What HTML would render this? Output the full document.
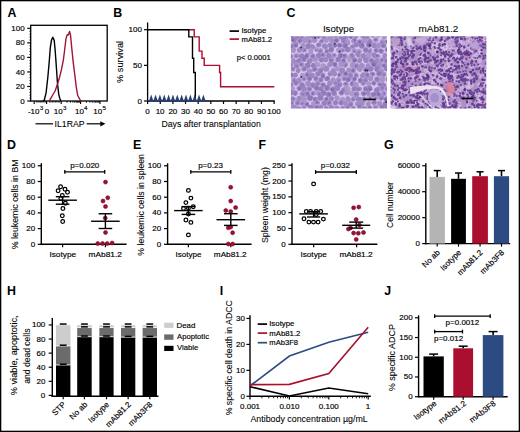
<!DOCTYPE html>
<html><head><meta charset="utf-8"><style>
html,body{margin:0;padding:0;background:#fff;}
svg{display:block;font-family:"Liberation Sans",sans-serif;}
</style></head><body>
<svg width="520" height="432" viewBox="0 0 520 432">
<rect x="0" y="0" width="520" height="432" fill="#fff"/>
<text x="7.59" y="16.70" font-size="12.4" font-weight="bold" text-anchor="start">A</text>
<text x="113.33" y="16.80" font-size="12.4" font-weight="bold" text-anchor="start">B</text>
<text x="286.40" y="16.70" font-size="12.4" font-weight="bold" text-anchor="start">C</text>
<text x="6.93" y="148.75" font-size="12.4" font-weight="bold" text-anchor="start">D</text>
<text x="133.03" y="148.75" font-size="12.4" font-weight="bold" text-anchor="start">E</text>
<text x="258.53" y="148.75" font-size="12.4" font-weight="bold" text-anchor="start">F</text>
<text x="383.90" y="148.75" font-size="12.4" font-weight="bold" text-anchor="start">G</text>
<text x="7.03" y="294.70" font-size="12.4" font-weight="bold" text-anchor="start">H</text>
<text x="219.73" y="294.70" font-size="12.4" font-weight="bold" text-anchor="start">I</text>
<text x="384.35" y="294.70" font-size="12.4" font-weight="bold" text-anchor="start">J</text>
<rect x="30.7" y="25.3" width="76.50" height="75.70" fill="none" stroke="#000" stroke-width="1.3"/>
<line x1="27.30" y1="101.00" x2="30.70" y2="101.00" stroke="#000" stroke-width="1.2" />
<text x="20.24" y="103.60" font-size="8" font-weight="normal" text-anchor="start" stroke="#000" stroke-width="0.16">0</text>
<line x1="27.30" y1="86.47" x2="30.70" y2="86.47" stroke="#000" stroke-width="1.2" />
<text x="15.84" y="89.07" font-size="8" font-weight="normal" text-anchor="start" stroke="#000" stroke-width="0.16">20</text>
<line x1="27.30" y1="71.94" x2="30.70" y2="71.94" stroke="#000" stroke-width="1.2" />
<text x="15.84" y="74.54" font-size="8" font-weight="normal" text-anchor="start" stroke="#000" stroke-width="0.16">40</text>
<line x1="27.30" y1="57.41" x2="30.70" y2="57.41" stroke="#000" stroke-width="1.2" />
<text x="15.84" y="60.01" font-size="8" font-weight="normal" text-anchor="start" stroke="#000" stroke-width="0.16">60</text>
<line x1="27.30" y1="42.88" x2="30.70" y2="42.88" stroke="#000" stroke-width="1.2" />
<text x="15.84" y="45.48" font-size="8" font-weight="normal" text-anchor="start" stroke="#000" stroke-width="0.16">80</text>
<line x1="27.30" y1="28.35" x2="30.70" y2="28.35" stroke="#000" stroke-width="1.2" />
<text x="11.36" y="30.95" font-size="8" font-weight="normal" text-anchor="start" stroke="#000" stroke-width="0.16">100</text>
<line x1="29.40" y1="98.09" x2="30.70" y2="98.09" stroke="#000" stroke-width="0.8" />
<line x1="29.40" y1="95.19" x2="30.70" y2="95.19" stroke="#000" stroke-width="0.8" />
<line x1="29.40" y1="92.28" x2="30.70" y2="92.28" stroke="#000" stroke-width="0.8" />
<line x1="29.40" y1="89.38" x2="30.70" y2="89.38" stroke="#000" stroke-width="0.8" />
<line x1="29.40" y1="83.56" x2="30.70" y2="83.56" stroke="#000" stroke-width="0.8" />
<line x1="29.40" y1="80.66" x2="30.70" y2="80.66" stroke="#000" stroke-width="0.8" />
<line x1="29.40" y1="77.75" x2="30.70" y2="77.75" stroke="#000" stroke-width="0.8" />
<line x1="29.40" y1="74.85" x2="30.70" y2="74.85" stroke="#000" stroke-width="0.8" />
<line x1="29.40" y1="69.03" x2="30.70" y2="69.03" stroke="#000" stroke-width="0.8" />
<line x1="29.40" y1="66.13" x2="30.70" y2="66.13" stroke="#000" stroke-width="0.8" />
<line x1="29.40" y1="63.22" x2="30.70" y2="63.22" stroke="#000" stroke-width="0.8" />
<line x1="29.40" y1="60.32" x2="30.70" y2="60.32" stroke="#000" stroke-width="0.8" />
<line x1="29.40" y1="54.50" x2="30.70" y2="54.50" stroke="#000" stroke-width="0.8" />
<line x1="29.40" y1="51.60" x2="30.70" y2="51.60" stroke="#000" stroke-width="0.8" />
<line x1="29.40" y1="48.69" x2="30.70" y2="48.69" stroke="#000" stroke-width="0.8" />
<line x1="29.40" y1="45.79" x2="30.70" y2="45.79" stroke="#000" stroke-width="0.8" />
<line x1="29.40" y1="39.97" x2="30.70" y2="39.97" stroke="#000" stroke-width="0.8" />
<line x1="29.40" y1="37.07" x2="30.70" y2="37.07" stroke="#000" stroke-width="0.8" />
<line x1="29.40" y1="34.16" x2="30.70" y2="34.16" stroke="#000" stroke-width="0.8" />
<line x1="29.40" y1="31.26" x2="30.70" y2="31.26" stroke="#000" stroke-width="0.8" />
<line x1="34.20" y1="101.00" x2="34.20" y2="104.00" stroke="#000" stroke-width="1.1" />
<line x1="46.60" y1="101.00" x2="46.60" y2="104.00" stroke="#000" stroke-width="1.1" />
<line x1="61.20" y1="101.00" x2="61.20" y2="104.00" stroke="#000" stroke-width="1.1" />
<line x1="80.60" y1="101.00" x2="80.60" y2="104.00" stroke="#000" stroke-width="1.1" />
<line x1="100.00" y1="101.00" x2="100.00" y2="104.00" stroke="#000" stroke-width="1.1" />
<line x1="67.04" y1="101.00" x2="67.04" y2="102.80" stroke="#000" stroke-width="0.8" />
<line x1="70.46" y1="101.00" x2="70.46" y2="102.80" stroke="#000" stroke-width="0.8" />
<line x1="72.88" y1="101.00" x2="72.88" y2="102.80" stroke="#000" stroke-width="0.8" />
<line x1="74.76" y1="101.00" x2="74.76" y2="102.80" stroke="#000" stroke-width="0.8" />
<line x1="76.30" y1="101.00" x2="76.30" y2="102.80" stroke="#000" stroke-width="0.8" />
<line x1="77.59" y1="101.00" x2="77.59" y2="102.80" stroke="#000" stroke-width="0.8" />
<line x1="78.72" y1="101.00" x2="78.72" y2="102.80" stroke="#000" stroke-width="0.8" />
<line x1="79.71" y1="101.00" x2="79.71" y2="102.80" stroke="#000" stroke-width="0.8" />
<line x1="86.44" y1="101.00" x2="86.44" y2="102.80" stroke="#000" stroke-width="0.8" />
<line x1="89.86" y1="101.00" x2="89.86" y2="102.80" stroke="#000" stroke-width="0.8" />
<line x1="92.28" y1="101.00" x2="92.28" y2="102.80" stroke="#000" stroke-width="0.8" />
<line x1="94.16" y1="101.00" x2="94.16" y2="102.80" stroke="#000" stroke-width="0.8" />
<line x1="95.70" y1="101.00" x2="95.70" y2="102.80" stroke="#000" stroke-width="0.8" />
<line x1="96.99" y1="101.00" x2="96.99" y2="102.80" stroke="#000" stroke-width="0.8" />
<line x1="98.12" y1="101.00" x2="98.12" y2="102.80" stroke="#000" stroke-width="0.8" />
<line x1="99.11" y1="101.00" x2="99.11" y2="102.80" stroke="#000" stroke-width="0.8" />
<line x1="49.52" y1="101.00" x2="49.52" y2="102.60" stroke="#000" stroke-width="0.7" />
<line x1="36.68" y1="101.00" x2="36.68" y2="102.60" stroke="#000" stroke-width="0.7" />
<line x1="50.98" y1="101.00" x2="50.98" y2="102.60" stroke="#000" stroke-width="0.7" />
<line x1="37.92" y1="101.00" x2="37.92" y2="102.60" stroke="#000" stroke-width="0.7" />
<line x1="52.44" y1="101.00" x2="52.44" y2="102.60" stroke="#000" stroke-width="0.7" />
<line x1="39.16" y1="101.00" x2="39.16" y2="102.60" stroke="#000" stroke-width="0.7" />
<line x1="53.90" y1="101.00" x2="53.90" y2="102.60" stroke="#000" stroke-width="0.7" />
<line x1="40.40" y1="101.00" x2="40.40" y2="102.60" stroke="#000" stroke-width="0.7" />
<line x1="55.36" y1="101.00" x2="55.36" y2="102.60" stroke="#000" stroke-width="0.7" />
<line x1="41.64" y1="101.00" x2="41.64" y2="102.60" stroke="#000" stroke-width="0.7" />
<line x1="56.82" y1="101.00" x2="56.82" y2="102.60" stroke="#000" stroke-width="0.7" />
<line x1="42.88" y1="101.00" x2="42.88" y2="102.60" stroke="#000" stroke-width="0.7" />
<line x1="58.28" y1="101.00" x2="58.28" y2="102.60" stroke="#000" stroke-width="0.7" />
<line x1="44.12" y1="101.00" x2="44.12" y2="102.60" stroke="#000" stroke-width="0.7" />
<line x1="59.74" y1="101.00" x2="59.74" y2="102.60" stroke="#000" stroke-width="0.7" />
<line x1="45.36" y1="101.00" x2="45.36" y2="102.60" stroke="#000" stroke-width="0.7" />
<text x="27.88" y="113.60" font-size="8" font-weight="normal" text-anchor="start" stroke="#000" stroke-width="0.16">-10</text>
<text x="39.66" y="109.90" font-size="6.2" font-weight="normal" text-anchor="start" stroke="#000" stroke-width="0.16">3</text>
<text x="44.86" y="113.60" font-size="8" font-weight="normal" text-anchor="start" stroke="#000" stroke-width="0.16">0</text>
<text x="53.86" y="113.60" font-size="8" font-weight="normal" text-anchor="start" stroke="#000" stroke-width="0.16">10</text>
<text x="62.92" y="109.90" font-size="6.2" font-weight="normal" text-anchor="start" stroke="#000" stroke-width="0.16">3</text>
<text x="75.06" y="113.60" font-size="8" font-weight="normal" text-anchor="start" stroke="#000" stroke-width="0.16">10</text>
<text x="84.12" y="109.90" font-size="6.2" font-weight="normal" text-anchor="start" stroke="#000" stroke-width="0.16">4</text>
<text x="93.36" y="113.60" font-size="8" font-weight="normal" text-anchor="start" stroke="#000" stroke-width="0.16">10</text>
<text x="102.42" y="109.90" font-size="6.2" font-weight="normal" text-anchor="start" stroke="#000" stroke-width="0.16">5</text>
<text x="54.51" y="127.00" font-size="9.6" font-weight="normal" text-anchor="start" textLength="30.08" lengthAdjust="spacingAndGlyphs" stroke="#000" stroke-width="0.08">IL1RAP</text>
<line x1="35.50" y1="123.80" x2="53.00" y2="123.80" stroke="#000" stroke-width="1.2" />
<line x1="86.60" y1="123.80" x2="101.50" y2="123.80" stroke="#000" stroke-width="1.2" />
<path d="M100.3,121.2 L105.4,123.8 L100.3,126.4 Z" fill="#000"/>
<polyline points="43.00,101.00 44.30,100.00 46.10,92.80 47.90,76.50 49.20,62.10 50.30,47.70 51.50,40.10 52.80,37.20 54.20,40.40 55.10,49.50 56.40,67.50 57.50,83.80 58.80,94.60 60.00,99.10 61.00,100.60" fill="none" stroke="#000" stroke-width="1.4" stroke-linejoin="round"/>
<polyline points="49.00,101.00 49.70,100.20 52.40,95.50 55.10,91.00 57.00,85.60 59.30,78.30 61.50,69.30 63.30,60.30 64.70,49.50 66.00,38.60 67.20,34.70 68.30,35.10 69.60,31.40 70.50,35.00 71.90,49.50 73.20,62.10 75.00,76.50 76.30,87.40 77.70,95.50 80.40,100.40 81.50,101.00" fill="none" stroke="#9e1537" stroke-width="1.4" stroke-linejoin="round"/>
<line x1="147.60" y1="22.50" x2="147.60" y2="101.60" stroke="#000" stroke-width="1.3" />
<line x1="147.00" y1="101.00" x2="274.70" y2="101.00" stroke="#000" stroke-width="1.3" />
<line x1="144.00" y1="101.00" x2="147.60" y2="101.00" stroke="#000" stroke-width="1.2" />
<text x="137.44" y="103.50" font-size="8" font-weight="normal" text-anchor="start" stroke="#000" stroke-width="0.16">0</text>
<line x1="144.00" y1="65.35" x2="147.60" y2="65.35" stroke="#000" stroke-width="1.2" />
<text x="133.04" y="67.85" font-size="8" font-weight="normal" text-anchor="start" stroke="#000" stroke-width="0.16">50</text>
<line x1="144.00" y1="29.70" x2="147.60" y2="29.70" stroke="#000" stroke-width="1.2" />
<text x="128.56" y="32.20" font-size="8" font-weight="normal" text-anchor="start" stroke="#000" stroke-width="0.16">100</text>
<line x1="147.60" y1="101.00" x2="147.60" y2="104.00" stroke="#000" stroke-width="1.2" />
<text x="145.36" y="114.10" font-size="8" font-weight="normal" text-anchor="start" stroke="#000" stroke-width="0.16">0</text>
<line x1="160.25" y1="101.00" x2="160.25" y2="104.00" stroke="#000" stroke-width="1.2" />
<text x="155.65" y="114.10" font-size="8" font-weight="normal" text-anchor="start" stroke="#000" stroke-width="0.16">10</text>
<line x1="172.90" y1="101.00" x2="172.90" y2="104.00" stroke="#000" stroke-width="1.2" />
<text x="168.42" y="114.10" font-size="8" font-weight="normal" text-anchor="start" stroke="#000" stroke-width="0.16">20</text>
<line x1="185.55" y1="101.00" x2="185.55" y2="104.00" stroke="#000" stroke-width="1.2" />
<text x="181.11" y="114.10" font-size="8" font-weight="normal" text-anchor="start" stroke="#000" stroke-width="0.16">30</text>
<line x1="198.20" y1="101.00" x2="198.20" y2="104.00" stroke="#000" stroke-width="1.2" />
<text x="193.84" y="114.10" font-size="8" font-weight="normal" text-anchor="start" stroke="#000" stroke-width="0.16">40</text>
<line x1="210.85" y1="101.00" x2="210.85" y2="104.00" stroke="#000" stroke-width="1.2" />
<text x="206.41" y="114.10" font-size="8" font-weight="normal" text-anchor="start" stroke="#000" stroke-width="0.16">50</text>
<line x1="223.50" y1="101.00" x2="223.50" y2="104.00" stroke="#000" stroke-width="1.2" />
<text x="219.02" y="114.10" font-size="8" font-weight="normal" text-anchor="start" stroke="#000" stroke-width="0.16">60</text>
<line x1="236.15" y1="101.00" x2="236.15" y2="104.00" stroke="#000" stroke-width="1.2" />
<text x="231.67" y="114.10" font-size="8" font-weight="normal" text-anchor="start" stroke="#000" stroke-width="0.16">70</text>
<line x1="248.80" y1="101.00" x2="248.80" y2="104.00" stroke="#000" stroke-width="1.2" />
<text x="244.36" y="114.10" font-size="8" font-weight="normal" text-anchor="start" stroke="#000" stroke-width="0.16">80</text>
<line x1="261.45" y1="101.00" x2="261.45" y2="104.00" stroke="#000" stroke-width="1.2" />
<text x="256.97" y="114.10" font-size="8" font-weight="normal" text-anchor="start" stroke="#000" stroke-width="0.16">90</text>
<line x1="274.10" y1="101.00" x2="274.10" y2="104.00" stroke="#000" stroke-width="1.2" />
<text x="267.26" y="114.10" font-size="8" font-weight="normal" text-anchor="start" stroke="#000" stroke-width="0.16">100</text>
<text x="161.40" y="126.60" font-size="9.9" font-weight="normal" text-anchor="start" textLength="99.37" lengthAdjust="spacingAndGlyphs" stroke="#000" stroke-width="0.08">Days after transplantation</text>
<text x="0.00" y="0.00" font-size="9.6" font-weight="normal" text-anchor="start" textLength="42.09" lengthAdjust="spacingAndGlyphs" transform="translate(123.30,82.97) rotate(-90)" stroke="#000" stroke-width="0.08">% survival</text>
<polyline points="188.80,29.70 194.20,29.70 194.20,36.83 199.20,36.83 199.20,51.09 202.00,51.09 202.00,58.22 204.20,58.22 204.20,65.35 219.60,65.35 219.60,72.48 220.60,72.48 220.60,86.74 274.30,86.74" fill="none" stroke="#aa0f2f" stroke-width="1.4" />
<polyline points="147.60,29.70 188.80,29.70 188.80,36.83 192.50,36.83 192.50,58.22 193.70,58.22 193.70,72.48 195.30,72.48 195.30,101.00" fill="none" stroke="#000" stroke-width="1.4" />
<line x1="147.60" y1="100.80" x2="205.50" y2="100.80" stroke="#27406f" stroke-width="1.5" />
<path d="M149.00,101.0 L151.20,94.6 L153.40,101.0 Z" fill="#27406f"/>
<path d="M153.35,101.0 L155.55,94.6 L157.75,101.0 Z" fill="#27406f"/>
<path d="M157.70,101.0 L159.90,94.6 L162.10,101.0 Z" fill="#27406f"/>
<path d="M162.05,101.0 L164.25,94.6 L166.45,101.0 Z" fill="#27406f"/>
<path d="M166.40,101.0 L168.60,94.6 L170.80,101.0 Z" fill="#27406f"/>
<path d="M170.75,101.0 L172.95,94.6 L175.15,101.0 Z" fill="#27406f"/>
<path d="M175.10,101.0 L177.30,94.6 L179.50,101.0 Z" fill="#27406f"/>
<path d="M179.45,101.0 L181.65,94.6 L183.85,101.0 Z" fill="#27406f"/>
<path d="M183.80,101.0 L186.00,94.6 L188.20,101.0 Z" fill="#27406f"/>
<path d="M188.15,101.0 L190.35,94.6 L192.55,101.0 Z" fill="#27406f"/>
<path d="M192.50,101.0 L194.70,94.6 L196.90,101.0 Z" fill="#27406f"/>
<path d="M196.85,101.0 L199.05,94.6 L201.25,101.0 Z" fill="#27406f"/>
<path d="M201.20,101.0 L203.40,94.6 L205.60,101.0 Z" fill="#27406f"/>
<line x1="229.60" y1="31.10" x2="239.00" y2="31.10" stroke="#000" stroke-width="1.7" />
<text x="241.40" y="32.90" font-size="7.7" font-weight="normal" text-anchor="start" stroke="#000" stroke-width="0.16">Isotype</text>
<line x1="229.60" y1="39.10" x2="239.00" y2="39.10" stroke="#aa0f2f" stroke-width="1.7" />
<text x="241.57" y="41.70" font-size="7.7" font-weight="normal" text-anchor="start" textLength="30.53" lengthAdjust="spacingAndGlyphs" stroke="#000" stroke-width="0.16">mAb81.2</text>
<text x="236.67" y="60.20" font-size="7.7" font-weight="normal" text-anchor="start" textLength="34.09" lengthAdjust="spacingAndGlyphs" stroke="#000" stroke-width="0.16">p&lt; 0.0001</text>
<text x="322.92" y="32.00" font-size="9.7" font-weight="normal" text-anchor="start" stroke="#000" stroke-width="0.08">Isotype</text>
<text x="418.61" y="32.00" font-size="9.7" font-weight="normal" text-anchor="start" textLength="39.66" lengthAdjust="spacingAndGlyphs" stroke="#000" stroke-width="0.08">mAb81.2</text>
<defs><filter id="bl1" x="-5%" y="-5%" width="110%" height="110%"><feGaussianBlur stdDeviation="0.7"/></filter><filter id="bl2" x="-20%" y="-20%" width="140%" height="140%"><feGaussianBlur stdDeviation="1.2"/></filter></defs>
<svg x="290.9" y="36.3" width="96.10" height="72.10" overflow="hidden"><g filter="url(#bl1)">
<rect x="-3" y="-3" width="102.10" height="78.10" fill="#d6c8e8"/>
<ellipse cx="-3.1" cy="-5.6" rx="3.0" ry="2.4" transform="rotate(96 -3.1 -5.6)" fill="rgb(158, 136, 196)"/>
<circle cx="-3.8" cy="-5.6" r="1.1" fill="rgb(140, 116, 182)"/>
<ellipse cx="1.8" cy="-5.0" rx="3.1" ry="2.4" transform="rotate(40 1.8 -5.0)" fill="rgb(165, 143, 200)"/>
<ellipse cx="8.4" cy="-5.0" rx="3.2" ry="2.3" transform="rotate(155 8.4 -5.0)" fill="rgb(156, 134, 195)"/>
<circle cx="8.2" cy="-4.6" r="1.2" fill="rgb(132, 108, 178)"/>
<ellipse cx="13.9" cy="-4.5" rx="2.8" ry="2.7" transform="rotate(11 13.9 -4.5)" fill="rgb(149, 127, 191)"/>
<circle cx="13.8" cy="-4.7" r="1.6" fill="rgb(143, 119, 184)"/>
<ellipse cx="19.1" cy="-5.2" rx="3.1" ry="2.8" transform="rotate(44 19.1 -5.2)" fill="rgb(164, 142, 200)"/>
<circle cx="19.5" cy="-5.5" r="1.9" fill="rgb(147, 123, 187)"/>
<ellipse cx="23.9" cy="-5.0" rx="3.0" ry="2.4" transform="rotate(88 23.9 -5.0)" fill="rgb(149, 127, 191)"/>
<ellipse cx="30.8" cy="-4.6" rx="3.1" ry="2.5" transform="rotate(125 30.8 -4.6)" fill="rgb(164, 142, 200)"/>
<circle cx="31.3" cy="-4.0" r="1.4" fill="rgb(139, 115, 182)"/>
<ellipse cx="36.1" cy="-5.8" rx="3.0" ry="2.8" transform="rotate(179 36.1 -5.8)" fill="rgb(171, 149, 204)"/>
<circle cx="36.3" cy="-6.4" r="1.6" fill="rgb(137, 113, 181)"/>
<ellipse cx="40.5" cy="-5.6" rx="2.5" ry="2.8" transform="rotate(23 40.5 -5.6)" fill="rgb(154, 132, 194)"/>
<circle cx="39.9" cy="-5.7" r="1.5" fill="rgb(147, 123, 187)"/>
<ellipse cx="47.6" cy="-4.1" rx="3.1" ry="2.5" transform="rotate(75 47.6 -4.1)" fill="rgb(158, 136, 196)"/>
<ellipse cx="53.3" cy="-5.6" rx="2.6" ry="2.5" transform="rotate(42 53.3 -5.6)" fill="rgb(161, 139, 198)"/>
<circle cx="52.6" cy="-5.7" r="1.3" fill="rgb(135, 111, 179)"/>
<ellipse cx="57.9" cy="-3.8" rx="3.0" ry="2.7" transform="rotate(111 57.9 -3.8)" fill="rgb(166, 144, 201)"/>
<circle cx="58.3" cy="-3.3" r="1.7" fill="rgb(147, 123, 187)"/>
<ellipse cx="63.0" cy="-5.0" rx="2.6" ry="2.7" transform="rotate(11 63.0 -5.0)" fill="rgb(149, 127, 191)"/>
<circle cx="62.8" cy="-5.6" r="1.2" fill="rgb(133, 109, 178)"/>
<ellipse cx="68.0" cy="-5.7" rx="2.8" ry="2.3" transform="rotate(157 68.0 -5.7)" fill="rgb(165, 143, 200)"/>
<circle cx="67.8" cy="-5.9" r="1.1" fill="rgb(135, 111, 179)"/>
<ellipse cx="75.0" cy="-3.7" rx="2.8" ry="2.6" transform="rotate(15 75.0 -3.7)" fill="rgb(150, 128, 192)"/>
<circle cx="75.5" cy="-4.2" r="1.2" fill="rgb(135, 111, 179)"/>
<ellipse cx="80.7" cy="-4.7" rx="2.6" ry="2.7" transform="rotate(5 80.7 -4.7)" fill="rgb(162, 140, 199)"/>
<ellipse cx="86.0" cy="-4.4" rx="2.7" ry="2.6" transform="rotate(30 86.0 -4.4)" fill="rgb(169, 147, 203)"/>
<circle cx="85.8" cy="-4.7" r="1.7" fill="rgb(145, 121, 186)"/>
<ellipse cx="91.8" cy="-4.0" rx="3.1" ry="2.9" transform="rotate(133 91.8 -4.0)" fill="rgb(154, 132, 194)"/>
<circle cx="91.2" cy="-4.7" r="1.5" fill="rgb(137, 113, 181)"/>
<ellipse cx="95.7" cy="-4.4" rx="3.2" ry="2.6" transform="rotate(169 95.7 -4.4)" fill="rgb(175, 153, 206)"/>
<ellipse cx="101.5" cy="-5.4" rx="2.7" ry="2.4" transform="rotate(37 101.5 -5.4)" fill="rgb(165, 143, 200)"/>
<ellipse cx="108.0" cy="-4.8" rx="3.0" ry="2.9" transform="rotate(15 108.0 -4.8)" fill="rgb(166, 144, 201)"/>
<ellipse cx="-4.9" cy="0.6" rx="2.8" ry="2.4" transform="rotate(142 -4.9 0.6)" fill="rgb(157, 135, 195)"/>
<ellipse cx="1.0" cy="-0.2" rx="2.8" ry="3.0" transform="rotate(130 1.0 -0.2)" fill="rgb(152, 130, 193)"/>
<circle cx="1.6" cy="0.2" r="1.4" fill="rgb(133, 109, 178)"/>
<ellipse cx="6.2" cy="1.1" rx="3.0" ry="2.5" transform="rotate(99 6.2 1.1)" fill="rgb(151, 129, 192)"/>
<circle cx="6.4" cy="1.1" r="1.7" fill="rgb(149, 125, 188)"/>
<ellipse cx="10.9" cy="0.8" rx="3.1" ry="2.4" transform="rotate(45 10.9 0.8)" fill="rgb(156, 134, 195)"/>
<circle cx="10.5" cy="0.7" r="1.2" fill="rgb(141, 117, 183)"/>
<ellipse cx="17.4" cy="-0.3" rx="2.8" ry="2.7" transform="rotate(163 17.4 -0.3)" fill="rgb(159, 137, 197)"/>
<ellipse cx="22.0" cy="0.1" rx="2.9" ry="2.3" transform="rotate(79 22.0 0.1)" fill="rgb(153, 131, 193)"/>
<circle cx="21.5" cy="0.0" r="1.5" fill="rgb(145, 121, 186)"/>
<ellipse cx="27.6" cy="-0.4" rx="2.9" ry="2.7" transform="rotate(141 27.6 -0.4)" fill="rgb(150, 128, 192)"/>
<circle cx="27.3" cy="-0.0" r="1.6" fill="rgb(134, 110, 179)"/>
<ellipse cx="33.1" cy="0.6" rx="3.1" ry="2.6" transform="rotate(110 33.1 0.6)" fill="rgb(162, 140, 198)"/>
<circle cx="33.1" cy="0.6" r="1.5" fill="rgb(143, 119, 185)"/>
<ellipse cx="39.5" cy="0.4" rx="3.1" ry="3.0" transform="rotate(47 39.5 0.4)" fill="rgb(163, 141, 199)"/>
<ellipse cx="44.7" cy="-0.8" rx="2.6" ry="2.6" transform="rotate(13 44.7 -0.8)" fill="rgb(154, 132, 194)"/>
<circle cx="45.1" cy="-0.2" r="1.3" fill="rgb(143, 119, 184)"/>
<ellipse cx="50.0" cy="0.4" rx="2.6" ry="2.9" transform="rotate(174 50.0 0.4)" fill="rgb(154, 132, 194)"/>
<ellipse cx="54.8" cy="-0.0" rx="3.2" ry="2.9" transform="rotate(29 54.8 -0.0)" fill="rgb(160, 138, 197)"/>
<circle cx="54.4" cy="-0.3" r="1.8" fill="rgb(136, 112, 180)"/>
<ellipse cx="59.4" cy="0.1" rx="2.8" ry="2.3" transform="rotate(60 59.4 0.1)" fill="rgb(165, 143, 200)"/>
<circle cx="60.1" cy="0.5" r="1.6" fill="rgb(131, 107, 177)"/>
<ellipse cx="65.1" cy="-0.5" rx="2.5" ry="2.8" transform="rotate(49 65.1 -0.5)" fill="rgb(151, 129, 192)"/>
<circle cx="65.6" cy="-0.9" r="1.2" fill="rgb(148, 124, 187)"/>
<ellipse cx="72.4" cy="0.2" rx="3.0" ry="2.4" transform="rotate(10 72.4 0.2)" fill="rgb(167, 145, 201)"/>
<circle cx="73.0" cy="0.3" r="1.5" fill="rgb(131, 107, 177)"/>
<ellipse cx="76.1" cy="0.8" rx="2.5" ry="2.9" transform="rotate(82 76.1 0.8)" fill="rgb(157, 135, 196)"/>
<circle cx="75.8" cy="0.3" r="1.5" fill="rgb(148, 124, 187)"/>
<ellipse cx="81.9" cy="-0.9" rx="2.6" ry="2.3" transform="rotate(36 81.9 -0.9)" fill="rgb(156, 134, 195)"/>
<circle cx="81.6" cy="-0.9" r="1.2" fill="rgb(145, 121, 185)"/>
<ellipse cx="87.7" cy="-1.1" rx="2.7" ry="2.3" transform="rotate(132 87.7 -1.1)" fill="rgb(163, 141, 199)"/>
<circle cx="88.3" cy="-1.6" r="1.5" fill="rgb(139, 115, 182)"/>
<ellipse cx="93.4" cy="-0.0" rx="3.1" ry="2.6" transform="rotate(91 93.4 -0.0)" fill="rgb(167, 145, 201)"/>
<ellipse cx="98.7" cy="0.7" rx="3.0" ry="2.7" transform="rotate(73 98.7 0.7)" fill="rgb(157, 135, 196)"/>
<circle cx="98.1" cy="1.1" r="1.4" fill="rgb(132, 108, 178)"/>
<ellipse cx="103.8" cy="-0.9" rx="3.1" ry="2.9" transform="rotate(121 103.8 -0.9)" fill="rgb(155, 133, 195)"/>
<circle cx="103.7" cy="-1.4" r="1.6" fill="rgb(135, 111, 180)"/>
<ellipse cx="-3.3" cy="5.8" rx="3.2" ry="2.7" transform="rotate(44 -3.3 5.8)" fill="rgb(175, 153, 206)"/>
<circle cx="-4.0" cy="5.6" r="1.5" fill="rgb(137, 113, 181)"/>
<ellipse cx="2.8" cy="4.1" rx="2.9" ry="2.3" transform="rotate(48 2.8 4.1)" fill="rgb(150, 128, 191)"/>
<circle cx="2.1" cy="3.9" r="1.2" fill="rgb(130, 106, 177)"/>
<ellipse cx="8.4" cy="4.8" rx="3.0" ry="2.8" transform="rotate(129 8.4 4.8)" fill="rgb(172, 150, 205)"/>
<circle cx="9.1" cy="4.4" r="1.7" fill="rgb(136, 112, 180)"/>
<ellipse cx="14.1" cy="3.8" rx="3.1" ry="2.9" transform="rotate(113 14.1 3.8)" fill="rgb(168, 146, 202)"/>
<ellipse cx="18.5" cy="4.8" rx="2.9" ry="2.9" transform="rotate(145 18.5 4.8)" fill="rgb(171, 149, 204)"/>
<circle cx="18.7" cy="5.1" r="1.4" fill="rgb(147, 123, 187)"/>
<ellipse cx="23.7" cy="4.0" rx="2.8" ry="2.4" transform="rotate(150 23.7 4.0)" fill="rgb(163, 141, 199)"/>
<ellipse cx="30.5" cy="5.2" rx="2.8" ry="2.3" transform="rotate(144 30.5 5.2)" fill="rgb(168, 146, 202)"/>
<circle cx="30.8" cy="4.6" r="1.5" fill="rgb(140, 116, 183)"/>
<ellipse cx="35.2" cy="3.8" rx="2.7" ry="2.8" transform="rotate(37 35.2 3.8)" fill="rgb(168, 146, 202)"/>
<ellipse cx="41.2" cy="4.5" rx="2.8" ry="2.8" transform="rotate(138 41.2 4.5)" fill="rgb(165, 143, 200)"/>
<ellipse cx="45.8" cy="4.0" rx="2.7" ry="2.8" transform="rotate(55 45.8 4.0)" fill="rgb(163, 141, 199)"/>
<circle cx="45.5" cy="4.3" r="1.7" fill="rgb(131, 107, 177)"/>
<ellipse cx="52.6" cy="4.3" rx="2.9" ry="2.6" transform="rotate(84 52.6 4.3)" fill="rgb(151, 129, 192)"/>
<ellipse cx="57.1" cy="5.8" rx="3.2" ry="2.3" transform="rotate(83 57.1 5.8)" fill="rgb(170, 148, 204)"/>
<ellipse cx="63.1" cy="4.3" rx="2.6" ry="3.0" transform="rotate(38 63.1 4.3)" fill="rgb(164, 142, 200)"/>
<circle cx="63.8" cy="3.8" r="1.7" fill="rgb(140, 116, 183)"/>
<ellipse cx="68.8" cy="5.6" rx="3.0" ry="2.5" transform="rotate(162 68.8 5.6)" fill="rgb(161, 139, 198)"/>
<circle cx="68.8" cy="5.6" r="1.3" fill="rgb(130, 106, 176)"/>
<ellipse cx="73.5" cy="4.4" rx="2.7" ry="2.9" transform="rotate(0 73.5 4.4)" fill="rgb(169, 147, 203)"/>
<ellipse cx="78.9" cy="5.7" rx="3.0" ry="2.9" transform="rotate(52 78.9 5.7)" fill="rgb(158, 136, 196)"/>
<circle cx="79.0" cy="5.5" r="1.6" fill="rgb(149, 125, 188)"/>
<ellipse cx="84.8" cy="3.8" rx="2.6" ry="2.9" transform="rotate(51 84.8 3.8)" fill="rgb(174, 152, 206)"/>
<circle cx="84.8" cy="3.4" r="1.4" fill="rgb(135, 111, 179)"/>
<ellipse cx="91.8" cy="5.6" rx="3.1" ry="2.7" transform="rotate(164 91.8 5.6)" fill="rgb(174, 152, 206)"/>
<circle cx="91.1" cy="6.0" r="1.5" fill="rgb(144, 120, 185)"/>
<ellipse cx="96.8" cy="5.1" rx="2.7" ry="2.3" transform="rotate(167 96.8 5.1)" fill="rgb(151, 129, 192)"/>
<circle cx="96.5" cy="5.4" r="1.6" fill="rgb(136, 112, 180)"/>
<ellipse cx="101.2" cy="5.1" rx="2.7" ry="2.7" transform="rotate(71 101.2 5.1)" fill="rgb(152, 130, 193)"/>
<circle cx="101.8" cy="5.1" r="1.4" fill="rgb(134, 110, 179)"/>
<ellipse cx="108.1" cy="5.9" rx="2.8" ry="2.4" transform="rotate(35 108.1 5.9)" fill="rgb(150, 128, 191)"/>
<circle cx="107.8" cy="5.5" r="1.4" fill="rgb(131, 107, 177)"/>
<ellipse cx="-4.6" cy="10.1" rx="2.8" ry="2.6" transform="rotate(94 -4.6 10.1)" fill="rgb(158, 136, 196)"/>
<circle cx="-5.0" cy="10.8" r="1.2" fill="rgb(131, 107, 177)"/>
<ellipse cx="0.0" cy="9.9" rx="3.1" ry="2.5" transform="rotate(49 0.0 9.9)" fill="rgb(154, 132, 194)"/>
<circle cx="0.6" cy="10.3" r="1.6" fill="rgb(138, 114, 182)"/>
<ellipse cx="4.4" cy="8.5" rx="3.0" ry="2.9" transform="rotate(85 4.4 8.5)" fill="rgb(164, 142, 200)"/>
<circle cx="5.0" cy="9.0" r="1.9" fill="rgb(137, 113, 181)"/>
<ellipse cx="12.0" cy="9.0" rx="2.6" ry="2.4" transform="rotate(94 12.0 9.0)" fill="rgb(167, 145, 201)"/>
<ellipse cx="17.0" cy="9.9" rx="3.0" ry="2.6" transform="rotate(99 17.0 9.9)" fill="rgb(149, 127, 191)"/>
<ellipse cx="21.4" cy="10.5" rx="3.0" ry="2.5" transform="rotate(23 21.4 10.5)" fill="rgb(155, 133, 194)"/>
<ellipse cx="27.9" cy="8.7" rx="2.5" ry="2.7" transform="rotate(105 27.9 8.7)" fill="rgb(158, 136, 196)"/>
<circle cx="27.3" cy="8.4" r="1.4" fill="rgb(142, 118, 184)"/>
<ellipse cx="34.0" cy="9.9" rx="3.1" ry="2.6" transform="rotate(42 34.0 9.9)" fill="rgb(154, 132, 194)"/>
<ellipse cx="39.0" cy="9.1" rx="2.5" ry="2.6" transform="rotate(121 39.0 9.1)" fill="rgb(159, 137, 197)"/>
<circle cx="39.5" cy="8.8" r="1.2" fill="rgb(143, 119, 184)"/>
<ellipse cx="43.6" cy="9.4" rx="3.0" ry="2.4" transform="rotate(143 43.6 9.4)" fill="rgb(168, 146, 202)"/>
<circle cx="44.3" cy="9.1" r="1.6" fill="rgb(134, 110, 179)"/>
<ellipse cx="48.9" cy="9.0" rx="3.0" ry="2.5" transform="rotate(171 48.9 9.0)" fill="rgb(161, 139, 198)"/>
<circle cx="48.8" cy="9.2" r="1.7" fill="rgb(134, 110, 179)"/>
<ellipse cx="54.2" cy="9.3" rx="2.6" ry="3.0" transform="rotate(26 54.2 9.3)" fill="rgb(149, 127, 191)"/>
<circle cx="54.8" cy="9.9" r="1.7" fill="rgb(137, 113, 181)"/>
<ellipse cx="61.6" cy="10.5" rx="2.7" ry="2.4" transform="rotate(168 61.6 10.5)" fill="rgb(168, 146, 202)"/>
<circle cx="61.4" cy="10.3" r="1.3" fill="rgb(143, 119, 184)"/>
<ellipse cx="65.3" cy="8.5" rx="2.7" ry="2.5" transform="rotate(172 65.3 8.5)" fill="rgb(151, 129, 192)"/>
<ellipse cx="70.9" cy="9.3" rx="3.1" ry="2.9" transform="rotate(78 70.9 9.3)" fill="rgb(149, 127, 191)"/>
<circle cx="71.4" cy="8.8" r="1.6" fill="rgb(137, 113, 181)"/>
<ellipse cx="77.9" cy="8.5" rx="2.8" ry="2.9" transform="rotate(138 77.9 8.5)" fill="rgb(149, 127, 191)"/>
<circle cx="78.5" cy="8.2" r="1.8" fill="rgb(131, 107, 177)"/>
<ellipse cx="83.4" cy="9.2" rx="2.7" ry="3.0" transform="rotate(111 83.4 9.2)" fill="rgb(155, 133, 194)"/>
<ellipse cx="87.6" cy="9.1" rx="2.5" ry="2.8" transform="rotate(165 87.6 9.1)" fill="rgb(165, 143, 201)"/>
<ellipse cx="92.5" cy="9.0" rx="2.8" ry="3.0" transform="rotate(172 92.5 9.0)" fill="rgb(158, 136, 196)"/>
<circle cx="92.4" cy="9.6" r="1.4" fill="rgb(138, 114, 181)"/>
<ellipse cx="99.7" cy="10.1" rx="3.1" ry="2.8" transform="rotate(109 99.7 10.1)" fill="rgb(157, 135, 195)"/>
<circle cx="100.1" cy="9.5" r="1.4" fill="rgb(137, 113, 181)"/>
<ellipse cx="105.1" cy="9.0" rx="2.5" ry="2.3" transform="rotate(99 105.1 9.0)" fill="rgb(157, 135, 195)"/>
<ellipse cx="-1.9" cy="15.4" rx="2.7" ry="2.4" transform="rotate(17 -1.9 15.4)" fill="rgb(161, 139, 198)"/>
<ellipse cx="2.6" cy="13.8" rx="2.8" ry="2.7" transform="rotate(121 2.6 13.8)" fill="rgb(168, 146, 202)"/>
<ellipse cx="8.6" cy="13.5" rx="3.1" ry="2.5" transform="rotate(102 8.6 13.5)" fill="rgb(158, 136, 196)"/>
<ellipse cx="13.1" cy="13.8" rx="2.7" ry="2.4" transform="rotate(159 13.1 13.8)" fill="rgb(164, 142, 200)"/>
<circle cx="13.8" cy="13.8" r="1.2" fill="rgb(137, 113, 181)"/>
<ellipse cx="19.9" cy="14.7" rx="3.2" ry="2.4" transform="rotate(85 19.9 14.7)" fill="rgb(170, 148, 204)"/>
<ellipse cx="25.7" cy="13.3" rx="2.7" ry="2.4" transform="rotate(34 25.7 13.3)" fill="rgb(175, 153, 206)"/>
<circle cx="25.5" cy="13.9" r="1.3" fill="rgb(148, 124, 187)"/>
<ellipse cx="29.7" cy="15.0" rx="3.2" ry="2.4" transform="rotate(107 29.7 15.0)" fill="rgb(165, 143, 200)"/>
<circle cx="29.2" cy="14.6" r="1.2" fill="rgb(137, 113, 181)"/>
<ellipse cx="36.0" cy="14.7" rx="2.6" ry="2.3" transform="rotate(59 36.0 14.7)" fill="rgb(166, 144, 201)"/>
<circle cx="35.6" cy="15.1" r="1.4" fill="rgb(136, 112, 180)"/>
<ellipse cx="40.3" cy="13.5" rx="2.8" ry="2.7" transform="rotate(115 40.3 13.5)" fill="rgb(150, 128, 191)"/>
<circle cx="40.2" cy="13.2" r="1.4" fill="rgb(143, 119, 185)"/>
<ellipse cx="47.7" cy="13.9" rx="2.9" ry="2.6" transform="rotate(75 47.7 13.9)" fill="rgb(172, 150, 204)"/>
<ellipse cx="52.0" cy="13.7" rx="3.0" ry="2.4" transform="rotate(1 52.0 13.7)" fill="rgb(173, 151, 205)"/>
<circle cx="51.8" cy="14.2" r="1.4" fill="rgb(146, 122, 186)"/>
<ellipse cx="57.0" cy="13.3" rx="2.9" ry="2.7" transform="rotate(164 57.0 13.3)" fill="rgb(150, 128, 191)"/>
<ellipse cx="63.0" cy="14.4" rx="2.6" ry="2.5" transform="rotate(94 63.0 14.4)" fill="rgb(173, 151, 205)"/>
<circle cx="63.4" cy="15.0" r="1.2" fill="rgb(139, 115, 182)"/>
<ellipse cx="67.9" cy="15.3" rx="3.2" ry="2.6" transform="rotate(10 67.9 15.3)" fill="rgb(173, 151, 205)"/>
<circle cx="68.1" cy="15.8" r="1.3" fill="rgb(148, 124, 187)"/>
<ellipse cx="74.9" cy="13.7" rx="2.8" ry="2.9" transform="rotate(149 74.9 13.7)" fill="rgb(153, 131, 193)"/>
<circle cx="74.9" cy="13.6" r="1.3" fill="rgb(137, 113, 181)"/>
<ellipse cx="79.2" cy="14.8" rx="3.1" ry="2.3" transform="rotate(101 79.2 14.8)" fill="rgb(169, 147, 203)"/>
<circle cx="78.7" cy="15.0" r="1.4" fill="rgb(146, 122, 186)"/>
<ellipse cx="85.5" cy="13.9" rx="2.8" ry="2.7" transform="rotate(77 85.5 13.9)" fill="rgb(166, 144, 201)"/>
<circle cx="84.9" cy="14.1" r="1.5" fill="rgb(138, 114, 182)"/>
<ellipse cx="90.2" cy="14.9" rx="3.0" ry="2.6" transform="rotate(32 90.2 14.9)" fill="rgb(161, 139, 198)"/>
<circle cx="90.1" cy="14.4" r="1.5" fill="rgb(132, 108, 178)"/>
<ellipse cx="96.3" cy="13.3" rx="2.9" ry="2.4" transform="rotate(132 96.3 13.3)" fill="rgb(169, 147, 203)"/>
<circle cx="96.3" cy="13.2" r="1.6" fill="rgb(131, 107, 177)"/>
<ellipse cx="100.9" cy="15.1" rx="3.2" ry="2.8" transform="rotate(147 100.9 15.1)" fill="rgb(153, 131, 193)"/>
<ellipse cx="107.2" cy="15.4" rx="3.1" ry="2.4" transform="rotate(142 107.2 15.4)" fill="rgb(174, 152, 206)"/>
<circle cx="107.6" cy="14.9" r="1.6" fill="rgb(137, 113, 181)"/>
<ellipse cx="-6.0" cy="19.8" rx="2.6" ry="2.7" transform="rotate(166 -6.0 19.8)" fill="rgb(153, 131, 193)"/>
<circle cx="-6.2" cy="19.2" r="1.3" fill="rgb(140, 116, 182)"/>
<ellipse cx="-0.7" cy="20.1" rx="3.0" ry="2.9" transform="rotate(30 -0.7 20.1)" fill="rgb(169, 147, 203)"/>
<circle cx="-0.6" cy="19.9" r="2.0" fill="rgb(140, 116, 183)"/>
<ellipse cx="5.6" cy="19.3" rx="3.1" ry="2.4" transform="rotate(179 5.6 19.3)" fill="rgb(165, 143, 200)"/>
<circle cx="5.3" cy="20.0" r="1.4" fill="rgb(145, 121, 186)"/>
<ellipse cx="10.7" cy="19.7" rx="2.8" ry="2.4" transform="rotate(134 10.7 19.7)" fill="rgb(149, 127, 191)"/>
<ellipse cx="16.0" cy="19.4" rx="3.2" ry="2.7" transform="rotate(119 16.0 19.4)" fill="rgb(156, 134, 195)"/>
<circle cx="15.5" cy="19.6" r="1.5" fill="rgb(130, 106, 177)"/>
<ellipse cx="22.0" cy="20.0" rx="2.6" ry="2.5" transform="rotate(118 22.0 20.0)" fill="rgb(148, 126, 190)"/>
<circle cx="21.5" cy="19.8" r="1.2" fill="rgb(137, 113, 181)"/>
<ellipse cx="27.7" cy="19.3" rx="2.6" ry="2.7" transform="rotate(85 27.7 19.3)" fill="rgb(151, 129, 192)"/>
<ellipse cx="32.4" cy="18.4" rx="2.6" ry="2.7" transform="rotate(157 32.4 18.4)" fill="rgb(169, 147, 203)"/>
<circle cx="31.8" cy="18.6" r="1.5" fill="rgb(135, 111, 179)"/>
<ellipse cx="38.2" cy="19.5" rx="2.8" ry="3.0" transform="rotate(132 38.2 19.5)" fill="rgb(154, 132, 194)"/>
<ellipse cx="43.0" cy="19.2" rx="2.8" ry="2.5" transform="rotate(11 43.0 19.2)" fill="rgb(169, 147, 203)"/>
<circle cx="43.6" cy="18.7" r="1.2" fill="rgb(141, 117, 183)"/>
<ellipse cx="49.7" cy="19.2" rx="2.9" ry="2.9" transform="rotate(31 49.7 19.2)" fill="rgb(156, 134, 195)"/>
<circle cx="50.3" cy="19.6" r="1.8" fill="rgb(130, 106, 177)"/>
<ellipse cx="53.9" cy="19.9" rx="3.0" ry="2.6" transform="rotate(134 53.9 19.9)" fill="rgb(160, 138, 198)"/>
<circle cx="53.5" cy="19.3" r="1.4" fill="rgb(132, 108, 178)"/>
<ellipse cx="61.0" cy="19.6" rx="3.1" ry="2.8" transform="rotate(48 61.0 19.6)" fill="rgb(163, 141, 199)"/>
<circle cx="61.1" cy="19.2" r="1.7" fill="rgb(145, 121, 186)"/>
<ellipse cx="67.0" cy="18.5" rx="3.1" ry="2.3" transform="rotate(47 67.0 18.5)" fill="rgb(154, 132, 194)"/>
<ellipse cx="72.5" cy="19.7" rx="2.7" ry="2.9" transform="rotate(59 72.5 19.7)" fill="rgb(154, 132, 194)"/>
<ellipse cx="77.3" cy="19.6" rx="3.0" ry="3.0" transform="rotate(85 77.3 19.6)" fill="rgb(171, 149, 204)"/>
<ellipse cx="83.3" cy="19.0" rx="3.0" ry="2.7" transform="rotate(55 83.3 19.0)" fill="rgb(153, 131, 193)"/>
<ellipse cx="87.1" cy="20.0" rx="2.6" ry="2.3" transform="rotate(19 87.1 20.0)" fill="rgb(174, 152, 206)"/>
<circle cx="86.4" cy="19.4" r="1.4" fill="rgb(132, 108, 178)"/>
<ellipse cx="93.8" cy="19.6" rx="3.0" ry="2.3" transform="rotate(106 93.8 19.6)" fill="rgb(158, 136, 196)"/>
<ellipse cx="99.7" cy="20.0" rx="2.5" ry="2.9" transform="rotate(165 99.7 20.0)" fill="rgb(174, 152, 206)"/>
<circle cx="99.2" cy="19.3" r="1.7" fill="rgb(134, 110, 179)"/>
<ellipse cx="105.2" cy="19.4" rx="3.1" ry="2.7" transform="rotate(52 105.2 19.4)" fill="rgb(150, 128, 192)"/>
<circle cx="104.8" cy="19.2" r="1.5" fill="rgb(145, 121, 185)"/>
<ellipse cx="-3.8" cy="23.4" rx="2.7" ry="2.8" transform="rotate(66 -3.8 23.4)" fill="rgb(156, 134, 195)"/>
<ellipse cx="2.8" cy="24.7" rx="2.9" ry="2.3" transform="rotate(74 2.8 24.7)" fill="rgb(160, 138, 197)"/>
<ellipse cx="7.9" cy="24.4" rx="2.9" ry="2.5" transform="rotate(155 7.9 24.4)" fill="rgb(150, 128, 191)"/>
<ellipse cx="13.0" cy="22.8" rx="2.6" ry="2.8" transform="rotate(176 13.0 22.8)" fill="rgb(148, 126, 190)"/>
<circle cx="13.4" cy="22.4" r="1.5" fill="rgb(139, 115, 182)"/>
<ellipse cx="18.9" cy="24.7" rx="2.7" ry="3.0" transform="rotate(51 18.9 24.7)" fill="rgb(154, 132, 194)"/>
<ellipse cx="24.7" cy="23.1" rx="2.9" ry="2.4" transform="rotate(142 24.7 23.1)" fill="rgb(167, 145, 202)"/>
<ellipse cx="30.5" cy="23.6" rx="2.8" ry="2.6" transform="rotate(160 30.5 23.6)" fill="rgb(150, 128, 191)"/>
<ellipse cx="34.7" cy="23.3" rx="2.7" ry="2.9" transform="rotate(90 34.7 23.3)" fill="rgb(158, 136, 196)"/>
<ellipse cx="40.7" cy="23.8" rx="2.9" ry="2.8" transform="rotate(136 40.7 23.8)" fill="rgb(166, 144, 201)"/>
<circle cx="40.2" cy="24.3" r="1.7" fill="rgb(136, 112, 180)"/>
<ellipse cx="47.3" cy="23.2" rx="2.8" ry="2.8" transform="rotate(104 47.3 23.2)" fill="rgb(151, 129, 192)"/>
<circle cx="46.9" cy="22.8" r="1.5" fill="rgb(147, 123, 187)"/>
<ellipse cx="52.7" cy="24.7" rx="2.6" ry="2.4" transform="rotate(45 52.7 24.7)" fill="rgb(157, 135, 195)"/>
<circle cx="52.5" cy="24.2" r="1.7" fill="rgb(133, 109, 178)"/>
<ellipse cx="58.3" cy="23.0" rx="3.2" ry="2.4" transform="rotate(69 58.3 23.0)" fill="rgb(175, 153, 206)"/>
<ellipse cx="63.8" cy="23.8" rx="2.6" ry="2.7" transform="rotate(19 63.8 23.8)" fill="rgb(153, 131, 193)"/>
<circle cx="63.6" cy="24.2" r="1.6" fill="rgb(130, 106, 177)"/>
<ellipse cx="68.8" cy="24.2" rx="2.8" ry="2.4" transform="rotate(109 68.8 24.2)" fill="rgb(159, 137, 197)"/>
<ellipse cx="75.1" cy="23.8" rx="2.9" ry="2.8" transform="rotate(76 75.1 23.8)" fill="rgb(154, 132, 194)"/>
<ellipse cx="80.6" cy="24.5" rx="3.0" ry="2.9" transform="rotate(122 80.6 24.5)" fill="rgb(165, 143, 201)"/>
<circle cx="80.8" cy="24.0" r="1.6" fill="rgb(136, 112, 180)"/>
<ellipse cx="85.9" cy="24.4" rx="2.9" ry="2.5" transform="rotate(76 85.9 24.4)" fill="rgb(160, 138, 198)"/>
<ellipse cx="90.6" cy="24.3" rx="3.2" ry="2.4" transform="rotate(118 90.6 24.3)" fill="rgb(169, 147, 203)"/>
<circle cx="91.2" cy="23.7" r="1.4" fill="rgb(139, 115, 182)"/>
<ellipse cx="95.5" cy="24.5" rx="3.2" ry="2.7" transform="rotate(18 95.5 24.5)" fill="rgb(164, 142, 200)"/>
<circle cx="95.5" cy="24.7" r="1.8" fill="rgb(144, 120, 185)"/>
<ellipse cx="101.8" cy="23.7" rx="3.2" ry="2.4" transform="rotate(123 101.8 23.7)" fill="rgb(158, 136, 196)"/>
<ellipse cx="106.4" cy="25.0" rx="2.7" ry="2.3" transform="rotate(49 106.4 25.0)" fill="rgb(159, 137, 197)"/>
<circle cx="106.3" cy="25.3" r="1.3" fill="rgb(138, 114, 181)"/>
<ellipse cx="-6.0" cy="28.1" rx="3.0" ry="3.0" transform="rotate(95 -6.0 28.1)" fill="rgb(154, 132, 194)"/>
<ellipse cx="-0.2" cy="28.1" rx="2.6" ry="2.8" transform="rotate(146 -0.2 28.1)" fill="rgb(165, 143, 201)"/>
<circle cx="-0.6" cy="28.7" r="1.4" fill="rgb(141, 117, 183)"/>
<ellipse cx="5.8" cy="29.4" rx="3.1" ry="2.6" transform="rotate(53 5.8 29.4)" fill="rgb(163, 141, 199)"/>
<circle cx="5.6" cy="29.9" r="1.4" fill="rgb(146, 122, 186)"/>
<ellipse cx="10.7" cy="28.2" rx="2.8" ry="2.4" transform="rotate(0 10.7 28.2)" fill="rgb(168, 146, 202)"/>
<circle cx="10.5" cy="28.1" r="1.4" fill="rgb(134, 110, 179)"/>
<ellipse cx="16.8" cy="29.1" rx="2.8" ry="3.0" transform="rotate(154 16.8 29.1)" fill="rgb(149, 127, 191)"/>
<ellipse cx="22.9" cy="29.3" rx="2.6" ry="2.9" transform="rotate(114 22.9 29.3)" fill="rgb(148, 126, 190)"/>
<circle cx="23.1" cy="29.0" r="1.2" fill="rgb(149, 125, 188)"/>
<ellipse cx="26.7" cy="28.1" rx="3.0" ry="2.5" transform="rotate(27 26.7 28.1)" fill="rgb(173, 151, 205)"/>
<ellipse cx="32.3" cy="29.6" rx="2.9" ry="2.8" transform="rotate(120 32.3 29.6)" fill="rgb(173, 151, 205)"/>
<ellipse cx="39.2" cy="28.0" rx="3.0" ry="2.7" transform="rotate(134 39.2 28.0)" fill="rgb(160, 138, 197)"/>
<ellipse cx="44.1" cy="28.2" rx="2.7" ry="2.4" transform="rotate(89 44.1 28.2)" fill="rgb(149, 127, 191)"/>
<circle cx="44.1" cy="28.2" r="1.4" fill="rgb(132, 108, 178)"/>
<ellipse cx="50.3" cy="27.6" rx="3.1" ry="2.6" transform="rotate(101 50.3 27.6)" fill="rgb(166, 144, 201)"/>
<ellipse cx="54.7" cy="28.5" rx="3.2" ry="2.4" transform="rotate(115 54.7 28.5)" fill="rgb(165, 143, 201)"/>
<circle cx="55.0" cy="29.1" r="1.3" fill="rgb(142, 118, 184)"/>
<ellipse cx="61.6" cy="28.7" rx="2.8" ry="2.9" transform="rotate(6 61.6 28.7)" fill="rgb(168, 146, 202)"/>
<ellipse cx="65.6" cy="29.5" rx="2.8" ry="2.6" transform="rotate(95 65.6 29.5)" fill="rgb(169, 147, 203)"/>
<circle cx="65.5" cy="29.6" r="1.7" fill="rgb(138, 114, 182)"/>
<ellipse cx="71.0" cy="29.4" rx="2.8" ry="2.7" transform="rotate(49 71.0 29.4)" fill="rgb(162, 140, 198)"/>
<ellipse cx="77.3" cy="29.4" rx="2.7" ry="2.5" transform="rotate(54 77.3 29.4)" fill="rgb(164, 142, 200)"/>
<ellipse cx="83.1" cy="27.7" rx="3.0" ry="2.9" transform="rotate(98 83.1 27.7)" fill="rgb(149, 127, 191)"/>
<circle cx="82.7" cy="28.3" r="1.8" fill="rgb(130, 106, 176)"/>
<ellipse cx="88.3" cy="29.3" rx="3.1" ry="2.7" transform="rotate(111 88.3 29.3)" fill="rgb(165, 143, 200)"/>
<ellipse cx="93.7" cy="29.1" rx="2.6" ry="2.8" transform="rotate(82 93.7 29.1)" fill="rgb(169, 147, 203)"/>
<circle cx="93.1" cy="29.5" r="1.8" fill="rgb(133, 109, 178)"/>
<ellipse cx="99.3" cy="28.4" rx="3.1" ry="2.9" transform="rotate(101 99.3 28.4)" fill="rgb(155, 133, 194)"/>
<circle cx="99.1" cy="28.3" r="1.7" fill="rgb(138, 114, 181)"/>
<ellipse cx="105.5" cy="27.7" rx="2.9" ry="2.3" transform="rotate(21 105.5 27.7)" fill="rgb(170, 148, 204)"/>
<circle cx="105.4" cy="27.0" r="1.3" fill="rgb(148, 124, 187)"/>
<ellipse cx="-2.5" cy="34.5" rx="3.2" ry="2.6" transform="rotate(74 -2.5 34.5)" fill="rgb(150, 128, 192)"/>
<ellipse cx="2.1" cy="32.7" rx="2.5" ry="2.3" transform="rotate(123 2.1 32.7)" fill="rgb(151, 129, 192)"/>
<ellipse cx="7.3" cy="34.3" rx="2.6" ry="2.3" transform="rotate(129 7.3 34.3)" fill="rgb(154, 132, 194)"/>
<ellipse cx="13.1" cy="32.5" rx="3.0" ry="2.8" transform="rotate(154 13.1 32.5)" fill="rgb(168, 146, 202)"/>
<circle cx="13.4" cy="32.5" r="1.9" fill="rgb(142, 118, 184)"/>
<ellipse cx="18.7" cy="34.5" rx="3.0" ry="2.3" transform="rotate(3 18.7 34.5)" fill="rgb(166, 144, 201)"/>
<ellipse cx="23.8" cy="33.1" rx="3.0" ry="2.4" transform="rotate(155 23.8 33.1)" fill="rgb(161, 139, 198)"/>
<circle cx="23.9" cy="33.0" r="1.5" fill="rgb(137, 113, 181)"/>
<ellipse cx="29.5" cy="34.1" rx="2.8" ry="2.8" transform="rotate(113 29.5 34.1)" fill="rgb(159, 137, 197)"/>
<circle cx="30.1" cy="34.5" r="1.6" fill="rgb(145, 121, 186)"/>
<ellipse cx="35.3" cy="32.5" rx="3.2" ry="2.8" transform="rotate(149 35.3 32.5)" fill="rgb(157, 135, 195)"/>
<ellipse cx="42.3" cy="34.2" rx="2.9" ry="2.5" transform="rotate(77 42.3 34.2)" fill="rgb(172, 150, 205)"/>
<circle cx="42.4" cy="34.8" r="1.6" fill="rgb(143, 119, 185)"/>
<ellipse cx="46.3" cy="32.4" rx="2.7" ry="2.6" transform="rotate(106 46.3 32.4)" fill="rgb(170, 148, 204)"/>
<ellipse cx="51.2" cy="34.2" rx="3.1" ry="2.9" transform="rotate(103 51.2 34.2)" fill="rgb(155, 133, 195)"/>
<ellipse cx="58.4" cy="33.9" rx="3.1" ry="2.5" transform="rotate(15 58.4 33.9)" fill="rgb(163, 141, 199)"/>
<ellipse cx="62.6" cy="34.0" rx="3.2" ry="2.5" transform="rotate(109 62.6 34.0)" fill="rgb(166, 144, 201)"/>
<circle cx="62.2" cy="34.4" r="1.6" fill="rgb(134, 110, 179)"/>
<ellipse cx="68.7" cy="32.6" rx="3.1" ry="2.8" transform="rotate(42 68.7 32.6)" fill="rgb(164, 142, 200)"/>
<ellipse cx="75.1" cy="33.5" rx="2.8" ry="2.7" transform="rotate(34 75.1 33.5)" fill="rgb(153, 131, 193)"/>
<circle cx="74.9" cy="33.6" r="1.5" fill="rgb(144, 120, 185)"/>
<ellipse cx="79.8" cy="32.7" rx="2.5" ry="3.0" transform="rotate(67 79.8 32.7)" fill="rgb(150, 128, 192)"/>
<ellipse cx="85.9" cy="32.7" rx="2.9" ry="2.5" transform="rotate(94 85.9 32.7)" fill="rgb(148, 126, 190)"/>
<circle cx="86.4" cy="32.7" r="1.5" fill="rgb(149, 125, 188)"/>
<ellipse cx="90.2" cy="34.1" rx="2.8" ry="3.0" transform="rotate(138 90.2 34.1)" fill="rgb(170, 148, 204)"/>
<ellipse cx="95.7" cy="32.5" rx="2.6" ry="2.4" transform="rotate(15 95.7 32.5)" fill="rgb(149, 127, 191)"/>
<circle cx="95.7" cy="33.1" r="1.6" fill="rgb(147, 123, 187)"/>
<ellipse cx="100.8" cy="33.7" rx="2.8" ry="2.4" transform="rotate(173 100.8 33.7)" fill="rgb(155, 133, 194)"/>
<circle cx="101.4" cy="33.9" r="1.3" fill="rgb(142, 118, 184)"/>
<ellipse cx="107.1" cy="32.7" rx="3.2" ry="3.0" transform="rotate(40 107.1 32.7)" fill="rgb(149, 127, 191)"/>
<circle cx="107.7" cy="33.3" r="2.0" fill="rgb(137, 113, 181)"/>
<ellipse cx="-6.5" cy="38.9" rx="3.0" ry="2.8" transform="rotate(177 -6.5 38.9)" fill="rgb(149, 127, 191)"/>
<circle cx="-5.9" cy="39.2" r="1.4" fill="rgb(145, 121, 185)"/>
<ellipse cx="0.2" cy="38.8" rx="2.6" ry="2.5" transform="rotate(46 0.2 38.8)" fill="rgb(151, 129, 192)"/>
<circle cx="-0.2" cy="38.3" r="1.6" fill="rgb(133, 109, 178)"/>
<ellipse cx="4.4" cy="38.8" rx="2.6" ry="2.3" transform="rotate(167 4.4 38.8)" fill="rgb(154, 132, 194)"/>
<ellipse cx="11.8" cy="39.1" rx="2.6" ry="2.6" transform="rotate(17 11.8 39.1)" fill="rgb(174, 152, 206)"/>
<ellipse cx="16.8" cy="38.2" rx="2.7" ry="2.9" transform="rotate(86 16.8 38.2)" fill="rgb(165, 143, 200)"/>
<circle cx="16.2" cy="38.5" r="1.6" fill="rgb(134, 110, 179)"/>
<ellipse cx="21.2" cy="39.1" rx="2.7" ry="2.6" transform="rotate(28 21.2 39.1)" fill="rgb(155, 133, 194)"/>
<ellipse cx="27.1" cy="37.5" rx="2.8" ry="2.5" transform="rotate(163 27.1 37.5)" fill="rgb(151, 129, 192)"/>
<ellipse cx="32.0" cy="39.1" rx="3.0" ry="2.4" transform="rotate(86 32.0 39.1)" fill="rgb(156, 134, 195)"/>
<circle cx="31.8" cy="39.8" r="1.7" fill="rgb(134, 110, 179)"/>
<ellipse cx="39.4" cy="37.4" rx="2.7" ry="2.9" transform="rotate(10 39.4 37.4)" fill="rgb(168, 146, 202)"/>
<circle cx="38.8" cy="37.8" r="1.4" fill="rgb(149, 125, 188)"/>
<ellipse cx="43.2" cy="37.2" rx="3.1" ry="2.7" transform="rotate(33 43.2 37.2)" fill="rgb(160, 138, 197)"/>
<ellipse cx="48.9" cy="38.4" rx="2.6" ry="2.4" transform="rotate(139 48.9 38.4)" fill="rgb(167, 145, 202)"/>
<circle cx="48.3" cy="38.6" r="1.4" fill="rgb(131, 107, 177)"/>
<ellipse cx="54.5" cy="37.6" rx="2.9" ry="2.8" transform="rotate(146 54.5 37.6)" fill="rgb(164, 142, 200)"/>
<circle cx="54.8" cy="37.5" r="1.8" fill="rgb(131, 107, 177)"/>
<ellipse cx="59.5" cy="39.0" rx="2.7" ry="2.9" transform="rotate(156 59.5 39.0)" fill="rgb(161, 139, 198)"/>
<circle cx="59.5" cy="39.5" r="1.4" fill="rgb(148, 124, 187)"/>
<ellipse cx="65.3" cy="39.0" rx="2.8" ry="2.4" transform="rotate(67 65.3 39.0)" fill="rgb(164, 142, 200)"/>
<circle cx="65.2" cy="39.0" r="1.2" fill="rgb(140, 116, 183)"/>
<ellipse cx="72.0" cy="39.0" rx="3.1" ry="2.5" transform="rotate(128 72.0 39.0)" fill="rgb(158, 136, 196)"/>
<ellipse cx="76.0" cy="39.1" rx="3.2" ry="2.6" transform="rotate(92 76.0 39.1)" fill="rgb(162, 140, 199)"/>
<circle cx="76.7" cy="38.7" r="1.3" fill="rgb(130, 106, 177)"/>
<ellipse cx="81.6" cy="37.7" rx="3.1" ry="2.3" transform="rotate(17 81.6 37.7)" fill="rgb(167, 145, 202)"/>
<circle cx="81.8" cy="37.8" r="1.3" fill="rgb(130, 106, 177)"/>
<ellipse cx="88.4" cy="37.4" rx="3.1" ry="2.8" transform="rotate(8 88.4 37.4)" fill="rgb(151, 129, 192)"/>
<circle cx="88.1" cy="36.9" r="1.5" fill="rgb(140, 116, 182)"/>
<ellipse cx="92.7" cy="38.5" rx="3.1" ry="2.4" transform="rotate(103 92.7 38.5)" fill="rgb(168, 146, 202)"/>
<circle cx="93.3" cy="38.3" r="1.3" fill="rgb(146, 122, 186)"/>
<ellipse cx="99.7" cy="38.3" rx="2.8" ry="3.0" transform="rotate(140 99.7 38.3)" fill="rgb(157, 135, 196)"/>
<circle cx="99.7" cy="39.0" r="1.8" fill="rgb(136, 112, 180)"/>
<ellipse cx="105.4" cy="39.0" rx="3.1" ry="2.3" transform="rotate(93 105.4 39.0)" fill="rgb(174, 152, 206)"/>
<ellipse cx="-3.3" cy="42.9" rx="2.9" ry="2.6" transform="rotate(96 -3.3 42.9)" fill="rgb(149, 127, 191)"/>
<circle cx="-4.0" cy="42.4" r="1.8" fill="rgb(140, 116, 182)"/>
<ellipse cx="3.4" cy="44.0" rx="2.9" ry="2.9" transform="rotate(159 3.4 44.0)" fill="rgb(172, 150, 205)"/>
<circle cx="3.0" cy="44.3" r="1.5" fill="rgb(142, 118, 184)"/>
<ellipse cx="8.3" cy="44.0" rx="2.9" ry="2.5" transform="rotate(94 8.3 44.0)" fill="rgb(160, 138, 197)"/>
<ellipse cx="13.3" cy="42.6" rx="3.0" ry="2.4" transform="rotate(107 13.3 42.6)" fill="rgb(174, 152, 206)"/>
<circle cx="13.2" cy="42.7" r="1.2" fill="rgb(135, 111, 180)"/>
<ellipse cx="18.4" cy="42.3" rx="2.7" ry="2.6" transform="rotate(52 18.4 42.3)" fill="rgb(154, 132, 194)"/>
<circle cx="18.9" cy="42.4" r="1.5" fill="rgb(140, 116, 183)"/>
<ellipse cx="25.1" cy="42.4" rx="3.0" ry="2.6" transform="rotate(99 25.1 42.4)" fill="rgb(165, 143, 200)"/>
<circle cx="24.7" cy="42.0" r="1.5" fill="rgb(136, 112, 180)"/>
<ellipse cx="30.0" cy="43.3" rx="2.5" ry="2.5" transform="rotate(155 30.0 43.3)" fill="rgb(154, 132, 194)"/>
<circle cx="29.7" cy="43.9" r="1.3" fill="rgb(139, 115, 182)"/>
<ellipse cx="36.3" cy="42.3" rx="2.5" ry="2.9" transform="rotate(79 36.3 42.3)" fill="rgb(149, 127, 191)"/>
<circle cx="36.7" cy="41.8" r="1.3" fill="rgb(138, 114, 182)"/>
<ellipse cx="42.3" cy="43.6" rx="2.6" ry="2.5" transform="rotate(63 42.3 43.6)" fill="rgb(166, 144, 201)"/>
<ellipse cx="47.5" cy="43.8" rx="2.9" ry="2.8" transform="rotate(134 47.5 43.8)" fill="rgb(169, 147, 203)"/>
<circle cx="47.8" cy="44.4" r="1.4" fill="rgb(145, 121, 186)"/>
<ellipse cx="53.1" cy="42.0" rx="3.0" ry="2.7" transform="rotate(90 53.1 42.0)" fill="rgb(174, 152, 206)"/>
<circle cx="53.5" cy="42.5" r="1.6" fill="rgb(138, 114, 181)"/>
<ellipse cx="57.5" cy="43.0" rx="2.8" ry="2.8" transform="rotate(53 57.5 43.0)" fill="rgb(158, 136, 196)"/>
<circle cx="57.2" cy="43.4" r="1.9" fill="rgb(137, 113, 181)"/>
<ellipse cx="63.2" cy="42.9" rx="2.6" ry="2.5" transform="rotate(26 63.2 42.9)" fill="rgb(164, 142, 200)"/>
<circle cx="63.8" cy="42.7" r="1.7" fill="rgb(131, 107, 177)"/>
<ellipse cx="69.5" cy="44.1" rx="2.6" ry="2.6" transform="rotate(164 69.5 44.1)" fill="rgb(148, 126, 190)"/>
<circle cx="69.5" cy="44.7" r="1.7" fill="rgb(141, 117, 183)"/>
<ellipse cx="74.3" cy="44.2" rx="2.9" ry="2.7" transform="rotate(123 74.3 44.2)" fill="rgb(158, 136, 196)"/>
<circle cx="74.1" cy="44.8" r="1.6" fill="rgb(141, 117, 183)"/>
<ellipse cx="79.8" cy="42.2" rx="2.8" ry="2.6" transform="rotate(101 79.8 42.2)" fill="rgb(164, 142, 200)"/>
<ellipse cx="86.3" cy="43.0" rx="2.8" ry="2.7" transform="rotate(179 86.3 43.0)" fill="rgb(157, 135, 196)"/>
<circle cx="85.8" cy="42.8" r="1.9" fill="rgb(146, 122, 186)"/>
<ellipse cx="91.5" cy="43.1" rx="2.6" ry="2.9" transform="rotate(124 91.5 43.1)" fill="rgb(170, 148, 204)"/>
<ellipse cx="97.1" cy="42.9" rx="2.6" ry="2.5" transform="rotate(92 97.1 42.9)" fill="rgb(162, 140, 198)"/>
<circle cx="97.3" cy="43.0" r="1.3" fill="rgb(133, 109, 178)"/>
<ellipse cx="102.8" cy="43.4" rx="2.5" ry="2.6" transform="rotate(142 102.8 43.4)" fill="rgb(156, 134, 195)"/>
<ellipse cx="106.2" cy="42.6" rx="3.1" ry="2.7" transform="rotate(120 106.2 42.6)" fill="rgb(153, 131, 193)"/>
<circle cx="105.8" cy="42.8" r="1.6" fill="rgb(141, 117, 183)"/>
<ellipse cx="-4.4" cy="48.0" rx="2.8" ry="2.4" transform="rotate(28 -4.4 48.0)" fill="rgb(169, 147, 203)"/>
<circle cx="-4.9" cy="48.0" r="1.6" fill="rgb(132, 108, 178)"/>
<ellipse cx="0.2" cy="48.5" rx="2.5" ry="2.3" transform="rotate(139 0.2 48.5)" fill="rgb(157, 135, 195)"/>
<ellipse cx="5.2" cy="47.1" rx="2.7" ry="2.4" transform="rotate(163 5.2 47.1)" fill="rgb(164, 142, 200)"/>
<circle cx="5.0" cy="46.5" r="1.6" fill="rgb(138, 114, 182)"/>
<ellipse cx="11.2" cy="48.9" rx="2.8" ry="2.7" transform="rotate(45 11.2 48.9)" fill="rgb(149, 127, 191)"/>
<ellipse cx="17.3" cy="47.4" rx="3.1" ry="2.9" transform="rotate(55 17.3 47.4)" fill="rgb(164, 142, 200)"/>
<ellipse cx="22.0" cy="48.8" rx="2.7" ry="2.6" transform="rotate(129 22.0 48.8)" fill="rgb(154, 132, 194)"/>
<circle cx="22.0" cy="49.2" r="1.3" fill="rgb(147, 123, 187)"/>
<ellipse cx="26.8" cy="47.5" rx="2.6" ry="3.0" transform="rotate(52 26.8 47.5)" fill="rgb(163, 141, 199)"/>
<circle cx="26.6" cy="47.4" r="1.2" fill="rgb(140, 116, 183)"/>
<ellipse cx="32.2" cy="48.6" rx="2.7" ry="2.5" transform="rotate(34 32.2 48.6)" fill="rgb(155, 133, 195)"/>
<circle cx="32.4" cy="48.3" r="1.2" fill="rgb(130, 106, 177)"/>
<ellipse cx="39.0" cy="47.0" rx="2.7" ry="2.9" transform="rotate(23 39.0 47.0)" fill="rgb(160, 138, 197)"/>
<ellipse cx="44.7" cy="47.1" rx="2.7" ry="2.8" transform="rotate(68 44.7 47.1)" fill="rgb(174, 152, 206)"/>
<circle cx="44.7" cy="46.7" r="1.5" fill="rgb(149, 125, 188)"/>
<ellipse cx="48.7" cy="48.3" rx="2.7" ry="2.9" transform="rotate(106 48.7 48.3)" fill="rgb(158, 136, 196)"/>
<circle cx="48.3" cy="48.8" r="1.3" fill="rgb(142, 118, 184)"/>
<ellipse cx="55.0" cy="47.9" rx="2.7" ry="2.8" transform="rotate(69 55.0 47.9)" fill="rgb(166, 144, 201)"/>
<circle cx="54.9" cy="47.4" r="1.3" fill="rgb(136, 112, 180)"/>
<ellipse cx="61.3" cy="47.5" rx="3.0" ry="2.4" transform="rotate(101 61.3 47.5)" fill="rgb(158, 136, 196)"/>
<circle cx="60.7" cy="47.2" r="1.2" fill="rgb(135, 111, 180)"/>
<ellipse cx="65.2" cy="48.3" rx="2.7" ry="2.6" transform="rotate(164 65.2 48.3)" fill="rgb(169, 147, 203)"/>
<ellipse cx="72.3" cy="47.0" rx="2.7" ry="2.3" transform="rotate(122 72.3 47.0)" fill="rgb(166, 144, 201)"/>
<circle cx="72.5" cy="47.3" r="1.2" fill="rgb(138, 114, 181)"/>
<ellipse cx="77.8" cy="47.5" rx="2.9" ry="2.4" transform="rotate(21 77.8 47.5)" fill="rgb(173, 151, 205)"/>
<ellipse cx="83.0" cy="46.8" rx="2.5" ry="2.4" transform="rotate(36 83.0 46.8)" fill="rgb(156, 134, 195)"/>
<circle cx="82.7" cy="47.0" r="1.2" fill="rgb(130, 106, 177)"/>
<ellipse cx="88.7" cy="48.0" rx="3.0" ry="2.5" transform="rotate(78 88.7 48.0)" fill="rgb(167, 145, 201)"/>
<circle cx="89.2" cy="48.4" r="1.3" fill="rgb(130, 106, 176)"/>
<ellipse cx="92.5" cy="48.6" rx="2.9" ry="2.3" transform="rotate(44 92.5 48.6)" fill="rgb(151, 129, 192)"/>
<ellipse cx="98.4" cy="48.8" rx="3.0" ry="2.4" transform="rotate(125 98.4 48.8)" fill="rgb(159, 137, 197)"/>
<ellipse cx="105.2" cy="47.4" rx="2.6" ry="3.0" transform="rotate(76 105.2 47.4)" fill="rgb(174, 152, 206)"/>
<ellipse cx="-2.2" cy="53.4" rx="2.9" ry="2.6" transform="rotate(10 -2.2 53.4)" fill="rgb(167, 145, 202)"/>
<circle cx="-1.6" cy="52.8" r="1.7" fill="rgb(140, 116, 182)"/>
<ellipse cx="1.7" cy="53.1" rx="3.1" ry="2.5" transform="rotate(98 1.7 53.1)" fill="rgb(175, 153, 206)"/>
<ellipse cx="8.3" cy="52.1" rx="2.5" ry="2.6" transform="rotate(74 8.3 52.1)" fill="rgb(153, 131, 193)"/>
<circle cx="8.6" cy="52.3" r="1.3" fill="rgb(132, 108, 178)"/>
<ellipse cx="13.2" cy="52.7" rx="2.8" ry="3.0" transform="rotate(63 13.2 52.7)" fill="rgb(156, 134, 195)"/>
<ellipse cx="18.5" cy="52.8" rx="2.7" ry="2.9" transform="rotate(99 18.5 52.8)" fill="rgb(169, 147, 203)"/>
<circle cx="18.6" cy="52.7" r="1.8" fill="rgb(143, 119, 184)"/>
<ellipse cx="25.5" cy="51.8" rx="2.7" ry="2.6" transform="rotate(37 25.5 51.8)" fill="rgb(149, 127, 191)"/>
<circle cx="25.8" cy="51.7" r="1.2" fill="rgb(133, 109, 179)"/>
<ellipse cx="29.9" cy="52.6" rx="2.8" ry="2.4" transform="rotate(13 29.9 52.6)" fill="rgb(148, 126, 190)"/>
<ellipse cx="36.3" cy="51.7" rx="3.0" ry="3.0" transform="rotate(101 36.3 51.7)" fill="rgb(151, 129, 192)"/>
<circle cx="35.9" cy="51.8" r="1.3" fill="rgb(138, 114, 182)"/>
<ellipse cx="42.2" cy="53.0" rx="2.9" ry="3.0" transform="rotate(117 42.2 53.0)" fill="rgb(155, 133, 194)"/>
<circle cx="41.5" cy="53.3" r="1.9" fill="rgb(132, 108, 178)"/>
<ellipse cx="46.3" cy="51.9" rx="2.9" ry="2.9" transform="rotate(167 46.3 51.9)" fill="rgb(152, 130, 193)"/>
<ellipse cx="53.0" cy="53.2" rx="2.7" ry="2.4" transform="rotate(149 53.0 53.2)" fill="rgb(156, 134, 195)"/>
<circle cx="52.8" cy="53.6" r="1.2" fill="rgb(141, 117, 183)"/>
<ellipse cx="56.7" cy="52.8" rx="2.9" ry="2.9" transform="rotate(127 56.7 52.8)" fill="rgb(173, 151, 205)"/>
<ellipse cx="63.2" cy="52.6" rx="2.6" ry="2.5" transform="rotate(105 63.2 52.6)" fill="rgb(150, 128, 191)"/>
<ellipse cx="68.0" cy="52.5" rx="3.2" ry="2.4" transform="rotate(7 68.0 52.5)" fill="rgb(160, 138, 197)"/>
<circle cx="67.3" cy="53.0" r="1.6" fill="rgb(144, 120, 185)"/>
<ellipse cx="74.9" cy="52.5" rx="2.7" ry="2.8" transform="rotate(93 74.9 52.5)" fill="rgb(159, 137, 197)"/>
<circle cx="75.1" cy="52.9" r="1.8" fill="rgb(138, 114, 182)"/>
<ellipse cx="79.0" cy="52.2" rx="2.8" ry="2.7" transform="rotate(63 79.0 52.2)" fill="rgb(153, 131, 193)"/>
<circle cx="79.0" cy="52.8" r="1.8" fill="rgb(136, 112, 180)"/>
<ellipse cx="86.1" cy="53.7" rx="3.2" ry="2.7" transform="rotate(146 86.1 53.7)" fill="rgb(149, 127, 191)"/>
<ellipse cx="91.0" cy="52.2" rx="2.9" ry="3.0" transform="rotate(87 91.0 52.2)" fill="rgb(166, 144, 201)"/>
<circle cx="91.5" cy="51.5" r="1.4" fill="rgb(136, 112, 180)"/>
<ellipse cx="96.6" cy="52.5" rx="2.6" ry="2.8" transform="rotate(67 96.6 52.5)" fill="rgb(164, 142, 200)"/>
<circle cx="96.7" cy="52.4" r="1.2" fill="rgb(140, 116, 183)"/>
<ellipse cx="101.0" cy="53.5" rx="2.9" ry="2.4" transform="rotate(155 101.0 53.5)" fill="rgb(155, 133, 194)"/>
<circle cx="100.7" cy="53.5" r="1.4" fill="rgb(140, 116, 183)"/>
<ellipse cx="106.6" cy="52.8" rx="2.6" ry="2.7" transform="rotate(106 106.6 52.8)" fill="rgb(150, 128, 191)"/>
<circle cx="106.6" cy="53.3" r="1.5" fill="rgb(131, 107, 177)"/>
<ellipse cx="-5.0" cy="58.0" rx="2.6" ry="3.0" transform="rotate(130 -5.0 58.0)" fill="rgb(150, 128, 192)"/>
<ellipse cx="-0.2" cy="56.7" rx="3.2" ry="2.7" transform="rotate(139 -0.2 56.7)" fill="rgb(151, 129, 192)"/>
<ellipse cx="4.5" cy="56.8" rx="2.8" ry="2.3" transform="rotate(107 4.5 56.8)" fill="rgb(153, 131, 193)"/>
<circle cx="4.4" cy="57.4" r="1.4" fill="rgb(144, 120, 185)"/>
<ellipse cx="11.8" cy="57.6" rx="3.1" ry="2.9" transform="rotate(30 11.8 57.6)" fill="rgb(168, 146, 202)"/>
<circle cx="12.1" cy="58.0" r="1.4" fill="rgb(145, 121, 185)"/>
<ellipse cx="16.2" cy="57.9" rx="3.2" ry="2.8" transform="rotate(8 16.2 57.9)" fill="rgb(164, 142, 200)"/>
<circle cx="16.6" cy="57.4" r="1.9" fill="rgb(140, 116, 183)"/>
<ellipse cx="22.4" cy="56.9" rx="2.6" ry="2.6" transform="rotate(151 22.4 56.9)" fill="rgb(164, 142, 200)"/>
<circle cx="21.8" cy="57.3" r="1.3" fill="rgb(130, 106, 177)"/>
<ellipse cx="27.6" cy="57.0" rx="3.0" ry="2.6" transform="rotate(26 27.6 57.0)" fill="rgb(172, 150, 205)"/>
<circle cx="28.1" cy="57.6" r="1.2" fill="rgb(143, 119, 185)"/>
<ellipse cx="32.7" cy="56.7" rx="2.9" ry="2.9" transform="rotate(144 32.7 56.7)" fill="rgb(148, 126, 190)"/>
<circle cx="32.9" cy="56.5" r="1.6" fill="rgb(146, 122, 186)"/>
<ellipse cx="37.7" cy="58.2" rx="2.8" ry="2.9" transform="rotate(110 37.7 58.2)" fill="rgb(150, 128, 191)"/>
<circle cx="38.3" cy="58.3" r="1.3" fill="rgb(134, 110, 179)"/>
<ellipse cx="43.3" cy="57.1" rx="2.8" ry="2.7" transform="rotate(70 43.3 57.1)" fill="rgb(157, 135, 196)"/>
<circle cx="43.0" cy="56.4" r="1.5" fill="rgb(141, 117, 183)"/>
<ellipse cx="50.6" cy="56.4" rx="2.6" ry="2.8" transform="rotate(49 50.6 56.4)" fill="rgb(155, 133, 194)"/>
<circle cx="50.7" cy="56.5" r="1.8" fill="rgb(135, 111, 179)"/>
<ellipse cx="56.1" cy="56.4" rx="2.9" ry="2.8" transform="rotate(157 56.1 56.4)" fill="rgb(169, 147, 203)"/>
<ellipse cx="60.8" cy="57.1" rx="2.7" ry="2.9" transform="rotate(157 60.8 57.1)" fill="rgb(174, 152, 206)"/>
<ellipse cx="65.6" cy="58.0" rx="3.0" ry="2.7" transform="rotate(114 65.6 58.0)" fill="rgb(157, 135, 196)"/>
<circle cx="65.0" cy="57.8" r="1.4" fill="rgb(138, 114, 181)"/>
<ellipse cx="72.6" cy="57.4" rx="2.8" ry="2.5" transform="rotate(42 72.6 57.4)" fill="rgb(157, 135, 196)"/>
<circle cx="73.1" cy="57.3" r="1.4" fill="rgb(130, 106, 176)"/>
<ellipse cx="77.2" cy="57.0" rx="2.6" ry="2.3" transform="rotate(54 77.2 57.0)" fill="rgb(156, 134, 195)"/>
<ellipse cx="82.6" cy="58.4" rx="2.7" ry="2.9" transform="rotate(105 82.6 58.4)" fill="rgb(150, 128, 191)"/>
<circle cx="83.3" cy="58.2" r="1.8" fill="rgb(141, 117, 183)"/>
<ellipse cx="87.8" cy="58.2" rx="2.5" ry="2.6" transform="rotate(162 87.8 58.2)" fill="rgb(155, 133, 195)"/>
<circle cx="87.4" cy="57.9" r="1.6" fill="rgb(130, 106, 177)"/>
<ellipse cx="92.9" cy="57.2" rx="2.6" ry="2.7" transform="rotate(156 92.9 57.2)" fill="rgb(166, 144, 201)"/>
<circle cx="93.5" cy="57.3" r="1.2" fill="rgb(144, 120, 185)"/>
<ellipse cx="99.7" cy="58.2" rx="2.7" ry="2.4" transform="rotate(34 99.7 58.2)" fill="rgb(163, 141, 199)"/>
<ellipse cx="104.8" cy="58.4" rx="2.6" ry="2.5" transform="rotate(135 104.8 58.4)" fill="rgb(166, 144, 201)"/>
<circle cx="104.6" cy="57.7" r="1.4" fill="rgb(143, 119, 184)"/>
<ellipse cx="-3.7" cy="62.5" rx="2.7" ry="2.6" transform="rotate(108 -3.7 62.5)" fill="rgb(155, 133, 194)"/>
<circle cx="-3.2" cy="62.6" r="1.8" fill="rgb(130, 106, 176)"/>
<ellipse cx="1.8" cy="62.5" rx="3.0" ry="2.5" transform="rotate(17 1.8 62.5)" fill="rgb(152, 130, 193)"/>
<circle cx="1.2" cy="62.9" r="1.4" fill="rgb(145, 121, 186)"/>
<ellipse cx="8.3" cy="62.4" rx="2.9" ry="2.8" transform="rotate(108 8.3 62.4)" fill="rgb(157, 135, 195)"/>
<ellipse cx="13.2" cy="62.7" rx="3.0" ry="2.8" transform="rotate(56 13.2 62.7)" fill="rgb(169, 147, 203)"/>
<ellipse cx="19.1" cy="61.7" rx="2.9" ry="3.0" transform="rotate(24 19.1 61.7)" fill="rgb(148, 126, 190)"/>
<circle cx="19.5" cy="61.5" r="2.0" fill="rgb(143, 119, 184)"/>
<ellipse cx="24.2" cy="62.8" rx="2.6" ry="2.3" transform="rotate(24 24.2 62.8)" fill="rgb(149, 127, 191)"/>
<circle cx="23.7" cy="63.4" r="1.3" fill="rgb(141, 117, 183)"/>
<ellipse cx="29.5" cy="61.5" rx="3.0" ry="2.9" transform="rotate(29 29.5 61.5)" fill="rgb(148, 126, 190)"/>
<ellipse cx="35.2" cy="63.3" rx="2.8" ry="2.7" transform="rotate(62 35.2 63.3)" fill="rgb(170, 148, 203)"/>
<circle cx="35.7" cy="62.7" r="1.7" fill="rgb(136, 112, 180)"/>
<ellipse cx="40.3" cy="62.5" rx="2.8" ry="2.9" transform="rotate(11 40.3 62.5)" fill="rgb(163, 141, 199)"/>
<circle cx="40.9" cy="62.7" r="1.4" fill="rgb(148, 124, 187)"/>
<ellipse cx="46.2" cy="61.7" rx="2.8" ry="2.5" transform="rotate(37 46.2 61.7)" fill="rgb(169, 147, 203)"/>
<ellipse cx="51.8" cy="63.3" rx="2.7" ry="2.7" transform="rotate(28 51.8 63.3)" fill="rgb(172, 150, 204)"/>
<ellipse cx="57.2" cy="62.8" rx="3.1" ry="2.5" transform="rotate(60 57.2 62.8)" fill="rgb(161, 139, 198)"/>
<ellipse cx="62.5" cy="62.6" rx="2.9" ry="2.6" transform="rotate(104 62.5 62.6)" fill="rgb(172, 150, 205)"/>
<circle cx="62.3" cy="63.0" r="1.7" fill="rgb(147, 123, 187)"/>
<ellipse cx="68.1" cy="63.0" rx="3.2" ry="2.5" transform="rotate(4 68.1 63.0)" fill="rgb(151, 129, 192)"/>
<ellipse cx="73.2" cy="63.1" rx="2.6" ry="2.8" transform="rotate(18 73.2 63.1)" fill="rgb(152, 130, 193)"/>
<ellipse cx="78.8" cy="61.9" rx="3.1" ry="2.8" transform="rotate(159 78.8 61.9)" fill="rgb(175, 153, 206)"/>
<circle cx="79.3" cy="62.1" r="1.3" fill="rgb(134, 110, 179)"/>
<ellipse cx="85.3" cy="61.6" rx="2.8" ry="2.4" transform="rotate(4 85.3 61.6)" fill="rgb(175, 153, 207)"/>
<circle cx="84.7" cy="61.6" r="1.1" fill="rgb(147, 123, 187)"/>
<ellipse cx="90.6" cy="61.5" rx="3.0" ry="2.4" transform="rotate(133 90.6 61.5)" fill="rgb(162, 140, 198)"/>
<circle cx="90.6" cy="62.1" r="1.3" fill="rgb(137, 113, 181)"/>
<ellipse cx="95.6" cy="63.2" rx="3.1" ry="2.8" transform="rotate(49 95.6 63.2)" fill="rgb(152, 130, 193)"/>
<circle cx="95.0" cy="63.2" r="1.6" fill="rgb(131, 107, 177)"/>
<ellipse cx="101.9" cy="61.9" rx="2.5" ry="2.8" transform="rotate(118 101.9 61.9)" fill="rgb(163, 141, 199)"/>
<circle cx="102.5" cy="62.4" r="1.6" fill="rgb(143, 119, 185)"/>
<ellipse cx="107.0" cy="61.8" rx="2.8" ry="3.0" transform="rotate(70 107.0 61.8)" fill="rgb(158, 136, 196)"/>
<circle cx="107.7" cy="61.1" r="1.7" fill="rgb(132, 108, 178)"/>
<ellipse cx="-4.6" cy="66.5" rx="2.9" ry="2.6" transform="rotate(43 -4.6 66.5)" fill="rgb(153, 131, 193)"/>
<circle cx="-4.2" cy="67.0" r="1.2" fill="rgb(146, 122, 186)"/>
<ellipse cx="0.4" cy="66.6" rx="3.0" ry="2.7" transform="rotate(57 0.4 66.6)" fill="rgb(175, 153, 206)"/>
<circle cx="0.9" cy="66.6" r="1.6" fill="rgb(144, 120, 185)"/>
<ellipse cx="6.6" cy="66.4" rx="2.9" ry="2.8" transform="rotate(68 6.6 66.4)" fill="rgb(167, 145, 202)"/>
<circle cx="6.7" cy="66.7" r="1.5" fill="rgb(140, 116, 183)"/>
<ellipse cx="11.3" cy="67.1" rx="2.7" ry="2.7" transform="rotate(48 11.3 67.1)" fill="rgb(173, 151, 205)"/>
<circle cx="11.3" cy="67.1" r="1.3" fill="rgb(144, 120, 185)"/>
<ellipse cx="15.7" cy="67.9" rx="2.9" ry="2.7" transform="rotate(95 15.7 67.9)" fill="rgb(170, 148, 204)"/>
<circle cx="16.2" cy="67.9" r="1.6" fill="rgb(133, 109, 178)"/>
<ellipse cx="22.7" cy="67.9" rx="3.1" ry="2.3" transform="rotate(69 22.7 67.9)" fill="rgb(171, 149, 204)"/>
<ellipse cx="26.7" cy="66.2" rx="2.7" ry="2.4" transform="rotate(64 26.7 66.2)" fill="rgb(170, 148, 203)"/>
<circle cx="26.1" cy="66.1" r="1.7" fill="rgb(139, 115, 182)"/>
<ellipse cx="33.4" cy="66.9" rx="2.8" ry="2.9" transform="rotate(137 33.4 66.9)" fill="rgb(152, 130, 192)"/>
<ellipse cx="38.2" cy="67.0" rx="2.7" ry="2.6" transform="rotate(61 38.2 67.0)" fill="rgb(158, 136, 196)"/>
<circle cx="38.3" cy="66.4" r="1.3" fill="rgb(134, 110, 179)"/>
<ellipse cx="44.5" cy="66.5" rx="2.7" ry="2.5" transform="rotate(150 44.5 66.5)" fill="rgb(150, 128, 191)"/>
<ellipse cx="50.3" cy="66.3" rx="2.8" ry="2.9" transform="rotate(111 50.3 66.3)" fill="rgb(158, 136, 196)"/>
<circle cx="50.1" cy="66.6" r="1.5" fill="rgb(138, 114, 182)"/>
<ellipse cx="54.8" cy="67.3" rx="3.1" ry="2.5" transform="rotate(69 54.8 67.3)" fill="rgb(164, 142, 200)"/>
<ellipse cx="59.8" cy="68.0" rx="3.0" ry="2.6" transform="rotate(120 59.8 68.0)" fill="rgb(157, 135, 195)"/>
<circle cx="59.7" cy="68.1" r="1.5" fill="rgb(145, 121, 185)"/>
<ellipse cx="66.9" cy="67.6" rx="2.5" ry="2.7" transform="rotate(83 66.9 67.6)" fill="rgb(160, 138, 198)"/>
<ellipse cx="71.3" cy="66.9" rx="3.1" ry="2.6" transform="rotate(88 71.3 66.9)" fill="rgb(162, 140, 198)"/>
<ellipse cx="77.4" cy="67.5" rx="2.8" ry="2.3" transform="rotate(122 77.4 67.5)" fill="rgb(163, 141, 199)"/>
<ellipse cx="83.1" cy="66.1" rx="2.7" ry="2.4" transform="rotate(147 83.1 66.1)" fill="rgb(150, 128, 192)"/>
<circle cx="83.2" cy="65.5" r="1.5" fill="rgb(145, 121, 185)"/>
<ellipse cx="88.5" cy="67.0" rx="2.5" ry="2.8" transform="rotate(75 88.5 67.0)" fill="rgb(164, 142, 200)"/>
<ellipse cx="94.2" cy="67.8" rx="2.6" ry="2.5" transform="rotate(93 94.2 67.8)" fill="rgb(148, 126, 190)"/>
<ellipse cx="98.5" cy="66.5" rx="2.7" ry="2.5" transform="rotate(155 98.5 66.5)" fill="rgb(163, 141, 199)"/>
<circle cx="97.9" cy="66.2" r="1.7" fill="rgb(138, 114, 181)"/>
<ellipse cx="105.2" cy="67.8" rx="2.7" ry="2.4" transform="rotate(9 105.2 67.8)" fill="rgb(163, 141, 199)"/>
<circle cx="105.1" cy="67.9" r="1.3" fill="rgb(139, 115, 182)"/>
<ellipse cx="-2.1" cy="71.1" rx="3.1" ry="2.7" transform="rotate(9 -2.1 71.1)" fill="rgb(156, 134, 195)"/>
<circle cx="-2.0" cy="70.9" r="1.4" fill="rgb(138, 114, 181)"/>
<ellipse cx="3.4" cy="71.3" rx="3.0" ry="2.9" transform="rotate(107 3.4 71.3)" fill="rgb(160, 138, 198)"/>
<ellipse cx="8.1" cy="72.6" rx="2.5" ry="2.6" transform="rotate(115 8.1 72.6)" fill="rgb(149, 127, 191)"/>
<ellipse cx="12.8" cy="72.0" rx="2.6" ry="2.9" transform="rotate(101 12.8 72.0)" fill="rgb(170, 148, 203)"/>
<circle cx="13.1" cy="71.7" r="1.3" fill="rgb(143, 119, 184)"/>
<ellipse cx="20.0" cy="71.0" rx="3.1" ry="2.4" transform="rotate(18 20.0 71.0)" fill="rgb(150, 128, 191)"/>
<ellipse cx="25.7" cy="71.6" rx="3.0" ry="2.5" transform="rotate(163 25.7 71.6)" fill="rgb(167, 145, 201)"/>
<circle cx="26.0" cy="70.9" r="1.6" fill="rgb(131, 107, 177)"/>
<ellipse cx="29.8" cy="71.2" rx="2.9" ry="2.5" transform="rotate(101 29.8 71.2)" fill="rgb(152, 130, 192)"/>
<ellipse cx="35.4" cy="72.5" rx="2.6" ry="2.9" transform="rotate(176 35.4 72.5)" fill="rgb(158, 136, 196)"/>
<circle cx="35.6" cy="72.1" r="1.5" fill="rgb(137, 113, 181)"/>
<ellipse cx="40.4" cy="71.7" rx="3.0" ry="2.6" transform="rotate(122 40.4 71.7)" fill="rgb(151, 129, 192)"/>
<ellipse cx="45.9" cy="72.7" rx="3.2" ry="3.0" transform="rotate(95 45.9 72.7)" fill="rgb(156, 134, 195)"/>
<circle cx="45.9" cy="73.3" r="1.4" fill="rgb(145, 121, 185)"/>
<ellipse cx="52.2" cy="72.6" rx="2.9" ry="2.7" transform="rotate(16 52.2 72.6)" fill="rgb(151, 129, 192)"/>
<circle cx="52.7" cy="72.2" r="1.8" fill="rgb(147, 123, 187)"/>
<ellipse cx="56.7" cy="72.0" rx="3.2" ry="2.5" transform="rotate(170 56.7 72.0)" fill="rgb(166, 144, 201)"/>
<circle cx="56.7" cy="71.6" r="1.6" fill="rgb(136, 112, 180)"/>
<ellipse cx="62.5" cy="72.4" rx="2.7" ry="2.3" transform="rotate(101 62.5 72.4)" fill="rgb(150, 128, 192)"/>
<circle cx="62.7" cy="72.4" r="1.1" fill="rgb(145, 121, 186)"/>
<ellipse cx="68.8" cy="70.9" rx="3.0" ry="2.4" transform="rotate(104 68.8 70.9)" fill="rgb(157, 135, 196)"/>
<circle cx="68.3" cy="70.4" r="1.6" fill="rgb(143, 119, 184)"/>
<ellipse cx="73.9" cy="72.5" rx="3.1" ry="2.6" transform="rotate(27 73.9 72.5)" fill="rgb(150, 128, 191)"/>
<ellipse cx="78.9" cy="71.8" rx="2.9" ry="2.4" transform="rotate(84 78.9 71.8)" fill="rgb(152, 130, 193)"/>
<circle cx="78.7" cy="71.3" r="1.3" fill="rgb(140, 116, 182)"/>
<ellipse cx="84.6" cy="71.0" rx="2.7" ry="2.9" transform="rotate(90 84.6 71.0)" fill="rgb(172, 150, 205)"/>
<circle cx="84.6" cy="71.4" r="1.6" fill="rgb(148, 124, 188)"/>
<ellipse cx="91.2" cy="71.2" rx="3.0" ry="2.4" transform="rotate(48 91.2 71.2)" fill="rgb(148, 126, 190)"/>
<circle cx="90.9" cy="71.7" r="1.1" fill="rgb(140, 116, 183)"/>
<ellipse cx="96.4" cy="71.2" rx="2.9" ry="2.8" transform="rotate(128 96.4 71.2)" fill="rgb(149, 127, 191)"/>
<circle cx="97.1" cy="70.5" r="1.7" fill="rgb(141, 117, 183)"/>
<ellipse cx="102.2" cy="72.5" rx="2.7" ry="2.9" transform="rotate(83 102.2 72.5)" fill="rgb(173, 151, 205)"/>
<circle cx="102.0" cy="72.3" r="1.3" fill="rgb(148, 124, 188)"/>
<ellipse cx="106.7" cy="72.3" rx="3.0" ry="2.4" transform="rotate(62 106.7 72.3)" fill="rgb(151, 129, 192)"/>
<circle cx="106.5" cy="73.0" r="1.7" fill="rgb(134, 110, 179)"/>
<ellipse cx="-4.9" cy="76.5" rx="2.8" ry="2.8" transform="rotate(163 -4.9 76.5)" fill="rgb(169, 147, 203)"/>
<ellipse cx="-0.7" cy="76.8" rx="3.1" ry="2.9" transform="rotate(17 -0.7 76.8)" fill="rgb(168, 146, 202)"/>
<circle cx="-0.0" cy="77.1" r="1.8" fill="rgb(133, 109, 178)"/>
<ellipse cx="4.7" cy="77.3" rx="3.2" ry="2.9" transform="rotate(134 4.7 77.3)" fill="rgb(171, 149, 204)"/>
<ellipse cx="11.2" cy="76.4" rx="3.1" ry="2.8" transform="rotate(157 11.2 76.4)" fill="rgb(156, 134, 195)"/>
<ellipse cx="16.6" cy="77.5" rx="2.6" ry="3.0" transform="rotate(142 16.6 77.5)" fill="rgb(155, 133, 194)"/>
<ellipse cx="21.4" cy="75.9" rx="2.8" ry="2.5" transform="rotate(89 21.4 75.9)" fill="rgb(173, 151, 205)"/>
<ellipse cx="28.0" cy="76.3" rx="3.0" ry="2.9" transform="rotate(123 28.0 76.3)" fill="rgb(174, 152, 206)"/>
<ellipse cx="32.8" cy="75.7" rx="3.0" ry="2.9" transform="rotate(61 32.8 75.7)" fill="rgb(164, 142, 200)"/>
<ellipse cx="39.1" cy="75.5" rx="2.8" ry="2.3" transform="rotate(20 39.1 75.5)" fill="rgb(170, 148, 204)"/>
<circle cx="39.1" cy="75.2" r="1.2" fill="rgb(142, 118, 184)"/>
<ellipse cx="43.7" cy="77.3" rx="2.9" ry="2.5" transform="rotate(16 43.7 77.3)" fill="rgb(155, 133, 194)"/>
<ellipse cx="49.4" cy="76.9" rx="3.1" ry="2.4" transform="rotate(123 49.4 76.9)" fill="rgb(149, 127, 191)"/>
<ellipse cx="54.3" cy="76.1" rx="3.2" ry="2.6" transform="rotate(40 54.3 76.1)" fill="rgb(172, 150, 205)"/>
<ellipse cx="61.4" cy="76.3" rx="2.8" ry="3.0" transform="rotate(91 61.4 76.3)" fill="rgb(175, 153, 207)"/>
<circle cx="60.9" cy="76.4" r="1.3" fill="rgb(146, 122, 186)"/>
<ellipse cx="65.3" cy="77.5" rx="2.8" ry="2.9" transform="rotate(45 65.3 77.5)" fill="rgb(157, 135, 196)"/>
<circle cx="65.8" cy="77.6" r="1.5" fill="rgb(141, 117, 183)"/>
<ellipse cx="72.4" cy="77.4" rx="3.0" ry="2.4" transform="rotate(112 72.4 77.4)" fill="rgb(160, 138, 197)"/>
<ellipse cx="76.7" cy="76.9" rx="2.9" ry="2.6" transform="rotate(94 76.7 76.9)" fill="rgb(166, 144, 201)"/>
<ellipse cx="82.5" cy="76.3" rx="3.2" ry="2.3" transform="rotate(150 82.5 76.3)" fill="rgb(167, 145, 201)"/>
<circle cx="82.8" cy="76.8" r="1.5" fill="rgb(138, 114, 182)"/>
<ellipse cx="88.5" cy="75.5" rx="2.7" ry="2.4" transform="rotate(172 88.5 75.5)" fill="rgb(172, 150, 205)"/>
<circle cx="88.7" cy="74.9" r="1.3" fill="rgb(141, 117, 183)"/>
<ellipse cx="94.0" cy="76.9" rx="2.7" ry="2.8" transform="rotate(52 94.0 76.9)" fill="rgb(163, 141, 199)"/>
<circle cx="94.3" cy="77.3" r="1.7" fill="rgb(149, 125, 188)"/>
<ellipse cx="98.7" cy="77.6" rx="3.0" ry="2.8" transform="rotate(50 98.7 77.6)" fill="rgb(152, 130, 193)"/>
<circle cx="99.1" cy="77.4" r="1.3" fill="rgb(146, 122, 186)"/>
<ellipse cx="104.5" cy="77.4" rx="2.6" ry="2.8" transform="rotate(31 104.5 77.4)" fill="rgb(156, 134, 195)"/>
<circle cx="104.4" cy="78.0" r="1.8" fill="rgb(135, 111, 180)"/>
<ellipse cx="-3.4" cy="80.9" rx="3.2" ry="2.4" transform="rotate(58 -3.4 80.9)" fill="rgb(160, 138, 197)"/>
<circle cx="-3.6" cy="80.8" r="1.7" fill="rgb(135, 111, 179)"/>
<ellipse cx="2.2" cy="80.7" rx="3.1" ry="2.6" transform="rotate(151 2.2 80.7)" fill="rgb(165, 143, 201)"/>
<ellipse cx="7.8" cy="80.6" rx="3.0" ry="2.6" transform="rotate(101 7.8 80.6)" fill="rgb(166, 144, 201)"/>
<ellipse cx="13.3" cy="81.0" rx="3.1" ry="2.7" transform="rotate(52 13.3 81.0)" fill="rgb(165, 143, 200)"/>
<circle cx="12.6" cy="81.5" r="1.6" fill="rgb(145, 121, 186)"/>
<ellipse cx="18.9" cy="82.3" rx="2.7" ry="2.5" transform="rotate(13 18.9 82.3)" fill="rgb(163, 141, 199)"/>
<ellipse cx="25.1" cy="81.2" rx="3.1" ry="2.4" transform="rotate(55 25.1 81.2)" fill="rgb(166, 144, 201)"/>
<ellipse cx="30.5" cy="81.8" rx="3.0" ry="2.6" transform="rotate(169 30.5 81.8)" fill="rgb(168, 146, 202)"/>
<circle cx="31.0" cy="81.6" r="1.3" fill="rgb(137, 113, 181)"/>
<ellipse cx="36.6" cy="81.4" rx="2.9" ry="2.8" transform="rotate(162 36.6 81.4)" fill="rgb(151, 129, 192)"/>
<circle cx="36.4" cy="81.4" r="1.8" fill="rgb(131, 107, 177)"/>
<ellipse cx="41.6" cy="81.5" rx="2.8" ry="2.7" transform="rotate(49 41.6 81.5)" fill="rgb(171, 149, 204)"/>
<ellipse cx="47.5" cy="80.6" rx="3.0" ry="2.8" transform="rotate(90 47.5 80.6)" fill="rgb(173, 151, 205)"/>
<ellipse cx="52.8" cy="82.1" rx="3.0" ry="2.9" transform="rotate(24 52.8 82.1)" fill="rgb(167, 145, 202)"/>
<ellipse cx="58.0" cy="80.9" rx="2.5" ry="2.7" transform="rotate(148 58.0 80.9)" fill="rgb(155, 133, 194)"/>
<circle cx="57.4" cy="81.1" r="1.8" fill="rgb(134, 110, 179)"/>
<ellipse cx="63.9" cy="81.0" rx="3.0" ry="2.4" transform="rotate(151 63.9 81.0)" fill="rgb(157, 135, 195)"/>
<circle cx="63.4" cy="80.7" r="1.1" fill="rgb(142, 118, 184)"/>
<ellipse cx="68.6" cy="81.5" rx="3.1" ry="2.3" transform="rotate(149 68.6 81.5)" fill="rgb(151, 129, 192)"/>
<circle cx="68.4" cy="81.2" r="1.4" fill="rgb(142, 118, 184)"/>
<ellipse cx="73.6" cy="82.0" rx="2.6" ry="2.9" transform="rotate(146 73.6 82.0)" fill="rgb(163, 141, 199)"/>
<circle cx="73.0" cy="82.0" r="1.5" fill="rgb(145, 121, 186)"/>
<ellipse cx="78.8" cy="81.6" rx="3.0" ry="2.7" transform="rotate(72 78.8 81.6)" fill="rgb(162, 140, 199)"/>
<circle cx="79.3" cy="82.3" r="1.8" fill="rgb(134, 110, 179)"/>
<ellipse cx="86.3" cy="81.0" rx="3.2" ry="2.3" transform="rotate(86 86.3 81.0)" fill="rgb(151, 129, 192)"/>
<circle cx="86.6" cy="80.9" r="1.3" fill="rgb(143, 119, 184)"/>
<ellipse cx="90.1" cy="81.1" rx="2.7" ry="2.4" transform="rotate(132 90.1 81.1)" fill="rgb(162, 140, 199)"/>
<circle cx="90.4" cy="80.7" r="1.3" fill="rgb(133, 109, 179)"/>
<ellipse cx="96.4" cy="81.8" rx="3.2" ry="2.8" transform="rotate(171 96.4 81.8)" fill="rgb(173, 151, 205)"/>
<ellipse cx="102.2" cy="80.4" rx="2.6" ry="2.3" transform="rotate(155 102.2 80.4)" fill="rgb(168, 146, 202)"/>
<ellipse cx="106.7" cy="81.0" rx="2.6" ry="2.7" transform="rotate(178 106.7 81.0)" fill="rgb(156, 134, 195)"/>
<circle cx="106.5" cy="81.6" r="1.7" fill="rgb(133, 109, 178)"/>
<circle cx="43.7" cy="7.4" r="1.0" fill="#3a2a66"/>
<circle cx="10.3" cy="11.1" r="1.0" fill="#3a2a66"/>
<circle cx="74.7" cy="34.0" r="1.0" fill="#3a2a66"/>
<circle cx="95.2" cy="65.7" r="1.0" fill="#3a2a66"/>
<circle cx="76.4" cy="34.3" r="1.0" fill="#3a2a66"/>
<circle cx="79.0" cy="9.3" r="1.0" fill="#3a2a66"/>
<circle cx="10.5" cy="40.6" r="1.0" fill="#3a2a66"/>
<circle cx="48.8" cy="15.1" r="1.0" fill="#3a2a66"/>
<circle cx="24.2" cy="1.5" r="1.0" fill="#3a2a66"/>
</g></svg>
<svg x="390.6" y="36.3" width="95.70" height="72.10" overflow="hidden"><g filter="url(#bl1)">
<rect x="-3" y="-3" width="101.70" height="78.10" fill="#ad90c8"/>
<circle cx="43.1" cy="40.6" r="2.5" fill="#c8aed8"/>
<circle cx="44.4" cy="36.6" r="2.1" fill="#c8aed8"/>
<circle cx="16.4" cy="37.0" r="2.2" fill="#c8aed8"/>
<circle cx="77.1" cy="5.2" r="1.8" fill="#c8aed8"/>
<circle cx="7.0" cy="59.6" r="2.3" fill="#c8aed8"/>
<circle cx="2.2" cy="72.7" r="2.6" fill="#c8aed8"/>
<circle cx="63.2" cy="44.8" r="1.7" fill="#c8aed8"/>
<circle cx="-0.5" cy="38.2" r="1.6" fill="#c8aed8"/>
<circle cx="17.0" cy="16.4" r="1.5" fill="#c8aed8"/>
<circle cx="44.3" cy="31.5" r="2.4" fill="#c8aed8"/>
<circle cx="49.8" cy="46.7" r="2.0" fill="#c8aed8"/>
<circle cx="64.0" cy="32.8" r="1.8" fill="#c8aed8"/>
<circle cx="97.5" cy="73.8" r="2.4" fill="#c8aed8"/>
<circle cx="68.6" cy="22.0" r="1.8" fill="#c8aed8"/>
<circle cx="26.8" cy="3.3" r="2.3" fill="#c8aed8"/>
<circle cx="37.9" cy="62.4" r="1.9" fill="#c8aed8"/>
<circle cx="93.5" cy="62.5" r="1.5" fill="#c8aed8"/>
<circle cx="18.9" cy="67.3" r="2.0" fill="#c8aed8"/>
<circle cx="95.7" cy="28.2" r="1.6" fill="#c8aed8"/>
<circle cx="60.8" cy="57.2" r="1.8" fill="#c8aed8"/>
<circle cx="6.7" cy="23.3" r="2.6" fill="#c8aed8"/>
<circle cx="73.6" cy="7.0" r="1.8" fill="#c8aed8"/>
<circle cx="8.1" cy="2.6" r="2.4" fill="#c8aed8"/>
<circle cx="15.7" cy="40.6" r="2.0" fill="#c8aed8"/>
<circle cx="17.0" cy="53.7" r="1.6" fill="#c8aed8"/>
<circle cx="62.2" cy="6.9" r="2.0" fill="#c8aed8"/>
<circle cx="19.2" cy="18.5" r="2.6" fill="#c8aed8"/>
<circle cx="78.1" cy="21.1" r="2.5" fill="#c8aed8"/>
<circle cx="19.0" cy="28.0" r="2.4" fill="#c8aed8"/>
<circle cx="62.0" cy="5.6" r="2.6" fill="#c8aed8"/>
<circle cx="19.3" cy="17.7" r="2.3" fill="#c8aed8"/>
<circle cx="30.8" cy="20.6" r="1.6" fill="#c8aed8"/>
<circle cx="7.0" cy="42.3" r="1.8" fill="#c8aed8"/>
<circle cx="57.9" cy="26.3" r="2.0" fill="#c8aed8"/>
<circle cx="93.6" cy="34.8" r="2.1" fill="#c8aed8"/>
<circle cx="84.4" cy="11.9" r="1.7" fill="#c8aed8"/>
<circle cx="88.6" cy="60.2" r="1.8" fill="#c8aed8"/>
<circle cx="16.9" cy="54.3" r="2.5" fill="#c8aed8"/>
<circle cx="17.6" cy="70.3" r="2.5" fill="#c8aed8"/>
<circle cx="58.2" cy="30.1" r="1.6" fill="#c8aed8"/>
<circle cx="1.9" cy="71.3" r="1.8" fill="#c8aed8"/>
<circle cx="68.2" cy="17.6" r="2.4" fill="#c8aed8"/>
<circle cx="57.5" cy="20.3" r="1.7" fill="#c8aed8"/>
<circle cx="69.8" cy="3.2" r="1.8" fill="#c8aed8"/>
<circle cx="53.8" cy="62.9" r="2.2" fill="#c8aed8"/>
<circle cx="25.9" cy="67.8" r="1.7" fill="#c8aed8"/>
<circle cx="-0.3" cy="18.5" r="2.0" fill="#c8aed8"/>
<circle cx="4.0" cy="11.4" r="1.9" fill="#c8aed8"/>
<circle cx="55.0" cy="8.0" r="1.9" fill="#c8aed8"/>
<circle cx="86.8" cy="72.6" r="2.2" fill="#c8aed8"/>
<circle cx="66.9" cy="42.5" r="1.7" fill="#c8aed8"/>
<circle cx="1.5" cy="-0.6" r="2.5" fill="#c8aed8"/>
<circle cx="67.9" cy="71.3" r="1.5" fill="#c8aed8"/>
<circle cx="61.4" cy="34.7" r="2.3" fill="#c8aed8"/>
<circle cx="29.8" cy="74.1" r="1.6" fill="#c8aed8"/>
<circle cx="52.4" cy="54.1" r="2.5" fill="#c8aed8"/>
<circle cx="71.5" cy="51.6" r="2.4" fill="#c8aed8"/>
<circle cx="89.2" cy="24.8" r="2.3" fill="#c8aed8"/>
<circle cx="87.8" cy="64.3" r="2.0" fill="#c8aed8"/>
<circle cx="76.8" cy="63.7" r="2.1" fill="#c8aed8"/>
<circle cx="60.3" cy="27.1" r="2.1" fill="#c8aed8"/>
<circle cx="58.7" cy="4.1" r="2.2" fill="#c8aed8"/>
<circle cx="97.0" cy="65.0" r="2.3" fill="#c8aed8"/>
<circle cx="36.7" cy="53.9" r="2.1" fill="#c8aed8"/>
<circle cx="41.9" cy="61.8" r="1.6" fill="#c8aed8"/>
<circle cx="72.8" cy="0.3" r="2.2" fill="#c8aed8"/>
<circle cx="46.0" cy="15.5" r="2.3" fill="#c8aed8"/>
<circle cx="47.6" cy="44.8" r="2.5" fill="#c8aed8"/>
<circle cx="23.5" cy="-1.1" r="1.8" fill="#c8aed8"/>
<circle cx="65.6" cy="13.4" r="1.7" fill="#c8aed8"/>
<circle cx="88.3" cy="48.2" r="2.0" fill="#c8aed8"/>
<circle cx="86.9" cy="22.9" r="2.2" fill="#c8aed8"/>
<circle cx="17.8" cy="30.8" r="2.4" fill="#c8aed8"/>
<circle cx="89.1" cy="65.0" r="1.9" fill="#c8aed8"/>
<circle cx="56.1" cy="22.1" r="1.6" fill="#c8aed8"/>
<circle cx="47.5" cy="61.7" r="2.4" fill="#c8aed8"/>
<circle cx="68.9" cy="70.3" r="1.8" fill="#c8aed8"/>
<circle cx="14.9" cy="32.3" r="1.8" fill="#c8aed8"/>
<circle cx="19.3" cy="29.5" r="2.2" fill="#c8aed8"/>
<circle cx="47.2" cy="22.0" r="2.4" fill="#c8aed8"/>
<circle cx="95.9" cy="32.4" r="1.6" fill="#c8aed8"/>
<circle cx="1.1" cy="64.4" r="1.5" fill="#c8aed8"/>
<circle cx="68.7" cy="41.4" r="1.8" fill="#c8aed8"/>
<circle cx="76.9" cy="-0.5" r="1.6" fill="#c8aed8"/>
<circle cx="43.3" cy="-0.1" r="2.4" fill="#c8aed8"/>
<circle cx="21.7" cy="8.7" r="1.6" fill="#c8aed8"/>
<circle cx="60.7" cy="32.0" r="2.2" fill="#c8aed8"/>
<circle cx="63.3" cy="59.4" r="2.6" fill="#c8aed8"/>
<circle cx="66.2" cy="13.2" r="2.0" fill="#c8aed8"/>
<circle cx="15.8" cy="-1.2" r="2.0" fill="#c8aed8"/>
<circle cx="69.2" cy="11.6" r="1.8" fill="#c8aed8"/>
<circle cx="32.5" cy="51.1" r="2.1" fill="#c8aed8"/>
<circle cx="59.3" cy="55.5" r="1.9" fill="#c8aed8"/>
<circle cx="77.0" cy="67.0" r="1.6" fill="#c8aed8"/>
<circle cx="91.0" cy="53.0" r="1.6" fill="#c8aed8"/>
<circle cx="43.2" cy="45.6" r="2.5" fill="#c8aed8"/>
<circle cx="35.6" cy="41.3" r="2.5" fill="#c8aed8"/>
<circle cx="77.4" cy="69.9" r="2.0" fill="#c8aed8"/>
<circle cx="62.9" cy="13.6" r="2.3" fill="#c8aed8"/>
<circle cx="79.6" cy="46.8" r="2.3" fill="#c8aed8"/>
<circle cx="19.3" cy="66.5" r="2.6" fill="#c8aed8"/>
<circle cx="95.4" cy="38.9" r="2.4" fill="#c8aed8"/>
<circle cx="29.9" cy="67.3" r="2.4" fill="#c8aed8"/>
<circle cx="32.7" cy="4.3" r="2.0" fill="#c8aed8"/>
<circle cx="52.9" cy="56.5" r="2.0" fill="#c8aed8"/>
<circle cx="0.8" cy="59.6" r="1.6" fill="#c8aed8"/>
<circle cx="77.7" cy="11.2" r="1.9" fill="#c8aed8"/>
<circle cx="76.6" cy="8.7" r="1.7" fill="#c8aed8"/>
<circle cx="49.5" cy="53.1" r="2.4" fill="#c8aed8"/>
<circle cx="66.7" cy="70.0" r="2.0" fill="#c8aed8"/>
<circle cx="92.6" cy="4.5" r="1.7" fill="#c8aed8"/>
<circle cx="50.5" cy="20.1" r="2.3" fill="#c8aed8"/>
<circle cx="61.7" cy="37.8" r="2.4" fill="#c8aed8"/>
<circle cx="53.8" cy="21.7" r="1.9" fill="#c8aed8"/>
<circle cx="82.3" cy="66.5" r="1.7" fill="#c8aed8"/>
<circle cx="82.8" cy="71.7" r="2.1" fill="#c8aed8"/>
<circle cx="55.1" cy="13.3" r="2.1" fill="#c8aed8"/>
<circle cx="48.2" cy="44.1" r="1.5" fill="#c8aed8"/>
<circle cx="94.6" cy="37.3" r="1.9" fill="#c8aed8"/>
<circle cx="77.9" cy="40.8" r="2.0" fill="#c8aed8"/>
<circle cx="66.9" cy="3.0" r="2.1" fill="#c8aed8"/>
<circle cx="39.3" cy="70.8" r="2.5" fill="#c8aed8"/>
<circle cx="24.8" cy="34.0" r="1.6" fill="#c8aed8"/>
<circle cx="41.2" cy="60.1" r="2.5" fill="#c8aed8"/>
<circle cx="45.5" cy="22.1" r="1.7" fill="#c8aed8"/>
<circle cx="59.6" cy="68.4" r="1.6" fill="#c8aed8"/>
<circle cx="75.7" cy="-0.3" r="1.7" fill="#c8aed8"/>
<circle cx="20.7" cy="50.3" r="1.9" fill="#c8aed8"/>
<circle cx="33.4" cy="45.2" r="1.6" fill="#c8aed8"/>
<circle cx="70.9" cy="7.3" r="2.1" fill="#c8aed8"/>
<circle cx="23.0" cy="13.0" r="2.1" fill="#c8aed8"/>
<circle cx="41.5" cy="26.6" r="2.0" fill="#c8aed8"/>
<circle cx="50.8" cy="10.2" r="1.7" fill="#c8aed8"/>
<circle cx="60.9" cy="46.6" r="2.1" fill="#c8aed8"/>
<circle cx="82.9" cy="44.6" r="2.4" fill="#c8aed8"/>
<circle cx="21.2" cy="54.4" r="2.4" fill="#c8aed8"/>
<circle cx="88.0" cy="22.0" r="1.8" fill="#c8aed8"/>
<circle cx="90.0" cy="14.6" r="2.6" fill="#c8aed8"/>
<circle cx="86.5" cy="8.2" r="1.8" fill="#c8aed8"/>
<circle cx="70.4" cy="17.7" r="1.6" fill="#c8aed8"/>
<circle cx="81.0" cy="30.1" r="2.4" fill="#c8aed8"/>
<circle cx="10.6" cy="28.7" r="2.3" fill="#c8aed8"/>
<circle cx="-0.2" cy="13.3" r="2.3" fill="#c8aed8"/>
<circle cx="88.9" cy="71.7" r="1.6" fill="#c8aed8"/>
<circle cx="48.4" cy="55.7" r="2.1" fill="#c8aed8"/>
<circle cx="66.4" cy="12.4" r="1.6" fill="#c8aed8"/>
<circle cx="8.6" cy="0.8" r="2.1" fill="#c8aed8"/>
<circle cx="49.3" cy="41.3" r="1.7" fill="#c8aed8"/>
<circle cx="16.4" cy="13.5" r="2.4" fill="#c8aed8"/>
<circle cx="96.7" cy="68.5" r="1.6" fill="#c8aed8"/>
<circle cx="4.2" cy="70.4" r="2.0" fill="#c8aed8"/>
<circle cx="74.2" cy="22.9" r="2.0" fill="#c8aed8"/>
<circle cx="49.4" cy="30.7" r="2.2" fill="#c8aed8"/>
<circle cx="-0.7" cy="51.3" r="2.4" fill="#c8aed8"/>
<circle cx="16.1" cy="32.5" r="2.3" fill="#c8aed8"/>
<circle cx="38.4" cy="12.8" r="1.7" fill="#c8aed8"/>
<circle cx="49.1" cy="-0.8" r="2.5" fill="#c8aed8"/>
<circle cx="77.9" cy="51.6" r="2.4" fill="#c8aed8"/>
<circle cx="60.7" cy="28.8" r="2.2" fill="#c8aed8"/>
<circle cx="48.3" cy="72.8" r="2.4" fill="#c8aed8"/>
<ellipse cx="15" cy="30" rx="6" ry="4" fill="#b888bb" filter="url(#bl2)"/>
<ellipse cx="25" cy="33" rx="4" ry="4" fill="#c890b5" filter="url(#bl2)"/>
<ellipse cx="75" cy="20" rx="5" ry="3" fill="#b58bc0" filter="url(#bl2)"/>
<circle cx="23.7" cy="67.3" r="2.2" fill="none" stroke="#dccdec" stroke-width="0.7"/>
<circle cx="75.6" cy="60.0" r="1.9" fill="none" stroke="#dccdec" stroke-width="0.7"/>
<circle cx="87.4" cy="65.0" r="2.2" fill="none" stroke="#dccdec" stroke-width="0.7"/>
<circle cx="74.5" cy="56.2" r="1.9" fill="none" stroke="#dccdec" stroke-width="0.7"/>
<circle cx="70.0" cy="3.4" r="1.9" fill="none" stroke="#dccdec" stroke-width="0.7"/>
<circle cx="44.7" cy="-1.2" r="1.9" fill="none" stroke="#dccdec" stroke-width="0.7"/>
<circle cx="61.7" cy="45.5" r="1.8" fill="none" stroke="#dccdec" stroke-width="0.7"/>
<circle cx="92.2" cy="48.7" r="1.9" fill="none" stroke="#dccdec" stroke-width="0.7"/>
<circle cx="63.8" cy="41.3" r="2.0" fill="none" stroke="#dccdec" stroke-width="0.7"/>
<circle cx="36.8" cy="74.1" r="2.1" fill="none" stroke="#dccdec" stroke-width="0.7"/>
<circle cx="67.9" cy="56.0" r="2.4" fill="none" stroke="#dccdec" stroke-width="0.7"/>
<circle cx="0.3" cy="44.8" r="2.2" fill="none" stroke="#dccdec" stroke-width="0.7"/>
<circle cx="23.6" cy="28.6" r="1.6" fill="none" stroke="#dccdec" stroke-width="0.7"/>
<circle cx="17.5" cy="26.6" r="1.7" fill="none" stroke="#dccdec" stroke-width="0.7"/>
<circle cx="23.0" cy="66.9" r="2.0" fill="none" stroke="#dccdec" stroke-width="0.7"/>
<circle cx="48.6" cy="71.6" r="2.1" fill="none" stroke="#dccdec" stroke-width="0.7"/>
<circle cx="97.2" cy="46.6" r="2.2" fill="none" stroke="#dccdec" stroke-width="0.7"/>
<circle cx="5.6" cy="43.5" r="2.2" fill="none" stroke="#dccdec" stroke-width="0.7"/>
<circle cx="2.5" cy="68.8" r="1.7" fill="none" stroke="#dccdec" stroke-width="0.7"/>
<circle cx="45.0" cy="10.9" r="2.0" fill="none" stroke="#dccdec" stroke-width="0.7"/>
<circle cx="58.9" cy="2.5" r="2.4" fill="none" stroke="#dccdec" stroke-width="0.7"/>
<circle cx="39.9" cy="38.1" r="2.1" fill="none" stroke="#dccdec" stroke-width="0.7"/>
<circle cx="34.4" cy="19.7" r="2.1" fill="none" stroke="#dccdec" stroke-width="0.7"/>
<circle cx="53.9" cy="19.6" r="2.2" fill="none" stroke="#dccdec" stroke-width="0.7"/>
<circle cx="27.5" cy="-0.9" r="1.8" fill="none" stroke="#dccdec" stroke-width="0.7"/>
<circle cx="2.3" cy="9.9" r="2.2" fill="none" stroke="#dccdec" stroke-width="0.7"/>
<circle cx="36.9" cy="66.3" r="2.2" fill="none" stroke="#dccdec" stroke-width="0.7"/>
<circle cx="3.0" cy="73.2" r="2.4" fill="none" stroke="#dccdec" stroke-width="0.7"/>
<circle cx="5.3" cy="66.9" r="1.9" fill="none" stroke="#dccdec" stroke-width="0.7"/>
<circle cx="45.6" cy="72.1" r="1.8" fill="none" stroke="#dccdec" stroke-width="0.7"/>
<circle cx="50.2" cy="69.3" r="2.2" fill="none" stroke="#dccdec" stroke-width="0.7"/>
<circle cx="44.7" cy="72.5" r="2.3" fill="none" stroke="#dccdec" stroke-width="0.7"/>
<circle cx="58.2" cy="6.8" r="2.1" fill="none" stroke="#dccdec" stroke-width="0.7"/>
<circle cx="43.4" cy="13.5" r="1.6" fill="none" stroke="#dccdec" stroke-width="0.7"/>
<circle cx="50.7" cy="7.5" r="2.0" fill="none" stroke="#dccdec" stroke-width="0.7"/>
<circle cx="64.6" cy="32.7" r="1.8" fill="none" stroke="#dccdec" stroke-width="0.7"/>
<circle cx="56.0" cy="29.9" r="2.2" fill="none" stroke="#dccdec" stroke-width="0.7"/>
<circle cx="50.9" cy="73.9" r="2.4" fill="none" stroke="#dccdec" stroke-width="0.7"/>
<circle cx="71.2" cy="16.1" r="1.7" fill="none" stroke="#dccdec" stroke-width="0.7"/>
<circle cx="87.0" cy="57.7" r="2.1" fill="none" stroke="#dccdec" stroke-width="0.7"/>
<circle cx="33.8" cy="18.7" r="2.1" fill="none" stroke="#dccdec" stroke-width="0.7"/>
<circle cx="54.3" cy="43.0" r="2.1" fill="none" stroke="#dccdec" stroke-width="0.7"/>
<circle cx="73.1" cy="12.4" r="1.8" fill="none" stroke="#dccdec" stroke-width="0.7"/>
<circle cx="95.7" cy="67.7" r="2.3" fill="none" stroke="#dccdec" stroke-width="0.7"/>
<circle cx="1.9" cy="2.6" r="1.8" fill="none" stroke="#dccdec" stroke-width="0.7"/>
<circle cx="40.4" cy="45.4" r="1.7" fill="none" stroke="#dccdec" stroke-width="0.7"/>
<circle cx="52.0" cy="3.5" r="1.7" fill="none" stroke="#dccdec" stroke-width="0.7"/>
<circle cx="65.4" cy="39.9" r="2.1" fill="none" stroke="#dccdec" stroke-width="0.7"/>
<circle cx="35.2" cy="34.4" r="1.8" fill="none" stroke="#dccdec" stroke-width="0.7"/>
<circle cx="32.3" cy="54.7" r="2.3" fill="none" stroke="#dccdec" stroke-width="0.7"/>
<circle cx="5.4" cy="7.1" r="2.2" fill="none" stroke="#dccdec" stroke-width="0.7"/>
<circle cx="60.2" cy="56.5" r="1.8" fill="none" stroke="#dccdec" stroke-width="0.7"/>
<circle cx="40.3" cy="17.6" r="2.2" fill="none" stroke="#dccdec" stroke-width="0.7"/>
<circle cx="34.8" cy="47.7" r="2.4" fill="none" stroke="#dccdec" stroke-width="0.7"/>
<circle cx="30.4" cy="39.7" r="2.2" fill="none" stroke="#dccdec" stroke-width="0.7"/>
<circle cx="89.8" cy="30.5" r="1.9" fill="none" stroke="#dccdec" stroke-width="0.7"/>
<circle cx="7.7" cy="64.6" r="1.7" fill="none" stroke="#dccdec" stroke-width="0.7"/>
<circle cx="6.3" cy="40.9" r="2.0" fill="none" stroke="#dccdec" stroke-width="0.7"/>
<circle cx="66.3" cy="20.7" r="2.2" fill="none" stroke="#dccdec" stroke-width="0.7"/>
<circle cx="5.6" cy="14.2" r="2.1" fill="none" stroke="#dccdec" stroke-width="0.7"/>
<circle cx="6.1" cy="21.1" r="2.2" fill="none" stroke="#dccdec" stroke-width="0.7"/>
<circle cx="67.2" cy="19.5" r="1.7" fill="none" stroke="#dccdec" stroke-width="0.7"/>
<circle cx="33.7" cy="53.2" r="1.9" fill="none" stroke="#dccdec" stroke-width="0.7"/>
<circle cx="9.7" cy="52.0" r="2.1" fill="none" stroke="#dccdec" stroke-width="0.7"/>
<circle cx="89.6" cy="69.5" r="2.3" fill="none" stroke="#dccdec" stroke-width="0.7"/>
<circle cx="41.7" cy="59.1" r="1.8" fill="none" stroke="#dccdec" stroke-width="0.7"/>
<circle cx="29.7" cy="28.4" r="2.3" fill="none" stroke="#dccdec" stroke-width="0.7"/>
<circle cx="87.2" cy="16.9" r="1.9" fill="none" stroke="#dccdec" stroke-width="0.7"/>
<circle cx="34.4" cy="25.6" r="1.9" fill="none" stroke="#dccdec" stroke-width="0.7"/>
<circle cx="36.6" cy="12.8" r="2.1" fill="none" stroke="#dccdec" stroke-width="0.7"/>
<circle cx="77.5" cy="39.1" r="2.3" fill="none" stroke="#dccdec" stroke-width="0.7"/>
<circle cx="54.1" cy="11.4" r="2.2" fill="none" stroke="#dccdec" stroke-width="0.7"/>
<circle cx="85.8" cy="19.4" r="1.6" fill="none" stroke="#dccdec" stroke-width="0.7"/>
<circle cx="49.4" cy="39.4" r="2.1" fill="none" stroke="#dccdec" stroke-width="0.7"/>
<circle cx="94.4" cy="47.6" r="2.2" fill="none" stroke="#dccdec" stroke-width="0.7"/>
<circle cx="4.4" cy="39.6" r="2.2" fill="none" stroke="#dccdec" stroke-width="0.7"/>
<circle cx="6.4" cy="4.2" r="2.2" fill="none" stroke="#dccdec" stroke-width="0.7"/>
<circle cx="87.6" cy="4.4" r="2.1" fill="none" stroke="#dccdec" stroke-width="0.7"/>
<circle cx="12.3" cy="54.8" r="2.1" fill="none" stroke="#dccdec" stroke-width="0.7"/>
<circle cx="22.5" cy="14.8" r="2.2" fill="none" stroke="#dccdec" stroke-width="0.7"/>
<circle cx="50.0" cy="56.2" r="1.9" fill="none" stroke="#dccdec" stroke-width="0.7"/>
<circle cx="31.7" cy="71.7" r="2.1" fill="none" stroke="#dccdec" stroke-width="0.7"/>
<circle cx="47.2" cy="38.9" r="2.2" fill="none" stroke="#dccdec" stroke-width="0.7"/>
<circle cx="68.6" cy="67.6" r="1.9" fill="none" stroke="#dccdec" stroke-width="0.7"/>
<circle cx="80.4" cy="48.7" r="2.3" fill="none" stroke="#dccdec" stroke-width="0.7"/>
<circle cx="78.3" cy="61.5" r="2.3" fill="none" stroke="#dccdec" stroke-width="0.7"/>
<circle cx="93.5" cy="46.7" r="2.0" fill="none" stroke="#dccdec" stroke-width="0.7"/>
<circle cx="68.8" cy="59.1" r="1.9" fill="none" stroke="#dccdec" stroke-width="0.7"/>
<circle cx="39.9" cy="9.1" r="2.2" fill="none" stroke="#dccdec" stroke-width="0.7"/>
<circle cx="96.8" cy="26.6" r="1.7" fill="none" stroke="#dccdec" stroke-width="0.7"/>
<circle cx="18.4" cy="30.3" r="1.8" fill="none" stroke="#dccdec" stroke-width="0.7"/>
<circle cx="94.7" cy="2.5" r="1.8" fill="none" stroke="#dccdec" stroke-width="0.7"/>
<circle cx="9.4" cy="47.3" r="2.2" fill="none" stroke="#dccdec" stroke-width="0.7"/>
<circle cx="15.9" cy="2.7" r="2.0" fill="none" stroke="#dccdec" stroke-width="0.7"/>
<circle cx="56.2" cy="67.2" r="1.6" fill="none" stroke="#dccdec" stroke-width="0.7"/>
<circle cx="8.8" cy="12.0" r="1.8" fill="none" stroke="#dccdec" stroke-width="0.7"/>
<circle cx="21.5" cy="52.6" r="2.1" fill="none" stroke="#dccdec" stroke-width="0.7"/>
<circle cx="20.3" cy="12.1" r="1.8" fill="none" stroke="#dccdec" stroke-width="0.7"/>
<circle cx="15.2" cy="55.6" r="1.8" fill="none" stroke="#dccdec" stroke-width="0.7"/>
<circle cx="52.7" cy="60.2" r="2.0" fill="none" stroke="#dccdec" stroke-width="0.7"/>
<circle cx="24.0" cy="65.5" r="2.3" fill="none" stroke="#dccdec" stroke-width="0.7"/>
<circle cx="32.1" cy="39.7" r="2.4" fill="none" stroke="#dccdec" stroke-width="0.7"/>
<circle cx="46.1" cy="14.8" r="1.6" fill="none" stroke="#dccdec" stroke-width="0.7"/>
<circle cx="92.5" cy="59.0" r="1.9" fill="none" stroke="#dccdec" stroke-width="0.7"/>
<circle cx="50.6" cy="37.3" r="1.8" fill="none" stroke="#dccdec" stroke-width="0.7"/>
<circle cx="96.7" cy="48.0" r="1.8" fill="none" stroke="#dccdec" stroke-width="0.7"/>
<circle cx="-0.9" cy="34.0" r="1.9" fill="none" stroke="#dccdec" stroke-width="0.7"/>
<circle cx="77.4" cy="52.3" r="2.1" fill="none" stroke="#dccdec" stroke-width="0.7"/>
<circle cx="13.7" cy="9.9" r="1.9" fill="none" stroke="#dccdec" stroke-width="0.7"/>
<circle cx="23.9" cy="64.1" r="2.0" fill="none" stroke="#dccdec" stroke-width="0.7"/>
<circle cx="61.5" cy="73.6" r="1.8" fill="none" stroke="#dccdec" stroke-width="0.7"/>
<circle cx="51.3" cy="9.5" r="2.2" fill="none" stroke="#dccdec" stroke-width="0.7"/>
<circle cx="-1.9" cy="60.5" r="2.3" fill="none" stroke="#dccdec" stroke-width="0.7"/>
<circle cx="80.0" cy="4.3" r="1.8" fill="none" stroke="#dccdec" stroke-width="0.7"/>
<circle cx="69.4" cy="5.4" r="2.0" fill="none" stroke="#dccdec" stroke-width="0.7"/>
<circle cx="44.7" cy="70.7" r="2.1" fill="none" stroke="#dccdec" stroke-width="0.7"/>
<circle cx="83.5" cy="21.1" r="2.2" fill="none" stroke="#dccdec" stroke-width="0.7"/>
<circle cx="39.6" cy="67.8" r="1.7" fill="none" stroke="#dccdec" stroke-width="0.7"/>
<circle cx="80.4" cy="13.9" r="2.0" fill="none" stroke="#dccdec" stroke-width="0.7"/>
<circle cx="50.4" cy="10.0" r="2.3" fill="none" stroke="#dccdec" stroke-width="0.7"/>
<circle cx="29.0" cy="21.6" r="1.7" fill="none" stroke="#dccdec" stroke-width="0.7"/>
<circle cx="28.5" cy="33.6" r="2.2" fill="none" stroke="#dccdec" stroke-width="0.7"/>
<circle cx="33.9" cy="50.3" r="1.7" fill="none" stroke="#dccdec" stroke-width="0.7"/>
<circle cx="37.3" cy="33.1" r="2.4" fill="none" stroke="#dccdec" stroke-width="0.7"/>
<circle cx="80.7" cy="47.8" r="1.6" fill="none" stroke="#dccdec" stroke-width="0.7"/>
<circle cx="35.6" cy="52.0" r="1.8" fill="none" stroke="#dccdec" stroke-width="0.7"/>
<circle cx="54.2" cy="32.9" r="1.6" fill="none" stroke="#dccdec" stroke-width="0.7"/>
<circle cx="96.9" cy="58.8" r="1.8" fill="none" stroke="#dccdec" stroke-width="0.7"/>
<circle cx="59.4" cy="20.1" r="1.9" fill="none" stroke="#dccdec" stroke-width="0.7"/>
<circle cx="51.8" cy="20.7" r="1.9" fill="none" stroke="#dccdec" stroke-width="0.7"/>
<circle cx="37.1" cy="48.7" r="1.8" fill="none" stroke="#dccdec" stroke-width="0.7"/>
<circle cx="17.9" cy="53.7" r="1.9" fill="none" stroke="#dccdec" stroke-width="0.7"/>
<circle cx="92.2" cy="40.8" r="2.2" fill="none" stroke="#dccdec" stroke-width="0.7"/>
<circle cx="31.1" cy="60.9" r="1.7" fill="none" stroke="#dccdec" stroke-width="0.7"/>
<circle cx="12.0" cy="5.2" r="2.1" fill="none" stroke="#dccdec" stroke-width="0.7"/>
<circle cx="68.6" cy="11.7" r="1.9" fill="none" stroke="#dccdec" stroke-width="0.7"/>
<circle cx="81.4" cy="43.1" r="1.7" fill="none" stroke="#dccdec" stroke-width="0.7"/>
<circle cx="20.6" cy="10.0" r="1.7" fill="none" stroke="#dccdec" stroke-width="0.7"/>
<circle cx="38.6" cy="3.5" r="2.3" fill="none" stroke="#dccdec" stroke-width="0.7"/>
<circle cx="40.6" cy="36.9" r="2.1" fill="none" stroke="#dccdec" stroke-width="0.7"/>
<circle cx="74.5" cy="60.5" r="1.9" fill="none" stroke="#dccdec" stroke-width="0.7"/>
<circle cx="31.0" cy="29.4" r="1.6" fill="none" stroke="#dccdec" stroke-width="0.7"/>
<circle cx="38.0" cy="51.3" r="2.4" fill="none" stroke="#dccdec" stroke-width="0.7"/>
<circle cx="76.7" cy="48.2" r="2.1" fill="none" stroke="#dccdec" stroke-width="0.7"/>
<circle cx="-0.2" cy="23.2" r="1.9" fill="none" stroke="#dccdec" stroke-width="0.7"/>
<circle cx="62.9" cy="6.1" r="1.9" fill="none" stroke="#dccdec" stroke-width="0.7"/>
<circle cx="48.8" cy="58.0" r="2.3" fill="none" stroke="#dccdec" stroke-width="0.7"/>
<circle cx="59.0" cy="10.0" r="2.2" fill="none" stroke="#dccdec" stroke-width="0.7"/>
<circle cx="88.0" cy="39.7" r="1.9" fill="none" stroke="#dccdec" stroke-width="0.7"/>
<circle cx="47.9" cy="8.8" r="2.2" fill="none" stroke="#dccdec" stroke-width="0.7"/>
<circle cx="96.4" cy="37.3" r="2.2" fill="none" stroke="#dccdec" stroke-width="0.7"/>
<circle cx="81.3" cy="13.0" r="2.4" fill="none" stroke="#dccdec" stroke-width="0.7"/>
<circle cx="60.5" cy="13.1" r="1.7" fill="none" stroke="#dccdec" stroke-width="0.7"/>
<circle cx="22.4" cy="41.9" r="2.2" fill="none" stroke="#dccdec" stroke-width="0.7"/>
<circle cx="30.8" cy="68.7" r="1.9" fill="none" stroke="#dccdec" stroke-width="0.7"/>
<circle cx="44.2" cy="7.4" r="2.4" fill="none" stroke="#dccdec" stroke-width="0.7"/>
<circle cx="11.5" cy="66.8" r="2.0" fill="none" stroke="#dccdec" stroke-width="0.7"/>
<circle cx="53.9" cy="40.6" r="1.8" fill="none" stroke="#dccdec" stroke-width="0.7"/>
<circle cx="88.7" cy="73.5" r="2.3" fill="none" stroke="#dccdec" stroke-width="0.7"/>
<circle cx="58.0" cy="7.3" r="2.3" fill="none" stroke="#dccdec" stroke-width="0.7"/>
<circle cx="26.8" cy="66.3" r="1.8" fill="none" stroke="#dccdec" stroke-width="0.7"/>
<circle cx="55.2" cy="61.2" r="1.7" fill="none" stroke="#dccdec" stroke-width="0.7"/>
<circle cx="52.6" cy="3.8" r="1.6" fill="none" stroke="#dccdec" stroke-width="0.7"/>
<circle cx="16.0" cy="73.1" r="2.4" fill="none" stroke="#dccdec" stroke-width="0.7"/>
<circle cx="63.6" cy="21.4" r="2.1" fill="none" stroke="#dccdec" stroke-width="0.7"/>
<circle cx="71.5" cy="27.0" r="2.1" fill="none" stroke="#dccdec" stroke-width="0.7"/>
<circle cx="78.1" cy="-0.8" r="1.8" fill="none" stroke="#dccdec" stroke-width="0.7"/>
<circle cx="44.7" cy="8.9" r="1.9" fill="none" stroke="#dccdec" stroke-width="0.7"/>
<circle cx="54.8" cy="11.2" r="2.0" fill="none" stroke="#dccdec" stroke-width="0.7"/>
<circle cx="24.3" cy="41.2" r="1.9" fill="none" stroke="#dccdec" stroke-width="0.7"/>
<circle cx="62.0" cy="0.9" r="1.3" fill="rgb(94, 54, 140)"/>
<circle cx="93.6" cy="43.7" r="1.2" fill="rgb(101, 61, 144)"/>
<circle cx="60.2" cy="50.5" r="1.3" fill="rgb(111, 71, 150)"/>
<circle cx="46.4" cy="73.7" r="1.4" fill="rgb(113, 73, 151)"/>
<circle cx="38.8" cy="31.0" r="1.2" fill="rgb(115, 75, 152)"/>
<circle cx="50.4" cy="38.0" r="1.1" fill="rgb(115, 75, 152)"/>
<circle cx="30.0" cy="2.2" r="1.3" fill="rgb(115, 75, 152)"/>
<circle cx="71.0" cy="43.5" r="1.3" fill="rgb(98, 58, 142)"/>
<circle cx="57.2" cy="3.3" r="1.0" fill="rgb(102, 62, 145)"/>
<circle cx="48.1" cy="28.2" r="0.9" fill="rgb(109, 69, 149)"/>
<circle cx="50.5" cy="16.2" r="1.1" fill="rgb(101, 61, 144)"/>
<circle cx="21.5" cy="3.2" r="1.4" fill="rgb(117, 77, 153)"/>
<circle cx="64.4" cy="63.9" r="1.1" fill="rgb(112, 72, 151)"/>
<circle cx="20.1" cy="54.8" r="1.2" fill="rgb(115, 75, 152)"/>
<circle cx="7.8" cy="58.3" r="1.0" fill="rgb(105, 65, 146)"/>
<circle cx="92.8" cy="-2.0" r="1.0" fill="rgb(98, 58, 142)"/>
<circle cx="30.4" cy="2.8" r="1.4" fill="rgb(112, 72, 151)"/>
<circle cx="37.6" cy="25.1" r="1.2" fill="rgb(91, 51, 138)"/>
<circle cx="1.1" cy="66.4" r="1.1" fill="rgb(103, 63, 145)"/>
<circle cx="91.1" cy="72.4" r="1.2" fill="rgb(95, 55, 141)"/>
<circle cx="27.4" cy="68.2" r="1.4" fill="rgb(95, 55, 140)"/>
<circle cx="81.5" cy="25.0" r="1.2" fill="rgb(94, 54, 140)"/>
<circle cx="85.7" cy="73.8" r="1.0" fill="rgb(107, 67, 148)"/>
<circle cx="17.1" cy="65.0" r="0.9" fill="rgb(92, 52, 139)"/>
<circle cx="70.4" cy="21.8" r="1.4" fill="rgb(114, 74, 152)"/>
<circle cx="69.1" cy="8.3" r="1.3" fill="rgb(116, 76, 153)"/>
<circle cx="42.4" cy="4.0" r="1.0" fill="rgb(98, 58, 142)"/>
<circle cx="68.8" cy="13.0" r="1.0" fill="rgb(96, 56, 141)"/>
<circle cx="64.3" cy="58.2" r="1.1" fill="rgb(108, 68, 148)"/>
<circle cx="86.2" cy="42.9" r="1.0" fill="rgb(98, 58, 142)"/>
<circle cx="90.4" cy="48.8" r="1.1" fill="rgb(107, 67, 148)"/>
<circle cx="7.0" cy="72.8" r="1.1" fill="rgb(104, 64, 146)"/>
<circle cx="50.9" cy="1.5" r="1.2" fill="rgb(97, 57, 142)"/>
<circle cx="23.0" cy="59.1" r="0.9" fill="rgb(97, 57, 142)"/>
<circle cx="73.3" cy="16.7" r="1.1" fill="rgb(105, 65, 146)"/>
<circle cx="16.6" cy="66.3" r="1.4" fill="rgb(90, 50, 138)"/>
<circle cx="44.0" cy="55.1" r="1.1" fill="rgb(116, 76, 153)"/>
<circle cx="47.8" cy="11.7" r="1.2" fill="rgb(108, 68, 148)"/>
<circle cx="33.9" cy="48.1" r="1.3" fill="rgb(104, 64, 146)"/>
<circle cx="48.4" cy="62.3" r="1.3" fill="rgb(104, 64, 146)"/>
<circle cx="92.9" cy="11.2" r="1.3" fill="rgb(94, 54, 140)"/>
<circle cx="58.6" cy="15.9" r="1.1" fill="rgb(111, 71, 150)"/>
<circle cx="76.4" cy="58.2" r="1.0" fill="rgb(103, 63, 145)"/>
<circle cx="20.1" cy="42.1" r="1.2" fill="rgb(90, 50, 138)"/>
<circle cx="57.5" cy="52.4" r="1.2" fill="rgb(114, 74, 152)"/>
<circle cx="15.9" cy="9.6" r="0.9" fill="rgb(103, 63, 145)"/>
<circle cx="41.3" cy="31.6" r="1.0" fill="rgb(112, 72, 151)"/>
<circle cx="5.2" cy="67.0" r="1.2" fill="rgb(105, 65, 146)"/>
<circle cx="76.9" cy="16.1" r="1.0" fill="rgb(98, 58, 142)"/>
<circle cx="2.2" cy="21.9" r="1.2" fill="rgb(104, 64, 146)"/>
<circle cx="24.4" cy="42.8" r="0.9" fill="rgb(112, 72, 151)"/>
<circle cx="15.1" cy="17.4" r="1.0" fill="rgb(109, 69, 149)"/>
<circle cx="80.8" cy="57.9" r="0.9" fill="rgb(101, 61, 144)"/>
<circle cx="34.3" cy="14.5" r="1.4" fill="rgb(91, 51, 138)"/>
<circle cx="46.8" cy="55.9" r="1.4" fill="rgb(94, 54, 140)"/>
<circle cx="43.4" cy="54.7" r="0.9" fill="rgb(96, 56, 141)"/>
<circle cx="86.7" cy="8.8" r="1.1" fill="rgb(98, 58, 142)"/>
<circle cx="40.3" cy="3.8" r="0.9" fill="rgb(117, 77, 154)"/>
<circle cx="74.1" cy="53.9" r="1.0" fill="rgb(97, 57, 141)"/>
<circle cx="53.0" cy="16.4" r="1.2" fill="rgb(116, 76, 153)"/>
<circle cx="34.3" cy="23.6" r="1.4" fill="rgb(107, 67, 147)"/>
<circle cx="2.0" cy="28.7" r="1.3" fill="rgb(91, 51, 138)"/>
<circle cx="32.2" cy="50.9" r="1.4" fill="rgb(106, 66, 147)"/>
<circle cx="86.4" cy="33.2" r="1.1" fill="rgb(113, 73, 151)"/>
<circle cx="36.0" cy="57.5" r="1.0" fill="rgb(99, 59, 143)"/>
<circle cx="16.3" cy="39.8" r="1.0" fill="rgb(95, 55, 141)"/>
<circle cx="19.4" cy="33.6" r="1.1" fill="rgb(102, 62, 145)"/>
<circle cx="97.0" cy="49.7" r="1.4" fill="rgb(95, 55, 141)"/>
<circle cx="36.2" cy="3.5" r="1.3" fill="rgb(100, 60, 143)"/>
<circle cx="25.4" cy="-0.6" r="1.0" fill="rgb(97, 57, 142)"/>
<circle cx="37.2" cy="68.3" r="1.3" fill="rgb(97, 57, 142)"/>
<circle cx="34.0" cy="9.7" r="1.4" fill="rgb(100, 60, 143)"/>
<circle cx="74.3" cy="53.1" r="1.4" fill="rgb(90, 50, 137)"/>
<circle cx="30.1" cy="27.3" r="0.9" fill="rgb(114, 74, 152)"/>
<circle cx="30.4" cy="56.7" r="1.2" fill="rgb(91, 51, 138)"/>
<circle cx="37.3" cy="16.1" r="0.9" fill="rgb(94, 54, 140)"/>
<circle cx="57.4" cy="0.4" r="1.1" fill="rgb(101, 61, 144)"/>
<circle cx="52.2" cy="8.4" r="1.3" fill="rgb(97, 57, 141)"/>
<circle cx="70.3" cy="48.7" r="1.0" fill="rgb(95, 55, 141)"/>
<circle cx="26.0" cy="52.2" r="1.1" fill="rgb(100, 60, 144)"/>
<circle cx="84.3" cy="15.2" r="1.1" fill="rgb(99, 59, 143)"/>
<circle cx="19.5" cy="1.1" r="0.9" fill="rgb(107, 67, 148)"/>
<circle cx="54.4" cy="59.5" r="1.4" fill="rgb(98, 58, 142)"/>
<circle cx="64.8" cy="67.9" r="1.0" fill="rgb(109, 69, 149)"/>
<circle cx="64.5" cy="70.7" r="1.4" fill="rgb(96, 56, 141)"/>
<circle cx="61.1" cy="4.8" r="1.1" fill="rgb(100, 60, 144)"/>
<circle cx="4.0" cy="27.2" r="1.1" fill="rgb(103, 63, 145)"/>
<circle cx="25.9" cy="10.1" r="1.1" fill="rgb(103, 63, 145)"/>
<circle cx="14.6" cy="48.6" r="1.0" fill="rgb(92, 52, 139)"/>
<circle cx="32.1" cy="30.1" r="1.0" fill="rgb(106, 66, 147)"/>
<circle cx="67.9" cy="40.1" r="1.3" fill="rgb(90, 50, 137)"/>
<circle cx="37.0" cy="25.7" r="0.9" fill="rgb(101, 61, 144)"/>
<circle cx="3.4" cy="35.7" r="1.2" fill="rgb(103, 63, 145)"/>
<circle cx="30.5" cy="17.3" r="0.9" fill="rgb(99, 59, 143)"/>
<circle cx="86.9" cy="41.1" r="1.0" fill="rgb(108, 68, 148)"/>
<circle cx="16.5" cy="33.7" r="1.2" fill="rgb(116, 76, 153)"/>
<circle cx="34.2" cy="41.8" r="1.4" fill="rgb(111, 71, 150)"/>
<circle cx="60.5" cy="45.2" r="1.1" fill="rgb(101, 61, 144)"/>
<circle cx="25.5" cy="61.1" r="1.4" fill="rgb(100, 60, 144)"/>
<circle cx="88.7" cy="0.9" r="1.0" fill="rgb(104, 64, 146)"/>
<circle cx="28.8" cy="25.4" r="1.4" fill="rgb(94, 54, 140)"/>
<circle cx="17.2" cy="15.4" r="1.3" fill="rgb(96, 56, 141)"/>
<circle cx="-1.9" cy="39.4" r="1.1" fill="rgb(96, 56, 141)"/>
<circle cx="47.2" cy="47.5" r="1.2" fill="rgb(107, 67, 148)"/>
<circle cx="53.9" cy="61.2" r="1.4" fill="rgb(99, 59, 143)"/>
<circle cx="32.6" cy="65.4" r="1.1" fill="rgb(110, 70, 149)"/>
<circle cx="67.3" cy="50.2" r="1.4" fill="rgb(113, 73, 151)"/>
<circle cx="13.9" cy="45.3" r="1.2" fill="rgb(105, 65, 147)"/>
<circle cx="34.8" cy="19.7" r="1.3" fill="rgb(104, 64, 146)"/>
<circle cx="21.6" cy="17.0" r="1.1" fill="rgb(94, 54, 140)"/>
<circle cx="49.2" cy="7.6" r="0.9" fill="rgb(91, 51, 138)"/>
<circle cx="8.2" cy="51.6" r="1.0" fill="rgb(102, 62, 145)"/>
<circle cx="75.0" cy="34.6" r="1.0" fill="rgb(114, 74, 152)"/>
<circle cx="84.7" cy="2.1" r="1.0" fill="rgb(104, 64, 146)"/>
<circle cx="77.4" cy="27.9" r="1.3" fill="rgb(97, 57, 141)"/>
<circle cx="69.4" cy="22.9" r="1.1" fill="rgb(111, 71, 150)"/>
<circle cx="82.0" cy="61.1" r="1.2" fill="rgb(101, 61, 144)"/>
<circle cx="68.5" cy="45.4" r="1.4" fill="rgb(112, 72, 151)"/>
<circle cx="10.5" cy="26.7" r="1.3" fill="rgb(96, 56, 141)"/>
<circle cx="16.4" cy="-1.0" r="1.2" fill="rgb(116, 76, 153)"/>
<circle cx="94.8" cy="8.2" r="1.3" fill="rgb(101, 61, 144)"/>
<circle cx="61.0" cy="28.2" r="1.4" fill="rgb(117, 77, 154)"/>
<circle cx="2.9" cy="52.3" r="1.0" fill="rgb(91, 51, 138)"/>
<circle cx="26.5" cy="53.6" r="1.4" fill="rgb(93, 53, 139)"/>
<circle cx="30.9" cy="0.0" r="1.2" fill="rgb(103, 63, 145)"/>
<circle cx="35.2" cy="21.5" r="1.3" fill="rgb(113, 73, 151)"/>
<circle cx="26.3" cy="27.8" r="1.2" fill="rgb(111, 71, 150)"/>
<circle cx="95.8" cy="27.6" r="1.3" fill="rgb(105, 65, 146)"/>
<circle cx="77.8" cy="9.2" r="1.0" fill="rgb(92, 52, 139)"/>
<circle cx="91.1" cy="17.1" r="1.2" fill="rgb(93, 53, 139)"/>
<circle cx="30.3" cy="-0.5" r="1.2" fill="rgb(94, 54, 140)"/>
<circle cx="60.3" cy="18.9" r="1.0" fill="rgb(103, 63, 145)"/>
<circle cx="34.5" cy="17.8" r="0.9" fill="rgb(91, 51, 138)"/>
<circle cx="87.0" cy="21.5" r="0.9" fill="rgb(95, 55, 140)"/>
<circle cx="46.2" cy="73.9" r="1.0" fill="rgb(114, 74, 152)"/>
<circle cx="46.3" cy="29.5" r="1.3" fill="rgb(101, 61, 144)"/>
<circle cx="3.7" cy="39.9" r="1.3" fill="rgb(107, 67, 148)"/>
<circle cx="25.6" cy="69.4" r="1.4" fill="rgb(117, 77, 154)"/>
<circle cx="42.2" cy="61.4" r="1.3" fill="rgb(94, 54, 140)"/>
<circle cx="0.7" cy="10.8" r="1.0" fill="rgb(92, 52, 138)"/>
<circle cx="33.8" cy="55.3" r="1.1" fill="rgb(104, 64, 146)"/>
<circle cx="-1.0" cy="14.0" r="1.4" fill="rgb(90, 50, 137)"/>
<circle cx="50.6" cy="59.6" r="1.3" fill="rgb(110, 70, 149)"/>
<circle cx="37.8" cy="59.1" r="1.4" fill="rgb(111, 71, 150)"/>
<circle cx="96.3" cy="5.7" r="1.4" fill="rgb(101, 61, 144)"/>
<circle cx="68.3" cy="17.1" r="1.4" fill="rgb(90, 50, 137)"/>
<circle cx="55.5" cy="15.3" r="1.1" fill="rgb(100, 60, 143)"/>
<circle cx="63.5" cy="59.7" r="1.1" fill="rgb(107, 67, 148)"/>
<circle cx="33.3" cy="19.2" r="1.4" fill="rgb(99, 59, 143)"/>
<circle cx="7.4" cy="23.5" r="1.3" fill="rgb(95, 55, 141)"/>
<circle cx="72.1" cy="39.6" r="1.3" fill="rgb(94, 54, 140)"/>
<circle cx="8.6" cy="8.9" r="1.1" fill="rgb(102, 62, 144)"/>
<circle cx="-1.1" cy="36.2" r="1.1" fill="rgb(99, 59, 143)"/>
<circle cx="51.6" cy="70.5" r="1.0" fill="rgb(114, 74, 152)"/>
<circle cx="30.0" cy="55.4" r="1.0" fill="rgb(117, 77, 154)"/>
<circle cx="40.9" cy="71.3" r="1.0" fill="rgb(101, 61, 144)"/>
<circle cx="68.4" cy="11.5" r="1.1" fill="rgb(108, 68, 148)"/>
<circle cx="92.5" cy="22.5" r="1.0" fill="rgb(100, 60, 143)"/>
<circle cx="96.7" cy="9.3" r="1.2" fill="rgb(100, 60, 143)"/>
<circle cx="62.2" cy="14.2" r="1.2" fill="rgb(114, 74, 152)"/>
<circle cx="83.4" cy="45.8" r="1.2" fill="rgb(105, 65, 147)"/>
<circle cx="9.4" cy="61.7" r="1.3" fill="rgb(102, 62, 145)"/>
<circle cx="64.3" cy="29.9" r="1.1" fill="rgb(96, 56, 141)"/>
<circle cx="57.9" cy="41.6" r="1.2" fill="rgb(90, 50, 138)"/>
<circle cx="60.5" cy="32.0" r="1.2" fill="rgb(106, 66, 147)"/>
<circle cx="90.9" cy="9.6" r="1.2" fill="rgb(117, 77, 154)"/>
<circle cx="71.6" cy="21.8" r="1.3" fill="rgb(117, 77, 154)"/>
<circle cx="38.1" cy="64.0" r="1.0" fill="rgb(117, 77, 154)"/>
<circle cx="47.0" cy="15.8" r="1.4" fill="rgb(108, 68, 148)"/>
<circle cx="91.5" cy="61.1" r="1.3" fill="rgb(104, 64, 146)"/>
<circle cx="97.1" cy="2.9" r="1.4" fill="rgb(109, 69, 149)"/>
<circle cx="23.0" cy="59.4" r="1.1" fill="rgb(105, 65, 146)"/>
<circle cx="84.3" cy="12.9" r="1.1" fill="rgb(108, 68, 148)"/>
<circle cx="5.3" cy="40.2" r="1.3" fill="rgb(103, 63, 145)"/>
<circle cx="22.1" cy="58.9" r="1.4" fill="rgb(111, 71, 150)"/>
<circle cx="52.8" cy="66.9" r="1.3" fill="rgb(94, 54, 140)"/>
<circle cx="34.5" cy="5.6" r="0.9" fill="rgb(99, 59, 143)"/>
<circle cx="84.2" cy="61.5" r="1.0" fill="rgb(95, 55, 140)"/>
<circle cx="36.7" cy="62.6" r="1.2" fill="rgb(115, 75, 152)"/>
<circle cx="5.2" cy="73.2" r="1.0" fill="rgb(107, 67, 148)"/>
<circle cx="85.4" cy="53.4" r="1.0" fill="rgb(108, 68, 148)"/>
<circle cx="40.9" cy="-0.8" r="1.1" fill="rgb(98, 58, 142)"/>
<circle cx="60.8" cy="19.2" r="1.2" fill="rgb(109, 69, 149)"/>
<circle cx="16.0" cy="7.7" r="1.3" fill="rgb(103, 63, 145)"/>
<circle cx="10.9" cy="6.8" r="1.4" fill="rgb(107, 67, 147)"/>
<circle cx="33.6" cy="12.9" r="1.4" fill="rgb(109, 69, 149)"/>
<circle cx="71.4" cy="25.4" r="1.1" fill="rgb(101, 61, 144)"/>
<circle cx="12.6" cy="46.0" r="1.1" fill="rgb(112, 72, 151)"/>
<circle cx="38.8" cy="32.8" r="1.2" fill="rgb(116, 76, 153)"/>
<circle cx="32.5" cy="51.5" r="1.0" fill="rgb(106, 66, 147)"/>
<circle cx="26.4" cy="64.4" r="1.1" fill="rgb(113, 73, 151)"/>
<circle cx="65.5" cy="32.6" r="1.4" fill="rgb(100, 60, 144)"/>
<circle cx="72.1" cy="43.8" r="1.1" fill="rgb(91, 51, 138)"/>
<circle cx="39.8" cy="19.4" r="1.1" fill="rgb(116, 76, 153)"/>
<circle cx="27.2" cy="50.9" r="1.3" fill="rgb(96, 56, 141)"/>
<circle cx="39.0" cy="8.1" r="1.4" fill="rgb(97, 57, 141)"/>
<circle cx="39.9" cy="24.0" r="1.4" fill="rgb(113, 73, 151)"/>
<circle cx="56.9" cy="39.5" r="1.0" fill="rgb(115, 75, 152)"/>
<circle cx="6.8" cy="25.7" r="1.1" fill="rgb(110, 70, 149)"/>
<circle cx="64.7" cy="24.2" r="1.4" fill="rgb(116, 76, 153)"/>
<circle cx="0.3" cy="46.2" r="1.2" fill="rgb(100, 60, 143)"/>
<circle cx="44.3" cy="22.1" r="1.3" fill="rgb(106, 66, 147)"/>
<circle cx="94.7" cy="72.3" r="1.4" fill="rgb(101, 61, 144)"/>
<circle cx="80.6" cy="47.5" r="1.3" fill="rgb(117, 77, 154)"/>
<circle cx="4.6" cy="33.2" r="1.1" fill="rgb(108, 68, 148)"/>
<circle cx="19.7" cy="73.3" r="1.0" fill="rgb(100, 60, 143)"/>
<circle cx="12.3" cy="28.0" r="1.3" fill="rgb(92, 52, 139)"/>
<circle cx="14.6" cy="47.4" r="1.2" fill="rgb(110, 70, 150)"/>
<circle cx="23.3" cy="59.7" r="1.3" fill="rgb(111, 71, 150)"/>
<circle cx="9.9" cy="33.7" r="0.9" fill="rgb(114, 74, 152)"/>
<circle cx="92.2" cy="66.2" r="0.9" fill="rgb(99, 59, 143)"/>
<circle cx="51.4" cy="38.6" r="1.0" fill="rgb(112, 72, 150)"/>
<circle cx="28.1" cy="36.6" r="1.0" fill="rgb(105, 65, 147)"/>
<circle cx="10.9" cy="4.7" r="1.2" fill="rgb(98, 58, 142)"/>
<circle cx="75.5" cy="16.8" r="1.1" fill="rgb(91, 51, 138)"/>
<circle cx="19.7" cy="32.4" r="1.2" fill="rgb(102, 62, 145)"/>
<circle cx="82.8" cy="5.9" r="1.4" fill="rgb(94, 54, 140)"/>
<circle cx="94.7" cy="37.9" r="1.1" fill="rgb(107, 67, 147)"/>
<circle cx="84.1" cy="71.3" r="1.1" fill="rgb(90, 50, 137)"/>
<circle cx="13.3" cy="60.3" r="1.3" fill="rgb(109, 69, 149)"/>
<circle cx="13.6" cy="38.4" r="0.9" fill="rgb(93, 53, 139)"/>
<circle cx="28.0" cy="71.5" r="1.3" fill="rgb(113, 73, 151)"/>
<circle cx="2.6" cy="29.7" r="0.9" fill="rgb(97, 57, 141)"/>
<circle cx="9.1" cy="67.9" r="1.1" fill="rgb(103, 63, 145)"/>
<circle cx="63.2" cy="65.5" r="1.4" fill="rgb(105, 65, 147)"/>
<circle cx="47.9" cy="66.8" r="1.1" fill="rgb(98, 58, 142)"/>
<circle cx="71.7" cy="17.7" r="1.1" fill="rgb(102, 62, 144)"/>
<circle cx="45.5" cy="25.3" r="1.1" fill="rgb(102, 62, 145)"/>
<circle cx="2.9" cy="61.6" r="0.9" fill="rgb(104, 64, 146)"/>
<circle cx="52.6" cy="28.4" r="1.0" fill="rgb(92, 52, 139)"/>
<circle cx="35.1" cy="21.9" r="1.2" fill="rgb(96, 56, 141)"/>
<circle cx="72.7" cy="35.1" r="0.9" fill="rgb(101, 61, 144)"/>
<circle cx="94.3" cy="-1.5" r="1.2" fill="rgb(116, 76, 153)"/>
<circle cx="34.5" cy="43.5" r="1.1" fill="rgb(98, 58, 142)"/>
<circle cx="58.7" cy="42.9" r="1.1" fill="rgb(103, 63, 145)"/>
<circle cx="49.5" cy="55.4" r="0.9" fill="rgb(92, 52, 139)"/>
<circle cx="23.1" cy="18.6" r="1.3" fill="rgb(101, 61, 144)"/>
<circle cx="83.7" cy="28.6" r="1.1" fill="rgb(109, 69, 149)"/>
<circle cx="6.5" cy="72.9" r="1.4" fill="rgb(99, 59, 143)"/>
<circle cx="29.6" cy="60.4" r="1.3" fill="rgb(107, 67, 148)"/>
<circle cx="3.7" cy="56.1" r="0.9" fill="rgb(107, 67, 148)"/>
<circle cx="53.0" cy="68.6" r="1.3" fill="rgb(90, 50, 137)"/>
<circle cx="91.2" cy="55.3" r="1.2" fill="rgb(90, 50, 137)"/>
<circle cx="71.5" cy="29.8" r="1.3" fill="rgb(117, 77, 154)"/>
<circle cx="89.4" cy="3.7" r="1.3" fill="rgb(102, 62, 145)"/>
<circle cx="72.9" cy="26.8" r="1.1" fill="rgb(102, 62, 144)"/>
<circle cx="9.8" cy="22.3" r="1.3" fill="rgb(92, 52, 138)"/>
<circle cx="9.6" cy="61.5" r="1.3" fill="rgb(105, 65, 146)"/>
<circle cx="9.3" cy="7.0" r="1.1" fill="rgb(116, 76, 153)"/>
<circle cx="53.9" cy="68.2" r="1.0" fill="rgb(101, 61, 144)"/>
<circle cx="51.5" cy="61.9" r="1.0" fill="rgb(114, 74, 152)"/>
<circle cx="45.1" cy="0.4" r="1.1" fill="rgb(100, 60, 143)"/>
<circle cx="65.2" cy="68.6" r="1.2" fill="rgb(109, 69, 149)"/>
<circle cx="36.7" cy="57.3" r="1.0" fill="rgb(110, 70, 150)"/>
<circle cx="14.6" cy="42.6" r="1.0" fill="rgb(99, 59, 143)"/>
<circle cx="14.3" cy="24.6" r="1.2" fill="rgb(104, 64, 146)"/>
<circle cx="36.7" cy="41.7" r="1.4" fill="rgb(100, 60, 143)"/>
<circle cx="56.2" cy="34.6" r="1.4" fill="rgb(99, 59, 143)"/>
<circle cx="67.5" cy="15.8" r="1.0" fill="rgb(110, 70, 149)"/>
<circle cx="55.3" cy="17.6" r="0.9" fill="rgb(113, 73, 151)"/>
<circle cx="35.6" cy="52.5" r="1.1" fill="rgb(107, 67, 147)"/>
<circle cx="53.8" cy="72.3" r="1.4" fill="rgb(102, 62, 145)"/>
<circle cx="46.5" cy="15.6" r="1.3" fill="rgb(92, 52, 139)"/>
<circle cx="28.6" cy="62.5" r="0.9" fill="rgb(109, 69, 149)"/>
<circle cx="54.6" cy="40.0" r="1.1" fill="rgb(94, 54, 140)"/>
<circle cx="92.8" cy="56.2" r="1.3" fill="rgb(92, 52, 139)"/>
<circle cx="76.2" cy="14.6" r="1.0" fill="rgb(104, 64, 146)"/>
<circle cx="58.8" cy="7.2" r="1.3" fill="rgb(106, 66, 147)"/>
<circle cx="87.7" cy="68.3" r="1.3" fill="rgb(100, 60, 143)"/>
<circle cx="92.8" cy="52.7" r="1.1" fill="rgb(114, 74, 152)"/>
<circle cx="70.5" cy="18.1" r="1.0" fill="rgb(90, 50, 137)"/>
<circle cx="51.6" cy="17.3" r="1.1" fill="rgb(97, 57, 141)"/>
<circle cx="11.1" cy="34.9" r="1.0" fill="rgb(97, 57, 142)"/>
<circle cx="25.7" cy="36.8" r="1.4" fill="rgb(94, 54, 140)"/>
<circle cx="83.7" cy="63.0" r="1.2" fill="rgb(105, 65, 146)"/>
<circle cx="71.2" cy="38.7" r="1.3" fill="rgb(115, 75, 153)"/>
<circle cx="75.3" cy="17.8" r="0.9" fill="rgb(116, 76, 153)"/>
<circle cx="34.2" cy="57.9" r="1.0" fill="rgb(102, 62, 145)"/>
<circle cx="34.9" cy="53.5" r="1.4" fill="rgb(104, 64, 146)"/>
<circle cx="54.4" cy="24.5" r="1.0" fill="rgb(116, 76, 153)"/>
<circle cx="9.0" cy="69.6" r="1.3" fill="rgb(92, 52, 138)"/>
<circle cx="87.9" cy="5.8" r="1.2" fill="rgb(93, 53, 139)"/>
<circle cx="96.6" cy="21.5" r="1.4" fill="rgb(91, 51, 138)"/>
<circle cx="64.4" cy="3.2" r="0.9" fill="rgb(105, 65, 147)"/>
<circle cx="96.0" cy="50.1" r="1.4" fill="rgb(111, 71, 150)"/>
<circle cx="50.0" cy="3.9" r="1.2" fill="rgb(95, 55, 140)"/>
<circle cx="50.5" cy="25.0" r="1.2" fill="rgb(95, 55, 140)"/>
<circle cx="68.3" cy="29.8" r="1.2" fill="rgb(92, 52, 138)"/>
<circle cx="46.5" cy="40.4" r="1.4" fill="rgb(105, 65, 147)"/>
<circle cx="11.4" cy="20.8" r="1.1" fill="rgb(109, 69, 149)"/>
<circle cx="91.6" cy="72.3" r="1.4" fill="rgb(115, 75, 153)"/>
<circle cx="83.6" cy="69.2" r="0.9" fill="rgb(103, 63, 145)"/>
<circle cx="56.9" cy="50.2" r="1.2" fill="rgb(107, 67, 147)"/>
<circle cx="91.0" cy="4.6" r="1.2" fill="rgb(116, 76, 153)"/>
<circle cx="1.2" cy="6.5" r="1.4" fill="rgb(116, 76, 153)"/>
<circle cx="0.4" cy="0.4" r="1.4" fill="rgb(109, 69, 149)"/>
<circle cx="49.8" cy="42.1" r="1.3" fill="rgb(112, 72, 151)"/>
<circle cx="-1.9" cy="3.2" r="1.3" fill="rgb(117, 77, 153)"/>
<circle cx="81.1" cy="29.0" r="1.1" fill="rgb(99, 59, 143)"/>
<circle cx="-0.5" cy="56.6" r="1.0" fill="rgb(106, 66, 147)"/>
<circle cx="50.5" cy="23.5" r="1.3" fill="rgb(102, 62, 145)"/>
<circle cx="21.4" cy="65.1" r="1.0" fill="rgb(94, 54, 140)"/>
<circle cx="23.3" cy="34.5" r="1.3" fill="rgb(99, 59, 143)"/>
<circle cx="21.8" cy="47.8" r="1.0" fill="rgb(104, 64, 146)"/>
<circle cx="23.4" cy="64.7" r="1.0" fill="rgb(96, 56, 141)"/>
<circle cx="28.1" cy="23.1" r="1.3" fill="rgb(108, 68, 148)"/>
<circle cx="76.8" cy="39.1" r="0.9" fill="rgb(111, 71, 150)"/>
<circle cx="22.4" cy="14.6" r="1.1" fill="rgb(117, 77, 154)"/>
<circle cx="35.0" cy="25.1" r="1.4" fill="rgb(117, 77, 154)"/>
<circle cx="36.6" cy="8.3" r="1.3" fill="rgb(111, 71, 150)"/>
<circle cx="31.7" cy="58.2" r="1.1" fill="rgb(98, 58, 142)"/>
<circle cx="57.2" cy="54.4" r="1.2" fill="rgb(112, 72, 151)"/>
<circle cx="-0.6" cy="36.0" r="1.1" fill="rgb(91, 51, 138)"/>
<circle cx="89.2" cy="8.9" r="1.0" fill="rgb(114, 74, 152)"/>
<circle cx="93.8" cy="68.9" r="1.1" fill="rgb(116, 76, 153)"/>
<circle cx="12.1" cy="52.4" r="1.4" fill="rgb(95, 55, 140)"/>
<circle cx="11.5" cy="49.6" r="1.4" fill="rgb(110, 70, 149)"/>
<circle cx="92.6" cy="32.5" r="1.1" fill="rgb(93, 53, 139)"/>
<circle cx="25.2" cy="69.4" r="0.9" fill="rgb(95, 55, 140)"/>
<circle cx="32.6" cy="1.7" r="1.1" fill="rgb(95, 55, 140)"/>
<circle cx="10.2" cy="38.1" r="1.2" fill="rgb(105, 65, 147)"/>
<circle cx="74.0" cy="38.1" r="1.4" fill="rgb(92, 52, 138)"/>
<circle cx="20.2" cy="3.8" r="1.1" fill="rgb(111, 71, 150)"/>
<circle cx="90.1" cy="36.3" r="1.0" fill="rgb(99, 59, 143)"/>
<circle cx="54.7" cy="20.4" r="1.3" fill="rgb(117, 77, 153)"/>
<circle cx="43.8" cy="43.9" r="1.4" fill="rgb(103, 63, 145)"/>
<circle cx="17.0" cy="69.8" r="1.4" fill="rgb(90, 50, 138)"/>
<circle cx="74.0" cy="28.5" r="0.9" fill="rgb(94, 54, 140)"/>
<circle cx="15.3" cy="54.0" r="1.0" fill="rgb(90, 50, 137)"/>
<circle cx="19.9" cy="58.8" r="1.2" fill="rgb(108, 68, 148)"/>
<circle cx="44.4" cy="11.9" r="0.9" fill="rgb(98, 58, 142)"/>
<circle cx="2.1" cy="17.8" r="1.2" fill="rgb(100, 60, 143)"/>
<circle cx="45.2" cy="45.5" r="1.1" fill="rgb(99, 59, 143)"/>
<circle cx="86.1" cy="42.2" r="1.1" fill="rgb(105, 65, 146)"/>
<circle cx="43.9" cy="23.3" r="1.4" fill="rgb(96, 56, 141)"/>
<circle cx="91.3" cy="62.9" r="1.4" fill="rgb(94, 54, 140)"/>
<circle cx="48.7" cy="72.9" r="1.1" fill="rgb(94, 54, 140)"/>
<circle cx="70.1" cy="15.9" r="1.2" fill="rgb(94, 54, 140)"/>
<circle cx="92.5" cy="19.6" r="1.0" fill="rgb(109, 69, 149)"/>
<circle cx="32.6" cy="40.6" r="1.2" fill="rgb(115, 75, 153)"/>
<circle cx="49.3" cy="26.8" r="0.9" fill="rgb(103, 63, 145)"/>
<circle cx="24.8" cy="41.7" r="1.2" fill="rgb(102, 62, 145)"/>
<circle cx="7.0" cy="35.9" r="1.2" fill="rgb(107, 67, 148)"/>
<circle cx="94.7" cy="19.3" r="1.1" fill="rgb(92, 52, 139)"/>
<circle cx="77.8" cy="15.8" r="1.4" fill="rgb(112, 72, 151)"/>
<circle cx="23.4" cy="66.7" r="1.2" fill="rgb(101, 61, 144)"/>
<circle cx="53.4" cy="70.0" r="1.2" fill="rgb(103, 63, 145)"/>
<circle cx="27.0" cy="62.0" r="1.2" fill="rgb(99, 59, 143)"/>
<circle cx="17.6" cy="14.4" r="1.4" fill="rgb(112, 72, 151)"/>
<circle cx="95.6" cy="67.8" r="1.3" fill="rgb(112, 72, 150)"/>
<circle cx="69.0" cy="59.6" r="1.3" fill="rgb(94, 54, 140)"/>
<circle cx="79.2" cy="21.1" r="1.0" fill="rgb(115, 75, 153)"/>
<circle cx="0.3" cy="36.9" r="1.1" fill="rgb(112, 72, 150)"/>
<circle cx="58.9" cy="67.3" r="1.4" fill="rgb(108, 68, 148)"/>
<circle cx="4.4" cy="48.8" r="1.0" fill="rgb(117, 77, 154)"/>
<circle cx="84.9" cy="21.6" r="1.0" fill="rgb(109, 69, 149)"/>
<circle cx="73.6" cy="73.0" r="1.2" fill="rgb(93, 53, 139)"/>
<circle cx="70.5" cy="2.5" r="1.4" fill="rgb(111, 71, 150)"/>
<circle cx="76.3" cy="64.5" r="1.2" fill="rgb(116, 76, 153)"/>
<circle cx="61.7" cy="35.4" r="1.1" fill="rgb(99, 59, 143)"/>
<circle cx="0.3" cy="10.3" r="1.3" fill="rgb(96, 56, 141)"/>
<circle cx="63.2" cy="57.0" r="1.3" fill="rgb(104, 64, 146)"/>
<circle cx="29.5" cy="18.8" r="1.0" fill="rgb(108, 68, 148)"/>
<circle cx="66.4" cy="69.7" r="1.1" fill="rgb(115, 75, 153)"/>
<circle cx="88.9" cy="20.1" r="1.4" fill="rgb(107, 67, 148)"/>
<circle cx="94.0" cy="56.9" r="1.1" fill="rgb(97, 57, 142)"/>
<circle cx="50.1" cy="35.1" r="0.9" fill="rgb(114, 74, 152)"/>
<circle cx="51.4" cy="34.0" r="1.3" fill="rgb(96, 56, 141)"/>
<circle cx="17.9" cy="42.2" r="1.0" fill="rgb(99, 59, 143)"/>
<circle cx="5.0" cy="2.0" r="1.1" fill="rgb(104, 64, 146)"/>
<circle cx="92.6" cy="46.7" r="1.1" fill="rgb(101, 61, 144)"/>
<circle cx="21.5" cy="34.1" r="1.4" fill="rgb(93, 53, 139)"/>
<circle cx="41.2" cy="50.2" r="1.3" fill="rgb(105, 65, 146)"/>
<circle cx="61.9" cy="69.4" r="1.4" fill="rgb(97, 57, 141)"/>
<circle cx="52.0" cy="73.9" r="1.2" fill="rgb(95, 55, 140)"/>
<circle cx="74.4" cy="2.3" r="1.0" fill="rgb(105, 65, 146)"/>
<circle cx="25.2" cy="52.8" r="1.3" fill="rgb(98, 58, 142)"/>
<circle cx="74.5" cy="47.3" r="1.3" fill="rgb(102, 62, 145)"/>
<circle cx="41.1" cy="6.1" r="1.2" fill="rgb(116, 76, 153)"/>
<circle cx="86.6" cy="2.3" r="0.9" fill="rgb(97, 57, 142)"/>
<circle cx="67.2" cy="31.3" r="1.0" fill="rgb(101, 61, 144)"/>
<circle cx="55.1" cy="54.6" r="1.1" fill="rgb(108, 68, 148)"/>
<circle cx="65.9" cy="44.9" r="0.9" fill="rgb(109, 69, 149)"/>
<circle cx="10.8" cy="2.2" r="1.2" fill="rgb(90, 50, 137)"/>
<circle cx="5.3" cy="27.8" r="1.2" fill="rgb(92, 52, 139)"/>
<circle cx="93.1" cy="62.8" r="1.2" fill="rgb(106, 66, 147)"/>
<circle cx="29.5" cy="72.9" r="1.0" fill="rgb(98, 58, 142)"/>
<circle cx="20.0" cy="63.9" r="1.2" fill="rgb(101, 61, 144)"/>
<circle cx="37.8" cy="65.5" r="1.0" fill="rgb(112, 72, 150)"/>
<circle cx="68.6" cy="32.1" r="1.1" fill="rgb(102, 62, 144)"/>
<circle cx="43.2" cy="22.0" r="1.2" fill="rgb(101, 61, 144)"/>
<circle cx="28.3" cy="56.8" r="1.2" fill="rgb(103, 63, 145)"/>
<circle cx="85.7" cy="32.6" r="1.1" fill="rgb(115, 75, 152)"/>
<circle cx="95.3" cy="57.8" r="1.1" fill="rgb(108, 68, 148)"/>
<circle cx="71.9" cy="20.5" r="1.3" fill="rgb(116, 76, 153)"/>
<circle cx="63.4" cy="48.9" r="1.1" fill="rgb(108, 68, 148)"/>
<circle cx="20.5" cy="56.6" r="1.2" fill="rgb(117, 77, 154)"/>
<circle cx="32.1" cy="52.2" r="0.9" fill="rgb(101, 61, 144)"/>
<circle cx="74.4" cy="17.7" r="1.2" fill="rgb(96, 56, 141)"/>
<circle cx="37.7" cy="73.6" r="1.0" fill="rgb(115, 75, 152)"/>
<circle cx="4.0" cy="42.4" r="1.4" fill="rgb(113, 73, 151)"/>
<circle cx="37.0" cy="42.9" r="1.3" fill="rgb(111, 71, 150)"/>
<circle cx="72.4" cy="42.1" r="1.0" fill="rgb(109, 69, 149)"/>
<circle cx="54.0" cy="39.4" r="1.4" fill="rgb(93, 53, 139)"/>
<circle cx="75.8" cy="22.7" r="1.3" fill="rgb(116, 76, 153)"/>
<circle cx="25.4" cy="41.2" r="1.2" fill="rgb(103, 63, 145)"/>
<circle cx="14.7" cy="45.6" r="1.4" fill="rgb(108, 68, 148)"/>
<circle cx="26.8" cy="59.3" r="1.1" fill="rgb(94, 54, 140)"/>
<circle cx="58.4" cy="33.0" r="1.2" fill="rgb(117, 77, 154)"/>
<circle cx="54.8" cy="70.6" r="1.1" fill="rgb(111, 71, 150)"/>
<circle cx="5.5" cy="20.9" r="1.3" fill="rgb(109, 69, 149)"/>
<circle cx="80.6" cy="26.9" r="1.1" fill="rgb(100, 60, 143)"/>
<circle cx="51.6" cy="-0.2" r="1.1" fill="rgb(108, 68, 148)"/>
<circle cx="12.8" cy="21.7" r="1.4" fill="rgb(116, 76, 153)"/>
<circle cx="22.9" cy="11.5" r="1.0" fill="rgb(92, 52, 139)"/>
<circle cx="77.2" cy="54.2" r="1.0" fill="rgb(103, 63, 145)"/>
<circle cx="67.3" cy="0.1" r="1.4" fill="rgb(114, 74, 152)"/>
<circle cx="19.1" cy="51.5" r="1.3" fill="rgb(99, 59, 143)"/>
<circle cx="85.6" cy="14.6" r="1.2" fill="rgb(98, 58, 142)"/>
<circle cx="42.1" cy="59.8" r="1.2" fill="rgb(107, 67, 147)"/>
<circle cx="96.4" cy="15.0" r="1.0" fill="rgb(107, 67, 148)"/>
<circle cx="13.0" cy="71.4" r="1.1" fill="rgb(102, 62, 144)"/>
<circle cx="41.0" cy="61.0" r="1.4" fill="rgb(108, 68, 148)"/>
<circle cx="15.1" cy="25.0" r="1.3" fill="rgb(96, 56, 141)"/>
<circle cx="86.0" cy="64.4" r="1.0" fill="rgb(100, 60, 143)"/>
<circle cx="20.8" cy="52.7" r="0.9" fill="rgb(109, 69, 149)"/>
<circle cx="4.2" cy="62.0" r="1.2" fill="rgb(106, 66, 147)"/>
<circle cx="7.5" cy="1.4" r="1.1" fill="rgb(117, 77, 154)"/>
<circle cx="57.8" cy="63.6" r="0.9" fill="rgb(92, 52, 139)"/>
<circle cx="0.1" cy="51.0" r="1.0" fill="rgb(97, 57, 142)"/>
<circle cx="64.5" cy="50.9" r="1.1" fill="rgb(103, 63, 145)"/>
<circle cx="26.8" cy="40.7" r="1.1" fill="rgb(100, 60, 143)"/>
<circle cx="22.8" cy="20.2" r="1.0" fill="rgb(90, 50, 137)"/>
<circle cx="28.9" cy="43.1" r="1.0" fill="rgb(93, 53, 139)"/>
<circle cx="82.3" cy="33.7" r="1.2" fill="rgb(98, 58, 142)"/>
<circle cx="86.4" cy="55.4" r="1.2" fill="rgb(108, 68, 148)"/>
<circle cx="67.0" cy="36.1" r="1.1" fill="rgb(100, 60, 144)"/>
<circle cx="48.3" cy="33.7" r="1.2" fill="rgb(104, 64, 146)"/>
<circle cx="76.6" cy="65.9" r="1.0" fill="rgb(90, 50, 137)"/>
<circle cx="28.0" cy="0.4" r="1.3" fill="rgb(107, 67, 148)"/>
<circle cx="26.5" cy="12.6" r="1.4" fill="rgb(113, 73, 151)"/>
<circle cx="66.2" cy="50.6" r="1.3" fill="rgb(102, 62, 145)"/>
<circle cx="37.6" cy="40.1" r="1.4" fill="rgb(117, 77, 154)"/>
<circle cx="89.4" cy="61.6" r="0.9" fill="rgb(96, 56, 141)"/>
<circle cx="94.8" cy="39.4" r="1.2" fill="rgb(98, 58, 142)"/>
<circle cx="83.9" cy="37.3" r="1.4" fill="rgb(92, 52, 138)"/>
<circle cx="97.0" cy="-1.0" r="1.0" fill="rgb(100, 60, 144)"/>
<circle cx="61.8" cy="6.4" r="1.2" fill="rgb(116, 76, 153)"/>
<circle cx="41.4" cy="56.0" r="1.2" fill="rgb(106, 66, 147)"/>
<circle cx="15.3" cy="33.3" r="1.4" fill="rgb(108, 68, 148)"/>
<circle cx="19.6" cy="32.0" r="1.2" fill="rgb(99, 59, 143)"/>
<circle cx="55.6" cy="46.1" r="0.9" fill="rgb(96, 56, 141)"/>
<circle cx="63.5" cy="14.3" r="0.9" fill="rgb(111, 71, 150)"/>
<circle cx="31.3" cy="70.9" r="1.2" fill="rgb(92, 52, 139)"/>
<circle cx="61.5" cy="18.0" r="1.3" fill="rgb(110, 70, 149)"/>
<circle cx="73.6" cy="2.4" r="0.9" fill="rgb(112, 72, 151)"/>
<circle cx="12.0" cy="13.4" r="0.9" fill="rgb(94, 54, 140)"/>
<circle cx="45.2" cy="70.9" r="1.1" fill="rgb(97, 57, 141)"/>
<circle cx="80.5" cy="12.0" r="1.2" fill="rgb(107, 67, 147)"/>
<circle cx="91.3" cy="1.3" r="1.2" fill="rgb(100, 60, 144)"/>
<circle cx="80.1" cy="17.2" r="1.3" fill="rgb(95, 55, 140)"/>
<circle cx="47.4" cy="71.7" r="1.0" fill="rgb(97, 57, 142)"/>
<circle cx="89.5" cy="49.3" r="0.9" fill="rgb(95, 55, 140)"/>
<circle cx="21.6" cy="20.1" r="1.4" fill="rgb(109, 69, 149)"/>
<circle cx="95.7" cy="49.0" r="1.2" fill="rgb(100, 60, 144)"/>
<circle cx="69.5" cy="35.6" r="0.9" fill="rgb(103, 63, 145)"/>
<circle cx="36.3" cy="38.4" r="0.9" fill="rgb(90, 50, 138)"/>
<circle cx="96.0" cy="26.3" r="1.1" fill="rgb(94, 54, 140)"/>
<circle cx="57.1" cy="67.6" r="1.0" fill="rgb(104, 64, 146)"/>
<circle cx="47.8" cy="56.3" r="1.2" fill="rgb(96, 56, 141)"/>
<circle cx="16.9" cy="53.1" r="0.9" fill="rgb(114, 74, 152)"/>
<circle cx="1.3" cy="12.4" r="1.2" fill="rgb(113, 73, 151)"/>
<circle cx="59.8" cy="54.8" r="1.3" fill="rgb(110, 70, 149)"/>
<circle cx="3.1" cy="60.8" r="1.0" fill="rgb(94, 54, 140)"/>
<circle cx="1.7" cy="0.2" r="1.4" fill="rgb(100, 60, 144)"/>
<circle cx="6.6" cy="1.6" r="1.4" fill="rgb(106, 66, 147)"/>
<circle cx="89.4" cy="0.8" r="1.0" fill="rgb(98, 58, 142)"/>
<circle cx="17.0" cy="6.5" r="1.0" fill="rgb(107, 67, 148)"/>
<circle cx="14.8" cy="10.8" r="1.2" fill="rgb(100, 60, 143)"/>
<circle cx="12.9" cy="41.2" r="1.2" fill="rgb(100, 60, 144)"/>
<circle cx="45.3" cy="1.0" r="1.2" fill="rgb(95, 55, 140)"/>
<circle cx="31.5" cy="-1.3" r="1.4" fill="rgb(106, 66, 147)"/>
<circle cx="37.1" cy="39.2" r="1.4" fill="rgb(93, 53, 139)"/>
<circle cx="36.2" cy="51.9" r="1.1" fill="rgb(109, 69, 149)"/>
<circle cx="88.5" cy="1.1" r="1.1" fill="rgb(98, 58, 142)"/>
<circle cx="72.8" cy="57.7" r="1.3" fill="rgb(115, 75, 153)"/>
<circle cx="16.5" cy="27.9" r="1.4" fill="rgb(111, 71, 150)"/>
<circle cx="9.2" cy="72.6" r="1.3" fill="rgb(114, 74, 152)"/>
<circle cx="34.1" cy="44.1" r="1.4" fill="rgb(115, 75, 152)"/>
<circle cx="55.5" cy="65.7" r="1.4" fill="rgb(113, 73, 151)"/>
<circle cx="63.4" cy="71.1" r="1.0" fill="rgb(101, 61, 144)"/>
<circle cx="54.2" cy="8.0" r="1.3" fill="rgb(91, 51, 138)"/>
<circle cx="60.7" cy="19.3" r="1.1" fill="rgb(106, 66, 147)"/>
<circle cx="17.1" cy="32.1" r="1.4" fill="rgb(117, 77, 154)"/>
<circle cx="24.2" cy="25.8" r="1.3" fill="rgb(95, 55, 140)"/>
<circle cx="82.7" cy="13.1" r="1.2" fill="rgb(99, 59, 143)"/>
<circle cx="-1.9" cy="-1.9" r="0.9" fill="rgb(99, 59, 143)"/>
<circle cx="25.4" cy="73.4" r="1.3" fill="rgb(91, 51, 138)"/>
<circle cx="69.4" cy="15.7" r="1.2" fill="rgb(110, 70, 149)"/>
<circle cx="83.4" cy="69.2" r="1.1" fill="rgb(98, 58, 142)"/>
<circle cx="37.6" cy="21.8" r="1.3" fill="rgb(102, 62, 145)"/>
<circle cx="66.3" cy="9.6" r="1.3" fill="rgb(117, 77, 153)"/>
<circle cx="18.2" cy="44.9" r="1.0" fill="rgb(90, 50, 138)"/>
<circle cx="39.3" cy="11.9" r="1.3" fill="rgb(106, 66, 147)"/>
<circle cx="65.3" cy="71.7" r="0.9" fill="rgb(92, 52, 139)"/>
<circle cx="1.6" cy="33.0" r="1.4" fill="rgb(109, 69, 149)"/>
<circle cx="52.6" cy="63.2" r="1.1" fill="rgb(93, 53, 139)"/>
<circle cx="62.0" cy="-0.1" r="1.0" fill="rgb(90, 50, 138)"/>
<circle cx="14.1" cy="2.9" r="1.2" fill="rgb(93, 53, 139)"/>
<circle cx="58.2" cy="60.7" r="1.1" fill="rgb(93, 53, 139)"/>
<circle cx="64.9" cy="53.4" r="1.4" fill="rgb(105, 65, 146)"/>
<circle cx="56.0" cy="63.7" r="1.3" fill="rgb(117, 77, 153)"/>
<circle cx="26.6" cy="56.9" r="1.2" fill="rgb(103, 63, 145)"/>
<circle cx="-0.9" cy="34.3" r="1.0" fill="rgb(106, 66, 147)"/>
<circle cx="48.8" cy="36.8" r="0.9" fill="rgb(93, 53, 139)"/>
<circle cx="58.5" cy="49.9" r="1.4" fill="rgb(112, 72, 150)"/>
<circle cx="26.9" cy="32.7" r="1.2" fill="rgb(112, 72, 151)"/>
<circle cx="37.3" cy="68.1" r="1.2" fill="rgb(101, 61, 144)"/>
<circle cx="45.8" cy="25.2" r="1.4" fill="rgb(91, 51, 138)"/>
<circle cx="37.8" cy="4.0" r="1.3" fill="rgb(94, 54, 140)"/>
<circle cx="12.9" cy="30.2" r="1.2" fill="rgb(111, 71, 150)"/>
<circle cx="42.3" cy="20.5" r="1.1" fill="rgb(114, 74, 152)"/>
<circle cx="19.3" cy="-1.1" r="1.4" fill="rgb(103, 63, 145)"/>
<circle cx="11.2" cy="8.4" r="1.4" fill="rgb(110, 70, 150)"/>
<circle cx="4.4" cy="49.4" r="1.0" fill="rgb(102, 62, 145)"/>
<circle cx="58.3" cy="1.9" r="1.4" fill="rgb(99, 59, 143)"/>
<circle cx="12.3" cy="57.4" r="1.0" fill="rgb(91, 51, 138)"/>
<circle cx="63.0" cy="33.8" r="1.4" fill="rgb(112, 72, 150)"/>
<circle cx="18.6" cy="1.4" r="1.2" fill="rgb(103, 63, 145)"/>
<circle cx="28.0" cy="67.8" r="1.0" fill="rgb(108, 68, 148)"/>
<circle cx="5.3" cy="68.3" r="1.4" fill="rgb(107, 67, 147)"/>
<circle cx="29.9" cy="53.1" r="1.4" fill="rgb(112, 72, 150)"/>
<circle cx="2.1" cy="36.4" r="1.0" fill="rgb(105, 65, 146)"/>
<circle cx="92.7" cy="63.8" r="1.0" fill="rgb(105, 65, 146)"/>
<circle cx="29.6" cy="10.8" r="1.3" fill="rgb(111, 71, 150)"/>
<circle cx="31.6" cy="30.0" r="1.3" fill="rgb(110, 70, 149)"/>
<circle cx="44.2" cy="7.0" r="1.0" fill="rgb(94, 54, 140)"/>
<circle cx="80.4" cy="35.8" r="1.3" fill="rgb(100, 60, 143)"/>
<circle cx="34.8" cy="11.4" r="1.4" fill="rgb(106, 66, 147)"/>
<circle cx="10.8" cy="51.5" r="1.2" fill="rgb(107, 67, 147)"/>
<circle cx="74.8" cy="44.3" r="1.4" fill="rgb(117, 77, 153)"/>
<circle cx="38.6" cy="47.3" r="1.1" fill="rgb(101, 61, 144)"/>
<circle cx="34.5" cy="47.3" r="1.1" fill="rgb(99, 59, 143)"/>
<circle cx="82.4" cy="58.9" r="1.3" fill="rgb(113, 73, 151)"/>
<circle cx="36.5" cy="46.9" r="1.0" fill="rgb(98, 58, 142)"/>
<circle cx="8.0" cy="58.8" r="1.4" fill="rgb(98, 58, 142)"/>
<circle cx="35.7" cy="6.9" r="1.0" fill="rgb(107, 67, 148)"/>
<circle cx="86.9" cy="4.4" r="1.0" fill="rgb(111, 71, 150)"/>
<circle cx="20.5" cy="64.8" r="1.1" fill="rgb(103, 63, 145)"/>
<circle cx="18.1" cy="20.1" r="1.1" fill="rgb(97, 57, 142)"/>
<circle cx="70.7" cy="0.3" r="1.3" fill="rgb(112, 72, 151)"/>
<circle cx="30.5" cy="12.6" r="1.0" fill="rgb(92, 52, 138)"/>
<circle cx="77.0" cy="43.9" r="0.9" fill="rgb(102, 62, 145)"/>
<circle cx="57.7" cy="22.3" r="0.9" fill="rgb(101, 61, 144)"/>
<circle cx="33.3" cy="72.0" r="1.1" fill="rgb(115, 75, 153)"/>
<circle cx="84.5" cy="41.7" r="1.0" fill="rgb(112, 72, 151)"/>
<circle cx="7.0" cy="40.4" r="1.0" fill="rgb(92, 52, 139)"/>
<circle cx="38.9" cy="9.9" r="1.4" fill="rgb(106, 66, 147)"/>
<circle cx="87.4" cy="70.8" r="1.3" fill="rgb(108, 68, 148)"/>
<circle cx="45.2" cy="57.2" r="1.3" fill="rgb(94, 54, 140)"/>
<circle cx="50.8" cy="29.5" r="1.2" fill="rgb(109, 69, 149)"/>
<circle cx="66.7" cy="41.4" r="1.3" fill="rgb(113, 73, 151)"/>
<circle cx="7.2" cy="9.0" r="0.9" fill="rgb(94, 54, 140)"/>
<circle cx="93.6" cy="21.6" r="1.1" fill="rgb(103, 63, 145)"/>
<circle cx="54.3" cy="19.3" r="1.3" fill="rgb(99, 59, 143)"/>
<circle cx="82.3" cy="59.1" r="0.9" fill="rgb(105, 65, 146)"/>
<circle cx="7.3" cy="65.3" r="0.9" fill="rgb(97, 57, 142)"/>
<circle cx="74.6" cy="43.0" r="1.3" fill="rgb(101, 61, 144)"/>
<circle cx="49.9" cy="13.5" r="1.2" fill="rgb(97, 57, 141)"/>
<circle cx="65.3" cy="6.1" r="1.0" fill="rgb(95, 55, 140)"/>
<circle cx="51.1" cy="42.3" r="0.9" fill="rgb(117, 77, 154)"/>
<circle cx="81.3" cy="26.9" r="1.0" fill="rgb(113, 73, 151)"/>
<circle cx="95.4" cy="11.6" r="1.3" fill="rgb(112, 72, 151)"/>
<circle cx="91.4" cy="13.9" r="1.0" fill="rgb(94, 54, 140)"/>
<circle cx="21.1" cy="66.5" r="1.4" fill="rgb(103, 63, 145)"/>
<circle cx="10.7" cy="24.8" r="1.0" fill="rgb(108, 68, 148)"/>
<circle cx="69.8" cy="57.1" r="1.1" fill="rgb(102, 62, 145)"/>
<circle cx="44.6" cy="26.2" r="1.2" fill="rgb(109, 69, 149)"/>
<circle cx="68.9" cy="22.8" r="1.2" fill="rgb(94, 54, 140)"/>
<circle cx="2.5" cy="27.4" r="1.1" fill="rgb(90, 50, 138)"/>
<circle cx="5.9" cy="30.4" r="1.4" fill="rgb(113, 73, 151)"/>
<circle cx="1.0" cy="22.1" r="1.1" fill="rgb(98, 58, 142)"/>
<circle cx="11.7" cy="42.9" r="1.4" fill="rgb(100, 60, 144)"/>
<circle cx="15.6" cy="6.0" r="0.9" fill="rgb(111, 71, 150)"/>
<circle cx="21.0" cy="53.1" r="1.3" fill="rgb(92, 52, 139)"/>
<circle cx="16.8" cy="22.0" r="1.3" fill="rgb(110, 70, 149)"/>
<circle cx="28.2" cy="32.4" r="1.1" fill="rgb(103, 63, 145)"/>
<circle cx="77.1" cy="17.9" r="1.3" fill="rgb(115, 75, 153)"/>
<circle cx="57.9" cy="71.0" r="1.4" fill="rgb(94, 54, 140)"/>
<circle cx="96.8" cy="13.3" r="1.3" fill="rgb(93, 53, 139)"/>
<circle cx="28.2" cy="31.6" r="1.4" fill="rgb(109, 69, 149)"/>
<circle cx="18.3" cy="66.3" r="1.4" fill="rgb(104, 64, 146)"/>
<circle cx="3.0" cy="19.7" r="1.1" fill="rgb(101, 61, 144)"/>
<circle cx="92.0" cy="43.3" r="1.4" fill="rgb(91, 51, 138)"/>
<circle cx="22.5" cy="53.7" r="1.1" fill="rgb(96, 56, 141)"/>
<circle cx="4.3" cy="1.9" r="1.1" fill="rgb(105, 65, 146)"/>
<circle cx="37.9" cy="41.0" r="1.1" fill="rgb(90, 50, 137)"/>
<circle cx="65.2" cy="23.5" r="1.2" fill="rgb(100, 60, 143)"/>
<circle cx="24.9" cy="1.9" r="1.1" fill="rgb(98, 58, 142)"/>
<circle cx="9.5" cy="0.2" r="1.2" fill="rgb(90, 50, 137)"/>
<circle cx="85.6" cy="25.4" r="1.1" fill="rgb(104, 64, 146)"/>
<circle cx="0.4" cy="5.7" r="1.3" fill="rgb(105, 65, 146)"/>
<circle cx="47.2" cy="24.2" r="1.3" fill="rgb(104, 64, 146)"/>
<circle cx="77.0" cy="61.6" r="1.4" fill="rgb(110, 70, 149)"/>
<circle cx="65.2" cy="33.1" r="1.2" fill="rgb(106, 66, 147)"/>
<circle cx="50.4" cy="60.3" r="1.4" fill="rgb(91, 51, 138)"/>
<circle cx="73.0" cy="44.9" r="1.2" fill="rgb(115, 75, 152)"/>
<circle cx="2.9" cy="34.2" r="1.1" fill="rgb(116, 76, 153)"/>
<circle cx="14.4" cy="40.8" r="1.0" fill="rgb(111, 71, 150)"/>
<circle cx="46.8" cy="54.0" r="1.1" fill="rgb(114, 74, 152)"/>
<circle cx="-1.3" cy="15.1" r="1.3" fill="rgb(114, 74, 152)"/>
<circle cx="75.5" cy="18.9" r="0.9" fill="rgb(109, 69, 149)"/>
<circle cx="70.9" cy="2.6" r="1.4" fill="rgb(104, 64, 146)"/>
<circle cx="1.3" cy="34.5" r="1.1" fill="rgb(92, 52, 139)"/>
<circle cx="86.3" cy="69.1" r="1.0" fill="rgb(102, 62, 145)"/>
<circle cx="25.3" cy="49.2" r="1.0" fill="rgb(99, 59, 143)"/>
<circle cx="38.9" cy="34.0" r="1.1" fill="rgb(106, 66, 147)"/>
<circle cx="91.7" cy="68.9" r="1.4" fill="rgb(113, 73, 151)"/>
<circle cx="20.8" cy="16.6" r="1.2" fill="rgb(108, 68, 148)"/>
<circle cx="58.4" cy="24.6" r="1.4" fill="rgb(98, 58, 142)"/>
<circle cx="-0.1" cy="4.9" r="1.0" fill="rgb(110, 70, 149)"/>
<circle cx="81.8" cy="1.2" r="1.0" fill="rgb(96, 56, 141)"/>
<circle cx="76.4" cy="66.3" r="1.0" fill="rgb(92, 52, 139)"/>
<circle cx="94.4" cy="71.9" r="1.3" fill="rgb(103, 63, 145)"/>
<circle cx="72.5" cy="56.4" r="1.2" fill="rgb(97, 57, 142)"/>
<circle cx="50.4" cy="48.4" r="1.1" fill="rgb(107, 67, 148)"/>
<circle cx="12.6" cy="71.9" r="1.0" fill="rgb(96, 56, 141)"/>
<circle cx="93.7" cy="70.3" r="1.4" fill="rgb(113, 73, 151)"/>
<circle cx="82.6" cy="60.5" r="1.2" fill="rgb(92, 52, 138)"/>
<circle cx="71.0" cy="61.6" r="1.4" fill="rgb(91, 51, 138)"/>
<circle cx="4.1" cy="53.6" r="1.2" fill="rgb(115, 75, 152)"/>
<circle cx="96.8" cy="32.0" r="1.3" fill="rgb(108, 68, 148)"/>
<circle cx="67.2" cy="26.0" r="1.3" fill="rgb(91, 51, 138)"/>
<circle cx="87.7" cy="53.1" r="1.3" fill="rgb(102, 62, 145)"/>
<circle cx="18.5" cy="32.3" r="1.3" fill="rgb(105, 65, 146)"/>
<circle cx="8.8" cy="-1.7" r="1.1" fill="rgb(96, 56, 141)"/>
<circle cx="20.6" cy="14.9" r="1.1" fill="rgb(109, 69, 149)"/>
<circle cx="89.0" cy="49.5" r="0.9" fill="rgb(114, 74, 152)"/>
<circle cx="58.7" cy="53.7" r="1.2" fill="rgb(99, 59, 143)"/>
<circle cx="31.8" cy="3.4" r="1.3" fill="rgb(91, 51, 138)"/>
<circle cx="65.9" cy="67.3" r="1.3" fill="rgb(106, 66, 147)"/>
<circle cx="78.6" cy="71.0" r="1.3" fill="rgb(117, 77, 154)"/>
<circle cx="43.8" cy="-0.9" r="1.2" fill="rgb(107, 67, 148)"/>
<circle cx="84.0" cy="44.6" r="1.1" fill="rgb(90, 50, 137)"/>
<circle cx="80.8" cy="45.5" r="1.4" fill="rgb(106, 66, 147)"/>
<circle cx="83.0" cy="56.8" r="1.4" fill="rgb(102, 62, 145)"/>
<circle cx="87.5" cy="28.2" r="0.9" fill="rgb(99, 59, 143)"/>
<circle cx="33.0" cy="73.5" r="1.1" fill="rgb(97, 57, 142)"/>
<circle cx="66.9" cy="5.4" r="1.1" fill="rgb(101, 61, 144)"/>
<circle cx="10.4" cy="43.5" r="1.1" fill="rgb(112, 72, 151)"/>
<circle cx="31.8" cy="72.4" r="1.0" fill="rgb(104, 64, 146)"/>
<circle cx="20.6" cy="-0.9" r="1.1" fill="rgb(115, 75, 152)"/>
<circle cx="27.1" cy="35.2" r="1.2" fill="rgb(97, 57, 142)"/>
<circle cx="51.3" cy="3.0" r="1.1" fill="rgb(97, 57, 142)"/>
<circle cx="79.3" cy="56.6" r="1.3" fill="rgb(106, 66, 147)"/>
<circle cx="84.4" cy="54.4" r="0.9" fill="rgb(93, 53, 139)"/>
<circle cx="72.6" cy="61.9" r="1.4" fill="rgb(111, 71, 150)"/>
<circle cx="13.7" cy="41.2" r="1.2" fill="rgb(106, 66, 147)"/>
<circle cx="11.4" cy="71.7" r="1.2" fill="rgb(97, 57, 142)"/>
<circle cx="95.8" cy="27.3" r="0.9" fill="rgb(108, 68, 148)"/>
<circle cx="23.9" cy="14.6" r="1.1" fill="rgb(106, 66, 147)"/>
<circle cx="29.9" cy="48.6" r="1.4" fill="rgb(117, 77, 154)"/>
<circle cx="86.6" cy="68.1" r="1.0" fill="rgb(113, 73, 151)"/>
<circle cx="6.9" cy="42.3" r="0.9" fill="rgb(92, 52, 139)"/>
<circle cx="92.6" cy="7.7" r="1.3" fill="rgb(104, 64, 146)"/>
<circle cx="-1.9" cy="58.4" r="0.9" fill="rgb(114, 74, 152)"/>
<circle cx="79.6" cy="35.8" r="1.1" fill="rgb(90, 50, 138)"/>
<circle cx="67.8" cy="1.0" r="1.2" fill="rgb(115, 75, 153)"/>
<circle cx="65.6" cy="6.9" r="1.3" fill="rgb(109, 69, 149)"/>
<circle cx="30.8" cy="56.7" r="1.2" fill="rgb(101, 61, 144)"/>
<circle cx="50.4" cy="19.0" r="1.1" fill="rgb(114, 74, 152)"/>
<circle cx="32.8" cy="56.7" r="1.1" fill="rgb(95, 55, 140)"/>
<circle cx="-1.9" cy="71.3" r="1.3" fill="rgb(117, 77, 154)"/>
<circle cx="56.7" cy="2.7" r="1.0" fill="rgb(91, 51, 138)"/>
<circle cx="59.0" cy="45.3" r="1.4" fill="rgb(98, 58, 142)"/>
<circle cx="21.3" cy="14.8" r="1.0" fill="rgb(90, 50, 138)"/>
<circle cx="47.2" cy="30.0" r="1.1" fill="rgb(116, 76, 153)"/>
<circle cx="29.3" cy="60.9" r="1.2" fill="rgb(92, 52, 139)"/>
<circle cx="1.0" cy="44.4" r="1.4" fill="rgb(91, 51, 138)"/>
<circle cx="68.0" cy="15.7" r="1.3" fill="rgb(113, 73, 151)"/>
<circle cx="70.5" cy="16.6" r="1.0" fill="rgb(117, 77, 153)"/>
<circle cx="89.3" cy="68.3" r="1.2" fill="rgb(91, 51, 138)"/>
<circle cx="34.8" cy="67.3" r="0.9" fill="rgb(98, 58, 142)"/>
<circle cx="2.2" cy="65.0" r="1.1" fill="rgb(92, 52, 138)"/>
<circle cx="33.5" cy="13.5" r="1.1" fill="rgb(107, 67, 147)"/>
<circle cx="63.6" cy="5.3" r="1.2" fill="rgb(91, 51, 138)"/>
<circle cx="42.0" cy="59.5" r="1.0" fill="rgb(113, 73, 151)"/>
<circle cx="22.3" cy="27.9" r="1.3" fill="rgb(90, 50, 137)"/>
<circle cx="53.2" cy="38.8" r="1.3" fill="rgb(116, 76, 153)"/>
<circle cx="67.2" cy="15.0" r="1.0" fill="rgb(103, 63, 145)"/>
<circle cx="26.1" cy="40.1" r="0.9" fill="rgb(109, 69, 149)"/>
<circle cx="39.5" cy="1.8" r="1.0" fill="rgb(116, 76, 153)"/>
<circle cx="82.7" cy="65.1" r="1.1" fill="rgb(117, 77, 154)"/>
<circle cx="15.0" cy="53.3" r="1.4" fill="rgb(95, 55, 141)"/>
<circle cx="-1.6" cy="7.6" r="0.9" fill="rgb(112, 72, 151)"/>
<circle cx="58.4" cy="34.3" r="1.0" fill="rgb(107, 67, 148)"/>
<circle cx="11.6" cy="8.2" r="1.2" fill="rgb(108, 68, 148)"/>
<circle cx="77.8" cy="60.9" r="1.0" fill="rgb(98, 58, 142)"/>
<circle cx="12.3" cy="35.4" r="0.9" fill="rgb(114, 74, 152)"/>
<circle cx="66.0" cy="59.5" r="1.2" fill="rgb(115, 75, 152)"/>
<circle cx="81.2" cy="61.1" r="1.3" fill="rgb(96, 56, 141)"/>
<circle cx="32.4" cy="2.3" r="1.3" fill="rgb(103, 63, 145)"/>
<circle cx="96.3" cy="20.0" r="1.1" fill="rgb(114, 74, 152)"/>
<circle cx="94.6" cy="55.6" r="1.4" fill="rgb(115, 75, 153)"/>
<circle cx="25.1" cy="44.9" r="0.9" fill="rgb(108, 68, 148)"/>
<circle cx="93.0" cy="36.5" r="1.0" fill="rgb(105, 65, 147)"/>
<circle cx="4.5" cy="33.1" r="0.9" fill="rgb(101, 61, 144)"/>
<circle cx="79.5" cy="54.3" r="1.4" fill="rgb(102, 62, 145)"/>
<circle cx="42.0" cy="2.2" r="1.3" fill="rgb(105, 65, 147)"/>
<circle cx="38.7" cy="9.0" r="1.2" fill="rgb(91, 51, 138)"/>
<circle cx="10.0" cy="4.0" r="1.1" fill="rgb(93, 53, 139)"/>
<circle cx="80.5" cy="44.4" r="1.4" fill="rgb(105, 65, 146)"/>
<circle cx="13.9" cy="19.0" r="1.4" fill="rgb(106, 66, 147)"/>
<circle cx="62.4" cy="46.1" r="0.9" fill="rgb(95, 55, 140)"/>
<circle cx="41.0" cy="62.2" r="1.4" fill="rgb(106, 66, 147)"/>
<circle cx="23.9" cy="1.5" r="1.2" fill="rgb(101, 61, 144)"/>
<circle cx="90.8" cy="13.7" r="1.0" fill="rgb(90, 50, 137)"/>
<circle cx="0.9" cy="59.4" r="1.4" fill="rgb(94, 54, 140)"/>
<circle cx="-0.5" cy="41.9" r="1.0" fill="rgb(107, 67, 147)"/>
<circle cx="88.9" cy="54.9" r="1.1" fill="rgb(106, 66, 147)"/>
<circle cx="26.9" cy="55.8" r="1.0" fill="rgb(114, 74, 152)"/>
<circle cx="65.6" cy="65.9" r="1.1" fill="rgb(116, 76, 153)"/>
<circle cx="56.0" cy="17.6" r="1.3" fill="rgb(98, 58, 142)"/>
<circle cx="9.3" cy="1.0" r="1.2" fill="rgb(96, 56, 141)"/>
<circle cx="8.0" cy="57.1" r="1.0" fill="rgb(111, 71, 150)"/>
<circle cx="25.2" cy="25.7" r="1.4" fill="rgb(113, 73, 151)"/>
<circle cx="81.2" cy="72.6" r="1.2" fill="rgb(116, 76, 153)"/>
<circle cx="60.1" cy="42.3" r="1.1" fill="rgb(100, 60, 143)"/>
<circle cx="54.8" cy="16.8" r="1.3" fill="rgb(114, 74, 152)"/>
<circle cx="69.8" cy="15.1" r="0.9" fill="rgb(100, 60, 143)"/>
<circle cx="41.3" cy="62.4" r="1.2" fill="rgb(104, 64, 146)"/>
<circle cx="58.4" cy="40.1" r="1.3" fill="rgb(105, 65, 146)"/>
<circle cx="53.1" cy="16.0" r="1.0" fill="rgb(102, 62, 144)"/>
<circle cx="86.4" cy="70.0" r="1.1" fill="rgb(106, 66, 147)"/>
<circle cx="49.7" cy="32.6" r="1.0" fill="rgb(112, 72, 150)"/>
<circle cx="6.5" cy="15.3" r="1.1" fill="rgb(95, 55, 141)"/>
<circle cx="17.3" cy="4.1" r="1.2" fill="rgb(94, 54, 140)"/>
<circle cx="62.1" cy="43.7" r="1.2" fill="rgb(103, 63, 145)"/>
<circle cx="59.1" cy="20.5" r="1.2" fill="rgb(109, 69, 149)"/>
<circle cx="19.5" cy="53.8" r="1.2" fill="rgb(117, 77, 153)"/>
<circle cx="59.4" cy="39.8" r="1.3" fill="rgb(98, 58, 142)"/>
<circle cx="35.1" cy="30.9" r="1.3" fill="rgb(110, 70, 149)"/>
<circle cx="16.5" cy="70.6" r="1.4" fill="rgb(103, 63, 145)"/>
<circle cx="97.3" cy="45.3" r="1.1" fill="rgb(92, 52, 139)"/>
<circle cx="-0.3" cy="43.0" r="1.3" fill="rgb(107, 67, 147)"/>
<circle cx="76.0" cy="31.2" r="1.3" fill="rgb(106, 66, 147)"/>
<circle cx="61.2" cy="39.7" r="1.3" fill="rgb(105, 65, 147)"/>
<circle cx="7.0" cy="49.4" r="1.3" fill="rgb(101, 61, 144)"/>
<circle cx="94.7" cy="34.6" r="1.0" fill="rgb(104, 64, 146)"/>
<circle cx="33.7" cy="10.6" r="1.4" fill="rgb(94, 54, 140)"/>
<circle cx="69.0" cy="10.9" r="1.2" fill="rgb(117, 77, 154)"/>
<circle cx="6.8" cy="63.4" r="0.9" fill="rgb(117, 77, 154)"/>
<circle cx="88.6" cy="32.1" r="1.3" fill="rgb(102, 62, 145)"/>
<circle cx="14.3" cy="25.1" r="1.1" fill="rgb(114, 74, 152)"/>
<circle cx="9.4" cy="39.0" r="1.2" fill="rgb(105, 65, 146)"/>
<circle cx="77.0" cy="43.6" r="1.1" fill="rgb(116, 76, 153)"/>
<circle cx="57.7" cy="18.6" r="1.2" fill="rgb(114, 74, 152)"/>
<circle cx="2.6" cy="47.3" r="1.2" fill="rgb(98, 58, 142)"/>
<circle cx="13.9" cy="15.6" r="1.1" fill="rgb(101, 61, 144)"/>
<circle cx="58.0" cy="18.6" r="1.2" fill="rgb(103, 63, 145)"/>
<circle cx="77.3" cy="59.2" r="1.0" fill="rgb(117, 77, 154)"/>
<circle cx="52.5" cy="23.5" r="1.0" fill="rgb(109, 69, 149)"/>
<circle cx="41.5" cy="50.0" r="1.0" fill="rgb(114, 74, 152)"/>
<circle cx="24.4" cy="64.2" r="1.1" fill="rgb(101, 61, 144)"/>
<circle cx="55.6" cy="37.8" r="1.2" fill="rgb(105, 65, 147)"/>
<circle cx="92.7" cy="54.5" r="1.0" fill="rgb(117, 77, 154)"/>
<circle cx="-0.5" cy="2.0" r="1.4" fill="rgb(97, 57, 142)"/>
<circle cx="0.9" cy="11.4" r="1.2" fill="rgb(113, 73, 151)"/>
<circle cx="-0.0" cy="10.6" r="0.9" fill="rgb(91, 51, 138)"/>
<circle cx="29.4" cy="35.4" r="1.4" fill="rgb(108, 68, 148)"/>
<circle cx="83.2" cy="43.0" r="1.4" fill="rgb(108, 68, 148)"/>
<circle cx="21.9" cy="26.3" r="1.2" fill="rgb(93, 53, 139)"/>
<circle cx="90.1" cy="34.7" r="1.0" fill="rgb(103, 63, 145)"/>
<circle cx="78.3" cy="18.8" r="1.2" fill="rgb(92, 52, 139)"/>
<circle cx="22.1" cy="12.3" r="1.2" fill="rgb(109, 69, 149)"/>
<circle cx="20.7" cy="50.4" r="1.2" fill="rgb(111, 71, 150)"/>
<circle cx="97.3" cy="23.4" r="1.4" fill="rgb(102, 62, 145)"/>
<circle cx="48.8" cy="11.5" r="0.9" fill="rgb(108, 68, 148)"/>
<circle cx="8.3" cy="0.6" r="0.9" fill="rgb(105, 65, 146)"/>
<circle cx="17.5" cy="18.0" r="1.3" fill="rgb(102, 62, 145)"/>
<circle cx="12.7" cy="49.7" r="1.4" fill="rgb(107, 67, 148)"/>
<circle cx="42.4" cy="39.0" r="1.3" fill="rgb(113, 73, 151)"/>
<circle cx="76.3" cy="16.9" r="1.3" fill="rgb(92, 52, 139)"/>
<circle cx="10.8" cy="36.6" r="1.0" fill="rgb(105, 65, 147)"/>
<circle cx="26.3" cy="69.8" r="1.1" fill="rgb(112, 72, 151)"/>
<circle cx="92.2" cy="32.4" r="1.3" fill="rgb(103, 63, 145)"/>
<circle cx="37.8" cy="7.5" r="1.3" fill="rgb(115, 75, 153)"/>
<circle cx="66.6" cy="22.1" r="1.2" fill="rgb(99, 59, 143)"/>
<circle cx="37.0" cy="56.8" r="0.9" fill="rgb(103, 63, 145)"/>
<circle cx="49.0" cy="9.2" r="1.3" fill="rgb(97, 57, 141)"/>
<circle cx="38.2" cy="16.9" r="1.2" fill="rgb(102, 62, 144)"/>
<circle cx="66.2" cy="30.4" r="1.3" fill="rgb(105, 65, 146)"/>
<circle cx="8.5" cy="35.4" r="1.0" fill="rgb(98, 58, 142)"/>
<circle cx="92.5" cy="34.5" r="1.3" fill="rgb(94, 54, 140)"/>
<circle cx="60.8" cy="7.0" r="1.0" fill="rgb(93, 53, 139)"/>
<circle cx="0.5" cy="67.1" r="1.4" fill="rgb(100, 60, 143)"/>
<circle cx="-0.7" cy="53.9" r="1.3" fill="rgb(91, 51, 138)"/>
<circle cx="74.4" cy="3.1" r="1.0" fill="rgb(111, 71, 150)"/>
<circle cx="74.5" cy="15.8" r="1.2" fill="rgb(112, 72, 151)"/>
<circle cx="58.2" cy="38.0" r="1.0" fill="rgb(91, 51, 138)"/>
<circle cx="16.7" cy="37.9" r="1.2" fill="rgb(102, 62, 145)"/>
<circle cx="61.4" cy="40.9" r="1.3" fill="rgb(101, 61, 144)"/>
<circle cx="82.0" cy="38.4" r="1.4" fill="rgb(117, 77, 154)"/>
<circle cx="80.5" cy="56.8" r="1.3" fill="rgb(105, 65, 146)"/>
<circle cx="22.7" cy="5.8" r="1.3" fill="rgb(96, 56, 141)"/>
<circle cx="59.1" cy="39.8" r="1.2" fill="rgb(102, 62, 144)"/>
<circle cx="21.9" cy="21.1" r="1.3" fill="rgb(114, 74, 152)"/>
<circle cx="29.8" cy="21.9" r="1.1" fill="rgb(102, 62, 144)"/>
<circle cx="61.0" cy="55.5" r="1.3" fill="rgb(112, 72, 151)"/>
<circle cx="70.3" cy="72.0" r="1.1" fill="rgb(102, 62, 145)"/>
<circle cx="62.9" cy="21.9" r="1.4" fill="rgb(101, 61, 144)"/>
<circle cx="53.5" cy="37.6" r="1.1" fill="rgb(90, 50, 137)"/>
<circle cx="25.7" cy="34.2" r="1.4" fill="rgb(93, 53, 139)"/>
<circle cx="88.0" cy="72.0" r="1.3" fill="rgb(97, 57, 142)"/>
<circle cx="-0.1" cy="65.0" r="0.9" fill="rgb(98, 58, 142)"/>
<circle cx="91.6" cy="49.3" r="1.4" fill="rgb(113, 73, 151)"/>
<circle cx="15.8" cy="36.4" r="1.0" fill="rgb(100, 60, 143)"/>
<circle cx="47.4" cy="60.2" r="1.1" fill="rgb(108, 68, 148)"/>
<circle cx="12.1" cy="17.5" r="0.9" fill="rgb(106, 66, 147)"/>
<circle cx="56.4" cy="52.3" r="1.1" fill="rgb(116, 76, 153)"/>
<circle cx="70.0" cy="41.3" r="1.4" fill="rgb(95, 55, 140)"/>
<circle cx="27.1" cy="40.0" r="1.2" fill="rgb(116, 76, 153)"/>
<circle cx="65.7" cy="1.5" r="1.4" fill="rgb(103, 63, 145)"/>
<circle cx="18.5" cy="56.0" r="1.2" fill="rgb(113, 73, 151)"/>
<circle cx="53.0" cy="17.4" r="1.2" fill="rgb(103, 63, 145)"/>
<circle cx="33.1" cy="42.2" r="1.0" fill="rgb(97, 57, 141)"/>
<circle cx="9.8" cy="0.1" r="1.2" fill="rgb(110, 70, 149)"/>
<circle cx="38.1" cy="66.7" r="1.2" fill="rgb(108, 68, 148)"/>
<circle cx="26.5" cy="66.4" r="1.1" fill="rgb(113, 73, 151)"/>
<circle cx="22.3" cy="70.4" r="1.3" fill="rgb(94, 54, 140)"/>
<circle cx="70.9" cy="9.8" r="1.1" fill="rgb(100, 60, 143)"/>
<circle cx="31.4" cy="25.5" r="1.0" fill="rgb(101, 61, 144)"/>
<circle cx="7.3" cy="58.6" r="1.1" fill="rgb(109, 69, 149)"/>
<circle cx="40.7" cy="72.2" r="1.4" fill="rgb(109, 69, 149)"/>
<circle cx="81.8" cy="67.5" r="1.4" fill="rgb(101, 61, 144)"/>
<circle cx="57.1" cy="3.3" r="1.1" fill="rgb(99, 59, 143)"/>
<circle cx="60.0" cy="-1.4" r="1.3" fill="rgb(92, 52, 138)"/>
<circle cx="40.2" cy="34.9" r="1.4" fill="rgb(107, 67, 148)"/>
<circle cx="12.7" cy="48.7" r="1.0" fill="rgb(107, 67, 147)"/>
<circle cx="39.2" cy="70.7" r="1.1" fill="rgb(97, 57, 142)"/>
<circle cx="28.9" cy="70.9" r="1.1" fill="rgb(96, 56, 141)"/>
<circle cx="51.3" cy="49.0" r="1.4" fill="rgb(92, 52, 138)"/>
<circle cx="30.8" cy="53.0" r="1.2" fill="rgb(109, 69, 149)"/>
<circle cx="65.2" cy="5.0" r="0.9" fill="rgb(94, 54, 140)"/>
<circle cx="28.3" cy="11.9" r="1.1" fill="rgb(93, 53, 139)"/>
<circle cx="0.6" cy="37.9" r="1.3" fill="rgb(94, 54, 140)"/>
<circle cx="7.4" cy="53.4" r="0.9" fill="rgb(93, 53, 139)"/>
<circle cx="46.9" cy="20.6" r="1.3" fill="rgb(104, 64, 146)"/>
<circle cx="50.2" cy="26.5" r="0.9" fill="rgb(112, 72, 151)"/>
<circle cx="36.8" cy="60.9" r="1.0" fill="rgb(102, 62, 144)"/>
<circle cx="51.8" cy="9.8" r="0.9" fill="rgb(116, 76, 153)"/>
<circle cx="91.6" cy="74.1" r="1.2" fill="rgb(110, 70, 149)"/>
<circle cx="58.0" cy="34.3" r="1.0" fill="rgb(107, 67, 148)"/>
<circle cx="42.2" cy="49.6" r="0.9" fill="rgb(98, 58, 142)"/>
<circle cx="9.2" cy="56.1" r="1.2" fill="rgb(98, 58, 142)"/>
<circle cx="75.9" cy="37.6" r="1.1" fill="rgb(100, 60, 144)"/>
<circle cx="-1.8" cy="2.6" r="0.9" fill="rgb(116, 76, 153)"/>
<circle cx="85.6" cy="39.4" r="1.4" fill="rgb(105, 65, 146)"/>
<circle cx="66.0" cy="6.0" r="1.1" fill="rgb(107, 67, 147)"/>
<circle cx="38.8" cy="47.7" r="1.1" fill="rgb(108, 68, 148)"/>
<circle cx="18.7" cy="35.3" r="1.1" fill="rgb(104, 64, 146)"/>
<circle cx="3.5" cy="16.4" r="1.3" fill="rgb(94, 54, 140)"/>
<circle cx="45.5" cy="73.7" r="1.2" fill="rgb(110, 70, 149)"/>
<circle cx="74.9" cy="71.7" r="1.1" fill="rgb(101, 61, 144)"/>
<circle cx="73.3" cy="-0.1" r="1.2" fill="rgb(97, 57, 142)"/>
<circle cx="53.5" cy="53.8" r="1.4" fill="rgb(104, 64, 146)"/>
<circle cx="67.0" cy="4.0" r="1.3" fill="rgb(116, 76, 153)"/>
<circle cx="59.4" cy="35.3" r="1.2" fill="rgb(101, 61, 144)"/>
<circle cx="15.8" cy="13.0" r="1.3" fill="rgb(104, 64, 146)"/>
<circle cx="1.8" cy="44.8" r="1.4" fill="rgb(108, 68, 148)"/>
<circle cx="16.0" cy="70.4" r="1.0" fill="rgb(104, 64, 146)"/>
<circle cx="43.9" cy="10.6" r="1.0" fill="rgb(95, 55, 140)"/>
<circle cx="14.7" cy="1.1" r="1.3" fill="rgb(108, 68, 148)"/>
<circle cx="23.1" cy="70.4" r="1.1" fill="rgb(102, 62, 145)"/>
<circle cx="90.5" cy="47.4" r="1.2" fill="rgb(110, 70, 150)"/>
<circle cx="71.8" cy="21.5" r="0.9" fill="rgb(110, 70, 149)"/>
<circle cx="72.6" cy="43.7" r="1.0" fill="rgb(110, 70, 150)"/>
<circle cx="15.5" cy="58.7" r="1.2" fill="rgb(107, 67, 148)"/>
<circle cx="5.5" cy="25.8" r="1.3" fill="rgb(93, 53, 139)"/>
<circle cx="1.8" cy="29.5" r="1.4" fill="rgb(107, 67, 148)"/>
<circle cx="20.9" cy="4.2" r="1.4" fill="rgb(113, 73, 151)"/>
<circle cx="67.9" cy="13.7" r="1.3" fill="rgb(90, 50, 137)"/>
<circle cx="15.2" cy="22.4" r="1.4" fill="rgb(90, 50, 138)"/>
<circle cx="14.0" cy="53.9" r="1.3" fill="rgb(97, 57, 142)"/>
<circle cx="5.6" cy="63.0" r="1.4" fill="rgb(115, 75, 152)"/>
<circle cx="54.4" cy="4.5" r="1.3" fill="rgb(108, 68, 148)"/>
<circle cx="80.9" cy="55.8" r="1.2" fill="rgb(117, 77, 154)"/>
<circle cx="44.0" cy="31.9" r="1.3" fill="rgb(112, 72, 150)"/>
<circle cx="56.6" cy="69.6" r="1.0" fill="rgb(115, 75, 152)"/>
<circle cx="85.6" cy="24.3" r="0.9" fill="rgb(106, 66, 147)"/>
<circle cx="59.8" cy="71.0" r="1.2" fill="rgb(110, 70, 149)"/>
<circle cx="73.7" cy="10.8" r="1.3" fill="rgb(102, 62, 144)"/>
<circle cx="19.6" cy="18.9" r="1.1" fill="rgb(110, 70, 149)"/>
<circle cx="53.0" cy="22.4" r="0.9" fill="rgb(112, 72, 150)"/>
<circle cx="73.2" cy="61.6" r="1.3" fill="rgb(91, 51, 138)"/>
<circle cx="26.0" cy="33.2" r="1.1" fill="rgb(113, 73, 151)"/>
<circle cx="18.4" cy="-0.9" r="1.1" fill="rgb(91, 51, 138)"/>
<circle cx="0.8" cy="44.1" r="1.2" fill="rgb(105, 65, 146)"/>
<circle cx="5.0" cy="40.7" r="1.2" fill="rgb(98, 58, 142)"/>
<circle cx="20.2" cy="9.9" r="1.2" fill="rgb(100, 60, 143)"/>
<ellipse cx="4.8" cy="5.5" rx="4.6" ry="5.4" fill="#b99ccc" filter="url(#bl2)"/>
<ellipse cx="18.5" cy="5" rx="3.4" ry="5.5" fill="#d8cce8" filter="url(#bl2)"/>
<ellipse cx="31.5" cy="4" rx="6.0" ry="4.2" fill="#c3abd7" filter="url(#bl2)"/>
<ellipse cx="84" cy="9" rx="4.5" ry="4.5" fill="#b9a3d5" filter="url(#bl2)"/>
<ellipse cx="60" cy="6" rx="4" ry="3" fill="#c0a8d6" filter="url(#bl2)"/>
<ellipse cx="59.7" cy="52" rx="4.4" ry="6.8" fill="#d7849f" transform="rotate(-18 59.7 52)" filter="url(#bl2)"/>
<ellipse cx="44.4" cy="61.2" rx="7.2" ry="8.2" fill="#bba9d9"/>
<ellipse cx="44.0" cy="61.5" rx="4.4" ry="4.8" fill="#a48fcb"/>
<path d="M19.0,50.6 C25,49.8 31,49.3 37,49.2 C43,49.2 48,49.4 51.5,52 C55,55 56.8,61 58.6,70.2 L56.8,70.5 C55.2,62 53.4,57 50.6,54.2 C47.5,51.8 43,52.2 37,52.8 C31,54.2 25,56.6 19.8,58.3 Z" fill="#ebe3f3"/>
<path d="M30,58 C34,62 38,67 42.5,71.5 L41.6,72.2 C37,67.5 33,63 29.2,58.8 Z" fill="#ddd0ea"/>
<path d="M41,0 L42,0 L41.6,4 L40.8,4 Z" fill="#efe8f5"/>
</g></svg>
<line x1="363.3" y1="99.4" x2="375.8" y2="99.4" stroke="#000" stroke-width="1.6"/>
<line x1="462.2" y1="98.6" x2="473.3" y2="98.6" stroke="#000" stroke-width="1.6"/>
<line x1="41.30" y1="163.30" x2="41.30" y2="244.95" stroke="#000" stroke-width="1.4" />
<line x1="37.70" y1="244.30" x2="41.30" y2="244.30" stroke="#000" stroke-width="1.2" />
<text x="30.74" y="246.80" font-size="8" font-weight="normal" text-anchor="start" stroke="#000" stroke-width="0.16">0</text>
<line x1="37.70" y1="228.60" x2="41.30" y2="228.60" stroke="#000" stroke-width="1.2" />
<text x="26.34" y="231.10" font-size="8" font-weight="normal" text-anchor="start" stroke="#000" stroke-width="0.16">20</text>
<line x1="37.70" y1="212.90" x2="41.30" y2="212.90" stroke="#000" stroke-width="1.2" />
<text x="26.34" y="215.40" font-size="8" font-weight="normal" text-anchor="start" stroke="#000" stroke-width="0.16">40</text>
<line x1="37.70" y1="197.20" x2="41.30" y2="197.20" stroke="#000" stroke-width="1.2" />
<text x="26.34" y="199.70" font-size="8" font-weight="normal" text-anchor="start" stroke="#000" stroke-width="0.16">60</text>
<line x1="37.70" y1="181.50" x2="41.30" y2="181.50" stroke="#000" stroke-width="1.2" />
<text x="26.34" y="184.00" font-size="8" font-weight="normal" text-anchor="start" stroke="#000" stroke-width="0.16">80</text>
<line x1="37.70" y1="165.80" x2="41.30" y2="165.80" stroke="#000" stroke-width="1.2" />
<text x="21.86" y="168.30" font-size="8" font-weight="normal" text-anchor="start" stroke="#000" stroke-width="0.16">100</text>
<line x1="40.60" y1="244.30" x2="126.60" y2="244.30" stroke="#000" stroke-width="1.4" />
<line x1="62.60" y1="244.30" x2="62.60" y2="247.30" stroke="#000" stroke-width="1.2" />
<line x1="105.40" y1="244.30" x2="105.40" y2="247.30" stroke="#000" stroke-width="1.2" />
<text x="49.40" y="257.00" font-size="8" font-weight="normal" text-anchor="start" textLength="26.76" lengthAdjust="spacingAndGlyphs" stroke="#000" stroke-width="0.16">Isotype</text>
<text x="88.62" y="257.00" font-size="8" font-weight="normal" text-anchor="start" textLength="33.22" lengthAdjust="spacingAndGlyphs" stroke="#000" stroke-width="0.16">mAb81.2</text>
<text x="0.00" y="0.00" font-size="9.6" font-weight="normal" text-anchor="start" textLength="89.70" lengthAdjust="spacingAndGlyphs" transform="translate(17.60,249.15) rotate(-90)" stroke="#000" stroke-width="0.08">% leukemic cells in BM</text>
<line x1="64.80" y1="171.90" x2="104.70" y2="171.90" stroke="#000" stroke-width="1.3" />
<line x1="64.80" y1="170.00" x2="64.80" y2="173.80" stroke="#000" stroke-width="1.3" />
<line x1="104.70" y1="170.00" x2="104.70" y2="173.80" stroke="#000" stroke-width="1.3" />
<text x="70.17" y="168.00" font-size="8" font-weight="normal" text-anchor="start" stroke="#000" stroke-width="0.16">p=0.020</text>
<circle cx="60.60" cy="186.70" r="1.85" fill="none" stroke="#000" stroke-width="1.25"/>
<circle cx="58.10" cy="190.80" r="1.85" fill="none" stroke="#000" stroke-width="1.25"/>
<circle cx="65.00" cy="189.20" r="1.85" fill="none" stroke="#000" stroke-width="1.25"/>
<circle cx="67.50" cy="192.30" r="1.85" fill="none" stroke="#000" stroke-width="1.25"/>
<circle cx="62.30" cy="195.40" r="1.85" fill="none" stroke="#000" stroke-width="1.25"/>
<circle cx="60.80" cy="198.50" r="1.85" fill="none" stroke="#000" stroke-width="1.25"/>
<circle cx="65.40" cy="203.30" r="1.85" fill="none" stroke="#000" stroke-width="1.25"/>
<circle cx="62.90" cy="208.50" r="1.85" fill="none" stroke="#000" stroke-width="1.25"/>
<circle cx="62.30" cy="215.80" r="1.85" fill="none" stroke="#000" stroke-width="1.25"/>
<circle cx="62.70" cy="221.50" r="1.85" fill="none" stroke="#000" stroke-width="1.25"/>
<line x1="48.30" y1="200.20" x2="76.90" y2="200.20" stroke="#000" stroke-width="1.4" />
<line x1="55.80" y1="196.70" x2="69.40" y2="196.70" stroke="#000" stroke-width="1.4" />
<line x1="55.80" y1="204.20" x2="69.40" y2="204.20" stroke="#000" stroke-width="1.4" />
<line x1="62.60" y1="196.70" x2="62.60" y2="204.20" stroke="#000" stroke-width="1.4" />
<circle cx="105.50" cy="182.10" r="2.0" fill="#9c1033" stroke="#7a0a26" stroke-width="0.6"/>
<circle cx="107.75" cy="197.75" r="2.0" fill="#9c1033" stroke="#7a0a26" stroke-width="0.6"/>
<circle cx="103.00" cy="201.00" r="2.0" fill="#9c1033" stroke="#7a0a26" stroke-width="0.6"/>
<circle cx="105.50" cy="206.50" r="2.0" fill="#9c1033" stroke="#7a0a26" stroke-width="0.6"/>
<circle cx="105.25" cy="218.10" r="2.0" fill="#9c1033" stroke="#7a0a26" stroke-width="0.6"/>
<circle cx="105.50" cy="232.50" r="2.0" fill="#9c1033" stroke="#7a0a26" stroke-width="0.6"/>
<circle cx="97.75" cy="243.60" r="2.0" fill="#9c1033" stroke="#7a0a26" stroke-width="0.6"/>
<circle cx="102.50" cy="243.60" r="2.0" fill="#9c1033" stroke="#7a0a26" stroke-width="0.6"/>
<circle cx="107.10" cy="243.60" r="2.0" fill="#9c1033" stroke="#7a0a26" stroke-width="0.6"/>
<circle cx="112.10" cy="243.00" r="2.0" fill="#9c1033" stroke="#7a0a26" stroke-width="0.6"/>
<line x1="91.10" y1="221.25" x2="119.70" y2="221.25" stroke="#000" stroke-width="1.4" />
<line x1="98.60" y1="213.75" x2="112.20" y2="213.75" stroke="#000" stroke-width="1.4" />
<line x1="98.60" y1="228.50" x2="112.20" y2="228.50" stroke="#000" stroke-width="1.4" />
<line x1="105.40" y1="213.75" x2="105.40" y2="228.50" stroke="#000" stroke-width="1.4" />
<line x1="167.60" y1="163.30" x2="167.60" y2="244.95" stroke="#000" stroke-width="1.4" />
<line x1="164.00" y1="244.30" x2="167.60" y2="244.30" stroke="#000" stroke-width="1.2" />
<text x="156.64" y="246.80" font-size="8" font-weight="normal" text-anchor="start" stroke="#000" stroke-width="0.16">0</text>
<line x1="164.00" y1="228.60" x2="167.60" y2="228.60" stroke="#000" stroke-width="1.2" />
<text x="152.24" y="231.10" font-size="8" font-weight="normal" text-anchor="start" stroke="#000" stroke-width="0.16">20</text>
<line x1="164.00" y1="212.90" x2="167.60" y2="212.90" stroke="#000" stroke-width="1.2" />
<text x="152.24" y="215.40" font-size="8" font-weight="normal" text-anchor="start" stroke="#000" stroke-width="0.16">40</text>
<line x1="164.00" y1="197.20" x2="167.60" y2="197.20" stroke="#000" stroke-width="1.2" />
<text x="152.24" y="199.70" font-size="8" font-weight="normal" text-anchor="start" stroke="#000" stroke-width="0.16">60</text>
<line x1="164.00" y1="181.50" x2="167.60" y2="181.50" stroke="#000" stroke-width="1.2" />
<text x="152.24" y="184.00" font-size="8" font-weight="normal" text-anchor="start" stroke="#000" stroke-width="0.16">80</text>
<line x1="164.00" y1="165.80" x2="167.60" y2="165.80" stroke="#000" stroke-width="1.2" />
<text x="147.76" y="168.30" font-size="8" font-weight="normal" text-anchor="start" stroke="#000" stroke-width="0.16">100</text>
<line x1="166.90" y1="244.30" x2="251.60" y2="244.30" stroke="#000" stroke-width="1.4" />
<line x1="188.40" y1="244.30" x2="188.40" y2="247.30" stroke="#000" stroke-width="1.2" />
<line x1="230.80" y1="244.30" x2="230.80" y2="247.30" stroke="#000" stroke-width="1.2" />
<text x="175.47" y="257.00" font-size="8" font-weight="normal" text-anchor="start" textLength="25.98" lengthAdjust="spacingAndGlyphs" stroke="#000" stroke-width="0.16">Isotype</text>
<text x="213.83" y="257.00" font-size="8" font-weight="normal" text-anchor="start" textLength="32.80" lengthAdjust="spacingAndGlyphs" stroke="#000" stroke-width="0.16">mAb81.2</text>
<text x="0.00" y="0.00" font-size="9.6" font-weight="normal" text-anchor="start" textLength="101.59" lengthAdjust="spacingAndGlyphs" transform="translate(143.70,255.65) rotate(-90)" stroke="#000" stroke-width="0.08">% leukemic cells in spleen</text>
<line x1="190.80" y1="171.90" x2="230.80" y2="171.90" stroke="#000" stroke-width="1.3" />
<line x1="190.80" y1="170.00" x2="190.80" y2="173.80" stroke="#000" stroke-width="1.3" />
<line x1="230.80" y1="170.00" x2="230.80" y2="173.80" stroke="#000" stroke-width="1.3" />
<text x="198.16" y="168.00" font-size="8" font-weight="normal" text-anchor="start" stroke="#000" stroke-width="0.16">p=0.23</text>
<circle cx="188.40" cy="190.40" r="1.85" fill="none" stroke="#000" stroke-width="1.25"/>
<circle cx="190.90" cy="198.10" r="1.85" fill="none" stroke="#000" stroke-width="1.25"/>
<circle cx="185.90" cy="202.60" r="1.85" fill="none" stroke="#000" stroke-width="1.25"/>
<circle cx="193.25" cy="206.80" r="1.85" fill="none" stroke="#000" stroke-width="1.25"/>
<circle cx="183.50" cy="208.50" r="1.85" fill="none" stroke="#000" stroke-width="1.25"/>
<circle cx="188.40" cy="208.30" r="1.85" fill="none" stroke="#000" stroke-width="1.25"/>
<circle cx="188.40" cy="214.00" r="1.85" fill="none" stroke="#000" stroke-width="1.25"/>
<circle cx="185.90" cy="220.00" r="1.85" fill="none" stroke="#000" stroke-width="1.25"/>
<circle cx="190.90" cy="222.40" r="1.85" fill="none" stroke="#000" stroke-width="1.25"/>
<circle cx="188.40" cy="234.90" r="1.85" fill="none" stroke="#000" stroke-width="1.25"/>
<line x1="174.10" y1="210.60" x2="202.70" y2="210.60" stroke="#000" stroke-width="1.4" />
<line x1="181.60" y1="206.60" x2="195.20" y2="206.60" stroke="#000" stroke-width="1.4" />
<line x1="181.60" y1="214.40" x2="195.20" y2="214.40" stroke="#000" stroke-width="1.4" />
<line x1="188.40" y1="206.60" x2="188.40" y2="214.40" stroke="#000" stroke-width="1.4" />
<circle cx="230.70" cy="187.30" r="2.0" fill="#9c1033" stroke="#7a0a26" stroke-width="0.6"/>
<circle cx="230.70" cy="201.10" r="2.0" fill="#9c1033" stroke="#7a0a26" stroke-width="0.6"/>
<circle cx="235.60" cy="207.60" r="2.0" fill="#9c1033" stroke="#7a0a26" stroke-width="0.6"/>
<circle cx="225.80" cy="210.50" r="2.0" fill="#9c1033" stroke="#7a0a26" stroke-width="0.6"/>
<circle cx="230.70" cy="211.60" r="2.0" fill="#9c1033" stroke="#7a0a26" stroke-width="0.6"/>
<circle cx="228.30" cy="227.80" r="2.0" fill="#9c1033" stroke="#7a0a26" stroke-width="0.6"/>
<circle cx="230.70" cy="227.00" r="2.0" fill="#9c1033" stroke="#7a0a26" stroke-width="0.6"/>
<circle cx="232.60" cy="232.70" r="2.0" fill="#9c1033" stroke="#7a0a26" stroke-width="0.6"/>
<circle cx="228.30" cy="244.00" r="2.0" fill="#9c1033" stroke="#7a0a26" stroke-width="0.6"/>
<circle cx="232.60" cy="244.00" r="2.0" fill="#9c1033" stroke="#7a0a26" stroke-width="0.6"/>
<line x1="216.50" y1="219.70" x2="245.10" y2="219.70" stroke="#000" stroke-width="1.4" />
<line x1="224.00" y1="213.70" x2="237.60" y2="213.70" stroke="#000" stroke-width="1.4" />
<line x1="224.00" y1="225.40" x2="237.60" y2="225.40" stroke="#000" stroke-width="1.4" />
<line x1="230.80" y1="213.70" x2="230.80" y2="225.40" stroke="#000" stroke-width="1.4" />
<line x1="292.00" y1="163.30" x2="292.00" y2="244.95" stroke="#000" stroke-width="1.4" />
<line x1="288.40" y1="244.30" x2="292.00" y2="244.30" stroke="#000" stroke-width="1.2" />
<text x="281.14" y="246.80" font-size="8" font-weight="normal" text-anchor="start" stroke="#000" stroke-width="0.16">0</text>
<line x1="288.40" y1="228.49" x2="292.00" y2="228.49" stroke="#000" stroke-width="1.2" />
<text x="276.74" y="230.99" font-size="8" font-weight="normal" text-anchor="start" stroke="#000" stroke-width="0.16">50</text>
<line x1="288.40" y1="212.67" x2="292.00" y2="212.67" stroke="#000" stroke-width="1.2" />
<text x="272.26" y="215.17" font-size="8" font-weight="normal" text-anchor="start" stroke="#000" stroke-width="0.16">100</text>
<line x1="288.40" y1="196.86" x2="292.00" y2="196.86" stroke="#000" stroke-width="1.2" />
<text x="272.26" y="199.36" font-size="8" font-weight="normal" text-anchor="start" stroke="#000" stroke-width="0.16">150</text>
<line x1="288.40" y1="181.04" x2="292.00" y2="181.04" stroke="#000" stroke-width="1.2" />
<text x="272.26" y="183.54" font-size="8" font-weight="normal" text-anchor="start" stroke="#000" stroke-width="0.16">200</text>
<line x1="288.40" y1="165.23" x2="292.00" y2="165.23" stroke="#000" stroke-width="1.2" />
<text x="272.26" y="167.73" font-size="8" font-weight="normal" text-anchor="start" stroke="#000" stroke-width="0.16">250</text>
<line x1="291.30" y1="244.30" x2="377.40" y2="244.30" stroke="#000" stroke-width="1.4" />
<line x1="313.70" y1="244.30" x2="313.70" y2="247.30" stroke="#000" stroke-width="1.2" />
<line x1="356.60" y1="244.30" x2="356.60" y2="247.30" stroke="#000" stroke-width="1.2" />
<text x="300.46" y="257.00" font-size="8" font-weight="normal" text-anchor="start" textLength="26.40" lengthAdjust="spacingAndGlyphs" stroke="#000" stroke-width="0.16">Isotype</text>
<text x="339.42" y="257.00" font-size="8" font-weight="normal" text-anchor="start" textLength="33.22" lengthAdjust="spacingAndGlyphs" stroke="#000" stroke-width="0.16">mAb81.2</text>
<text x="0.00" y="0.00" font-size="9.6" font-weight="normal" text-anchor="start" textLength="75.92" lengthAdjust="spacingAndGlyphs" transform="translate(268.10,243.04) rotate(-90)" stroke="#000" stroke-width="0.08">Spleen weight (mg)</text>
<line x1="315.60" y1="172.00" x2="356.30" y2="172.00" stroke="#000" stroke-width="1.3" />
<line x1="315.60" y1="170.10" x2="315.60" y2="173.90" stroke="#000" stroke-width="1.3" />
<line x1="356.30" y1="170.10" x2="356.30" y2="173.90" stroke="#000" stroke-width="1.3" />
<text x="320.76" y="168.00" font-size="8" font-weight="normal" text-anchor="start" stroke="#000" stroke-width="0.16">p=0.032</text>
<circle cx="313.60" cy="183.90" r="1.85" fill="none" stroke="#000" stroke-width="1.25"/>
<circle cx="306.30" cy="211.50" r="1.85" fill="none" stroke="#000" stroke-width="1.25"/>
<circle cx="310.60" cy="211.50" r="1.85" fill="none" stroke="#000" stroke-width="1.25"/>
<circle cx="316.20" cy="211.50" r="1.85" fill="none" stroke="#000" stroke-width="1.25"/>
<circle cx="320.70" cy="211.50" r="1.85" fill="none" stroke="#000" stroke-width="1.25"/>
<circle cx="316.20" cy="214.60" r="1.85" fill="none" stroke="#000" stroke-width="1.25"/>
<circle cx="304.00" cy="218.80" r="1.85" fill="none" stroke="#000" stroke-width="1.25"/>
<circle cx="323.40" cy="219.10" r="1.85" fill="none" stroke="#000" stroke-width="1.25"/>
<circle cx="308.90" cy="222.10" r="1.85" fill="none" stroke="#000" stroke-width="1.25"/>
<circle cx="313.50" cy="222.10" r="1.85" fill="none" stroke="#000" stroke-width="1.25"/>
<circle cx="318.10" cy="222.10" r="1.85" fill="none" stroke="#000" stroke-width="1.25"/>
<line x1="299.30" y1="213.90" x2="327.90" y2="213.90" stroke="#000" stroke-width="1.4" />
<line x1="307.00" y1="211.60" x2="320.20" y2="211.60" stroke="#000" stroke-width="1.4" />
<line x1="307.00" y1="217.00" x2="320.20" y2="217.00" stroke="#000" stroke-width="1.4" />
<line x1="313.60" y1="211.60" x2="313.60" y2="217.00" stroke="#000" stroke-width="1.4" />
<circle cx="353.60" cy="207.80" r="2.0" fill="#9c1033" stroke="#7a0a26" stroke-width="0.6"/>
<circle cx="358.80" cy="207.10" r="2.0" fill="#9c1033" stroke="#7a0a26" stroke-width="0.6"/>
<circle cx="356.20" cy="219.60" r="2.0" fill="#9c1033" stroke="#7a0a26" stroke-width="0.6"/>
<circle cx="359.40" cy="225.00" r="2.0" fill="#9c1033" stroke="#7a0a26" stroke-width="0.6"/>
<circle cx="348.40" cy="229.00" r="2.0" fill="#9c1033" stroke="#7a0a26" stroke-width="0.6"/>
<circle cx="350.50" cy="227.90" r="2.0" fill="#9c1033" stroke="#7a0a26" stroke-width="0.6"/>
<circle cx="353.60" cy="233.10" r="2.0" fill="#9c1033" stroke="#7a0a26" stroke-width="0.6"/>
<circle cx="358.30" cy="233.30" r="2.0" fill="#9c1033" stroke="#7a0a26" stroke-width="0.6"/>
<circle cx="363.50" cy="232.50" r="2.0" fill="#9c1033" stroke="#7a0a26" stroke-width="0.6"/>
<circle cx="356.20" cy="239.40" r="2.0" fill="#9c1033" stroke="#7a0a26" stroke-width="0.6"/>
<line x1="342.20" y1="225.30" x2="370.20" y2="225.30" stroke="#000" stroke-width="1.4" />
<line x1="349.20" y1="222.10" x2="363.20" y2="222.10" stroke="#000" stroke-width="1.4" />
<line x1="349.20" y1="228.10" x2="363.20" y2="228.10" stroke="#000" stroke-width="1.4" />
<line x1="356.20" y1="222.10" x2="356.20" y2="228.10" stroke="#000" stroke-width="1.4" />
<line x1="425.80" y1="163.30" x2="425.80" y2="244.25" stroke="#000" stroke-width="1.4" />
<line x1="422.20" y1="243.60" x2="425.80" y2="243.60" stroke="#000" stroke-width="1.2" />
<text x="415.44" y="246.10" font-size="8" font-weight="normal" text-anchor="start" stroke="#000" stroke-width="0.16">0</text>
<line x1="422.20" y1="217.65" x2="425.80" y2="217.65" stroke="#000" stroke-width="1.2" />
<text x="397.68" y="220.15" font-size="8" font-weight="normal" text-anchor="start" stroke="#000" stroke-width="0.16">20000</text>
<line x1="422.20" y1="191.70" x2="425.80" y2="191.70" stroke="#000" stroke-width="1.2" />
<text x="397.68" y="194.20" font-size="8" font-weight="normal" text-anchor="start" stroke="#000" stroke-width="0.16">40000</text>
<line x1="422.20" y1="165.75" x2="425.80" y2="165.75" stroke="#000" stroke-width="1.2" />
<text x="397.68" y="168.25" font-size="8" font-weight="normal" text-anchor="start" stroke="#000" stroke-width="0.16">60000</text>
<line x1="425.10" y1="243.60" x2="510.20" y2="243.60" stroke="#000" stroke-width="1.4" />
<text x="0.00" y="0.00" font-size="9.6" font-weight="normal" text-anchor="start" textLength="46.01" lengthAdjust="spacingAndGlyphs" transform="translate(392.60,228.03) rotate(-90)" stroke="#000" stroke-width="0.08">Cell number</text>
<line x1="437.20" y1="170.60" x2="437.20" y2="176.90" stroke="#000" stroke-width="1.6" />
<line x1="433.70" y1="170.60" x2="440.70" y2="170.60" stroke="#000" stroke-width="1.5" />
<rect x="429.50" y="176.90" width="15.40" height="66.70" fill="#b4b4b4" />
<line x1="437.20" y1="243.60" x2="437.20" y2="246.60" stroke="#000" stroke-width="1.2" />
<line x1="458.50" y1="173.00" x2="458.50" y2="178.80" stroke="#000" stroke-width="1.6" />
<line x1="455.00" y1="173.00" x2="462.00" y2="173.00" stroke="#000" stroke-width="1.5" />
<rect x="451.10" y="178.80" width="14.80" height="64.80" fill="#000" />
<line x1="458.50" y1="243.60" x2="458.50" y2="246.60" stroke="#000" stroke-width="1.2" />
<line x1="480.05" y1="171.80" x2="480.05" y2="176.20" stroke="#000" stroke-width="1.6" />
<line x1="476.55" y1="171.80" x2="483.55" y2="171.80" stroke="#000" stroke-width="1.5" />
<rect x="472.20" y="176.20" width="15.70" height="67.40" fill="#aa0f2f" />
<line x1="480.05" y1="243.60" x2="480.05" y2="246.60" stroke="#000" stroke-width="1.2" />
<line x1="501.50" y1="170.60" x2="501.50" y2="176.20" stroke="#000" stroke-width="1.6" />
<line x1="498.00" y1="170.60" x2="505.00" y2="170.60" stroke="#000" stroke-width="1.5" />
<rect x="493.90" y="176.20" width="15.20" height="67.40" fill="#2c4b82" />
<line x1="501.50" y1="243.60" x2="501.50" y2="246.60" stroke="#000" stroke-width="1.2" />
<text x="0.00" y="0.00" font-size="8" font-weight="normal" text-anchor="end" transform="translate(440.40,253.00) rotate(-45)" stroke="#000" stroke-width="0.16">No ab</text>
<text x="0.00" y="0.00" font-size="8" font-weight="normal" text-anchor="end" transform="translate(461.70,253.00) rotate(-45)" stroke="#000" stroke-width="0.16">Isotype</text>
<text x="0.00" y="0.00" font-size="8" font-weight="normal" text-anchor="end" transform="translate(483.10,253.00) rotate(-45)" stroke="#000" stroke-width="0.16">mAb81.2</text>
<text x="0.00" y="0.00" font-size="8" font-weight="normal" text-anchor="end" transform="translate(504.70,253.00) rotate(-45)" stroke="#000" stroke-width="0.16">mAb3F8</text>
<line x1="52.30" y1="318.10" x2="52.30" y2="396.95" stroke="#000" stroke-width="1.4" />
<line x1="48.70" y1="395.40" x2="52.30" y2="395.40" stroke="#000" stroke-width="1.2" />
<text x="40.84" y="397.90" font-size="8" font-weight="normal" text-anchor="start" stroke="#000" stroke-width="0.16">0</text>
<line x1="48.70" y1="381.31" x2="52.30" y2="381.31" stroke="#000" stroke-width="1.2" />
<text x="36.44" y="383.81" font-size="8" font-weight="normal" text-anchor="start" stroke="#000" stroke-width="0.16">20</text>
<line x1="48.70" y1="367.22" x2="52.30" y2="367.22" stroke="#000" stroke-width="1.2" />
<text x="36.44" y="369.72" font-size="8" font-weight="normal" text-anchor="start" stroke="#000" stroke-width="0.16">40</text>
<line x1="48.70" y1="353.13" x2="52.30" y2="353.13" stroke="#000" stroke-width="1.2" />
<text x="36.44" y="355.63" font-size="8" font-weight="normal" text-anchor="start" stroke="#000" stroke-width="0.16">60</text>
<line x1="48.70" y1="339.04" x2="52.30" y2="339.04" stroke="#000" stroke-width="1.2" />
<text x="36.44" y="341.54" font-size="8" font-weight="normal" text-anchor="start" stroke="#000" stroke-width="0.16">80</text>
<line x1="48.70" y1="324.95" x2="52.30" y2="324.95" stroke="#000" stroke-width="1.2" />
<text x="31.96" y="327.45" font-size="8" font-weight="normal" text-anchor="start" stroke="#000" stroke-width="0.16">100</text>
<line x1="51.60" y1="396.30" x2="158.50" y2="396.30" stroke="#000" stroke-width="1.4" />
<text x="0.00" y="0.00" font-size="9.6" font-weight="normal" text-anchor="start" textLength="79.92" lengthAdjust="spacingAndGlyphs" transform="translate(17.30,395.27) rotate(-90)" stroke="#000" stroke-width="0.08">% viable, apoptotic,</text>
<text x="0.00" y="0.00" font-size="9.6" font-weight="normal" text-anchor="start" textLength="55.08" lengthAdjust="spacingAndGlyphs" transform="translate(29.60,383.64) rotate(-90)" stroke="#000" stroke-width="0.08">and dead cells</text>
<rect x="56.00" y="324.95" width="14.40" height="21.13" fill="#cdcdcd" />
<rect x="56.00" y="346.08" width="14.40" height="19.02" fill="#6b6b6b" />
<rect x="56.00" y="365.11" width="14.40" height="31.19" fill="#000" />
<line x1="56.00" y1="324.75" x2="70.40" y2="324.75" stroke="#fff" stroke-width="0.8" />
<line x1="59.80" y1="324.05" x2="66.60" y2="324.05" stroke="#000" stroke-width="1.5" />
<line x1="56.00" y1="345.88" x2="70.40" y2="345.88" stroke="#fff" stroke-width="0.8" />
<line x1="59.80" y1="345.19" x2="66.60" y2="345.19" stroke="#000" stroke-width="1.5" />
<line x1="56.00" y1="364.91" x2="70.40" y2="364.91" stroke="#fff" stroke-width="0.8" />
<line x1="59.80" y1="364.21" x2="66.60" y2="364.21" stroke="#000" stroke-width="1.5" />
<line x1="63.20" y1="396.30" x2="63.20" y2="399.30" stroke="#000" stroke-width="1.2" />
<rect x="77.20" y="324.95" width="14.50" height="2.82" fill="#cdcdcd" />
<rect x="77.20" y="327.77" width="14.50" height="9.16" fill="#6b6b6b" />
<rect x="77.20" y="336.93" width="14.50" height="59.37" fill="#000" />
<line x1="77.20" y1="324.75" x2="91.70" y2="324.75" stroke="#fff" stroke-width="0.8" />
<line x1="81.05" y1="324.05" x2="87.85" y2="324.05" stroke="#000" stroke-width="1.5" />
<line x1="77.20" y1="327.57" x2="91.70" y2="327.57" stroke="#fff" stroke-width="0.8" />
<line x1="81.05" y1="326.87" x2="87.85" y2="326.87" stroke="#000" stroke-width="1.5" />
<line x1="77.20" y1="336.73" x2="91.70" y2="336.73" stroke="#fff" stroke-width="0.8" />
<line x1="81.05" y1="336.03" x2="87.85" y2="336.03" stroke="#000" stroke-width="1.5" />
<line x1="84.45" y1="396.30" x2="84.45" y2="399.30" stroke="#000" stroke-width="1.2" />
<rect x="99.40" y="324.95" width="14.20" height="2.82" fill="#cdcdcd" />
<rect x="99.40" y="327.77" width="14.20" height="9.16" fill="#6b6b6b" />
<rect x="99.40" y="336.93" width="14.20" height="59.37" fill="#000" />
<line x1="99.40" y1="324.75" x2="113.60" y2="324.75" stroke="#fff" stroke-width="0.8" />
<line x1="103.10" y1="324.05" x2="109.90" y2="324.05" stroke="#000" stroke-width="1.5" />
<line x1="99.40" y1="327.57" x2="113.60" y2="327.57" stroke="#fff" stroke-width="0.8" />
<line x1="103.10" y1="326.87" x2="109.90" y2="326.87" stroke="#000" stroke-width="1.5" />
<line x1="99.40" y1="336.73" x2="113.60" y2="336.73" stroke="#fff" stroke-width="0.8" />
<line x1="103.10" y1="336.03" x2="109.90" y2="336.03" stroke="#000" stroke-width="1.5" />
<line x1="106.50" y1="396.30" x2="106.50" y2="399.30" stroke="#000" stroke-width="1.2" />
<rect x="121.00" y="324.95" width="14.30" height="2.82" fill="#cdcdcd" />
<rect x="121.00" y="327.77" width="14.30" height="9.51" fill="#6b6b6b" />
<rect x="121.00" y="337.28" width="14.30" height="59.02" fill="#000" />
<line x1="121.00" y1="324.75" x2="135.30" y2="324.75" stroke="#fff" stroke-width="0.8" />
<line x1="124.75" y1="324.05" x2="131.55" y2="324.05" stroke="#000" stroke-width="1.5" />
<line x1="121.00" y1="327.57" x2="135.30" y2="327.57" stroke="#fff" stroke-width="0.8" />
<line x1="124.75" y1="326.87" x2="131.55" y2="326.87" stroke="#000" stroke-width="1.5" />
<line x1="121.00" y1="337.08" x2="135.30" y2="337.08" stroke="#fff" stroke-width="0.8" />
<line x1="124.75" y1="336.38" x2="131.55" y2="336.38" stroke="#000" stroke-width="1.5" />
<line x1="128.15" y1="396.30" x2="128.15" y2="399.30" stroke="#000" stroke-width="1.2" />
<rect x="142.60" y="324.95" width="14.40" height="2.82" fill="#cdcdcd" />
<rect x="142.60" y="327.77" width="14.40" height="9.51" fill="#6b6b6b" />
<rect x="142.60" y="337.28" width="14.40" height="59.02" fill="#000" />
<line x1="142.60" y1="324.75" x2="157.00" y2="324.75" stroke="#fff" stroke-width="0.8" />
<line x1="146.40" y1="324.05" x2="153.20" y2="324.05" stroke="#000" stroke-width="1.5" />
<line x1="142.60" y1="327.57" x2="157.00" y2="327.57" stroke="#fff" stroke-width="0.8" />
<line x1="146.40" y1="326.87" x2="153.20" y2="326.87" stroke="#000" stroke-width="1.5" />
<line x1="142.60" y1="337.08" x2="157.00" y2="337.08" stroke="#fff" stroke-width="0.8" />
<line x1="146.40" y1="336.38" x2="153.20" y2="336.38" stroke="#000" stroke-width="1.5" />
<line x1="149.80" y1="396.30" x2="149.80" y2="399.30" stroke="#000" stroke-width="1.2" />
<text x="0.00" y="0.00" font-size="8" font-weight="normal" text-anchor="end" transform="translate(66.20,405.00) rotate(-45)" stroke="#000" stroke-width="0.16">STP</text>
<text x="0.00" y="0.00" font-size="8" font-weight="normal" text-anchor="end" transform="translate(87.80,405.00) rotate(-45)" stroke="#000" stroke-width="0.16">No ab</text>
<text x="0.00" y="0.00" font-size="8" font-weight="normal" text-anchor="end" transform="translate(109.60,405.00) rotate(-45)" stroke="#000" stroke-width="0.16">Isotype</text>
<text x="0.00" y="0.00" font-size="8" font-weight="normal" text-anchor="end" transform="translate(131.40,405.00) rotate(-45)" stroke="#000" stroke-width="0.16">mAb81.2</text>
<text x="0.00" y="0.00" font-size="8" font-weight="normal" text-anchor="end" transform="translate(153.00,405.00) rotate(-45)" stroke="#000" stroke-width="0.16">mAb3F8</text>
<rect x="164.20" y="322.70" width="9.30" height="5.20" fill="#cdcdcd" />
<rect x="164.20" y="334.40" width="9.30" height="5.40" fill="#6b6b6b" />
<rect x="164.20" y="345.80" width="9.30" height="5.20" fill="#000" />
<text x="176.47" y="327.90" font-size="7.9" font-weight="normal" text-anchor="start" stroke="#000" stroke-width="0.16">Dead</text>
<text x="177.10" y="338.60" font-size="7.9" font-weight="normal" text-anchor="start" textLength="31.93" lengthAdjust="spacingAndGlyphs" stroke="#000" stroke-width="0.16">Apoptotic</text>
<text x="177.02" y="349.70" font-size="7.9" font-weight="normal" text-anchor="start" textLength="21.20" lengthAdjust="spacingAndGlyphs" stroke="#000" stroke-width="0.16">Viable</text>
<line x1="250.00" y1="315.30" x2="250.00" y2="396.95" stroke="#000" stroke-width="1.4" />
<line x1="246.40" y1="396.30" x2="250.00" y2="396.30" stroke="#000" stroke-width="1.2" />
<text x="240.44" y="398.80" font-size="8" font-weight="normal" text-anchor="start" stroke="#000" stroke-width="0.16">0</text>
<line x1="246.40" y1="370.35" x2="250.00" y2="370.35" stroke="#000" stroke-width="1.2" />
<text x="236.04" y="372.85" font-size="8" font-weight="normal" text-anchor="start" stroke="#000" stroke-width="0.16">10</text>
<line x1="246.40" y1="344.40" x2="250.00" y2="344.40" stroke="#000" stroke-width="1.2" />
<text x="236.04" y="346.90" font-size="8" font-weight="normal" text-anchor="start" stroke="#000" stroke-width="0.16">20</text>
<line x1="246.40" y1="318.45" x2="250.00" y2="318.45" stroke="#000" stroke-width="1.2" />
<text x="236.04" y="320.95" font-size="8" font-weight="normal" text-anchor="start" stroke="#000" stroke-width="0.16">30</text>
<line x1="249.30" y1="396.30" x2="370.90" y2="396.30" stroke="#000" stroke-width="1.4" />
<line x1="250.00" y1="396.30" x2="250.00" y2="399.60" stroke="#000" stroke-width="1.2" />
<line x1="261.86" y1="396.30" x2="261.86" y2="398.30" stroke="#000" stroke-width="0.9" />
<line x1="268.80" y1="396.30" x2="268.80" y2="398.30" stroke="#000" stroke-width="0.9" />
<line x1="273.72" y1="396.30" x2="273.72" y2="398.30" stroke="#000" stroke-width="0.9" />
<line x1="277.54" y1="396.30" x2="277.54" y2="398.30" stroke="#000" stroke-width="0.9" />
<line x1="280.66" y1="396.30" x2="280.66" y2="398.30" stroke="#000" stroke-width="0.9" />
<line x1="283.30" y1="396.30" x2="283.30" y2="398.30" stroke="#000" stroke-width="0.9" />
<line x1="285.58" y1="396.30" x2="285.58" y2="398.30" stroke="#000" stroke-width="0.9" />
<line x1="287.60" y1="396.30" x2="287.60" y2="398.30" stroke="#000" stroke-width="0.9" />
<line x1="289.40" y1="396.30" x2="289.40" y2="399.60" stroke="#000" stroke-width="1.2" />
<line x1="301.26" y1="396.30" x2="301.26" y2="398.30" stroke="#000" stroke-width="0.9" />
<line x1="308.20" y1="396.30" x2="308.20" y2="398.30" stroke="#000" stroke-width="0.9" />
<line x1="313.12" y1="396.30" x2="313.12" y2="398.30" stroke="#000" stroke-width="0.9" />
<line x1="316.94" y1="396.30" x2="316.94" y2="398.30" stroke="#000" stroke-width="0.9" />
<line x1="320.06" y1="396.30" x2="320.06" y2="398.30" stroke="#000" stroke-width="0.9" />
<line x1="322.70" y1="396.30" x2="322.70" y2="398.30" stroke="#000" stroke-width="0.9" />
<line x1="324.98" y1="396.30" x2="324.98" y2="398.30" stroke="#000" stroke-width="0.9" />
<line x1="327.00" y1="396.30" x2="327.00" y2="398.30" stroke="#000" stroke-width="0.9" />
<line x1="328.80" y1="396.30" x2="328.80" y2="399.60" stroke="#000" stroke-width="1.2" />
<line x1="340.66" y1="396.30" x2="340.66" y2="398.30" stroke="#000" stroke-width="0.9" />
<line x1="347.60" y1="396.30" x2="347.60" y2="398.30" stroke="#000" stroke-width="0.9" />
<line x1="352.52" y1="396.30" x2="352.52" y2="398.30" stroke="#000" stroke-width="0.9" />
<line x1="356.34" y1="396.30" x2="356.34" y2="398.30" stroke="#000" stroke-width="0.9" />
<line x1="359.46" y1="396.30" x2="359.46" y2="398.30" stroke="#000" stroke-width="0.9" />
<line x1="362.10" y1="396.30" x2="362.10" y2="398.30" stroke="#000" stroke-width="0.9" />
<line x1="364.38" y1="396.30" x2="364.38" y2="398.30" stroke="#000" stroke-width="0.9" />
<line x1="366.40" y1="396.30" x2="366.40" y2="398.30" stroke="#000" stroke-width="0.9" />
<line x1="368.20" y1="396.30" x2="368.20" y2="399.60" stroke="#000" stroke-width="1.2" />
<text x="240.04" y="409.20" font-size="8" font-weight="normal" text-anchor="start" stroke="#000" stroke-width="0.16">0.001</text>
<text x="279.40" y="409.20" font-size="8" font-weight="normal" text-anchor="start" stroke="#000" stroke-width="0.16">0.010</text>
<text x="318.80" y="409.20" font-size="8" font-weight="normal" text-anchor="start" stroke="#000" stroke-width="0.16">0.100</text>
<text x="365.84" y="409.20" font-size="8" font-weight="normal" text-anchor="start" stroke="#000" stroke-width="0.16">1</text>
<text x="250.40" y="421.80" font-size="9.9" font-weight="normal" text-anchor="start" textLength="117.37" lengthAdjust="spacingAndGlyphs" stroke="#000" stroke-width="0.08">Antibody concentration µg/mL</text>
<text x="0.00" y="0.00" font-size="9.6" font-weight="normal" text-anchor="start" textLength="115.22" lengthAdjust="spacingAndGlyphs" transform="translate(231.50,415.35) rotate(-90)" stroke="#000" stroke-width="0.08">% specific cell death in ADCC</text>
<polyline points="250.00,385.92 289.40,356.08 328.80,342.32 368.20,332.20" fill="none" stroke="#2c4b82" stroke-width="1.6" />
<polyline points="250.00,384.62 289.40,384.36 328.80,373.46 368.20,327.27" fill="none" stroke="#aa0f2f" stroke-width="1.6" />
<polyline points="250.00,386.70 289.40,396.04 328.80,388.00 368.20,393.70" fill="none" stroke="#000" stroke-width="1.6" />
<line x1="257.70" y1="324.10" x2="267.10" y2="324.10" stroke="#000" stroke-width="1.7" />
<line x1="257.70" y1="333.10" x2="267.10" y2="333.10" stroke="#aa0f2f" stroke-width="1.7" />
<line x1="257.70" y1="342.70" x2="267.10" y2="342.70" stroke="#2c4b82" stroke-width="1.7" />
<text x="269.20" y="326.40" font-size="7.7" font-weight="normal" text-anchor="start" textLength="25.25" lengthAdjust="spacingAndGlyphs" stroke="#000" stroke-width="0.16">Isotype</text>
<text x="269.36" y="335.70" font-size="7.7" font-weight="normal" text-anchor="start" textLength="31.05" lengthAdjust="spacingAndGlyphs" stroke="#000" stroke-width="0.16">mAb81.2</text>
<text x="269.37" y="344.90" font-size="7.7" font-weight="normal" text-anchor="start" textLength="28.71" lengthAdjust="spacingAndGlyphs" stroke="#000" stroke-width="0.16">mAb3F8</text>
<line x1="418.60" y1="315.30" x2="418.60" y2="397.35" stroke="#000" stroke-width="1.4" />
<line x1="415.00" y1="396.70" x2="418.60" y2="396.70" stroke="#000" stroke-width="1.2" />
<text x="408.24" y="399.20" font-size="8" font-weight="normal" text-anchor="start" stroke="#000" stroke-width="0.16">0</text>
<line x1="415.00" y1="376.97" x2="418.60" y2="376.97" stroke="#000" stroke-width="1.2" />
<text x="403.84" y="379.47" font-size="8" font-weight="normal" text-anchor="start" stroke="#000" stroke-width="0.16">50</text>
<line x1="415.00" y1="357.25" x2="418.60" y2="357.25" stroke="#000" stroke-width="1.2" />
<text x="399.36" y="359.75" font-size="8" font-weight="normal" text-anchor="start" stroke="#000" stroke-width="0.16">100</text>
<line x1="415.00" y1="337.52" x2="418.60" y2="337.52" stroke="#000" stroke-width="1.2" />
<text x="399.36" y="340.02" font-size="8" font-weight="normal" text-anchor="start" stroke="#000" stroke-width="0.16">150</text>
<line x1="415.00" y1="317.80" x2="418.60" y2="317.80" stroke="#000" stroke-width="1.2" />
<text x="399.36" y="320.30" font-size="8" font-weight="normal" text-anchor="start" stroke="#000" stroke-width="0.16">200</text>
<line x1="417.90" y1="396.70" x2="507.70" y2="396.70" stroke="#000" stroke-width="1.4" />
<text x="0.00" y="0.00" font-size="9.6" font-weight="normal" text-anchor="start" textLength="67.03" lengthAdjust="spacingAndGlyphs" transform="translate(394.70,391.16) rotate(-90)" stroke="#000" stroke-width="0.08">% specific ADCP</text>
<line x1="433.65" y1="354.10" x2="433.65" y2="356.40" stroke="#000" stroke-width="1.6" />
<line x1="429.15" y1="354.10" x2="438.15" y2="354.10" stroke="#000" stroke-width="1.5" />
<rect x="423.50" y="356.40" width="20.30" height="40.30" fill="#000" />
<line x1="433.65" y1="396.70" x2="433.65" y2="399.70" stroke="#000" stroke-width="1.2" />
<line x1="463.20" y1="346.20" x2="463.20" y2="348.30" stroke="#000" stroke-width="1.6" />
<line x1="458.70" y1="346.20" x2="467.70" y2="346.20" stroke="#000" stroke-width="1.5" />
<rect x="453.30" y="348.30" width="19.80" height="48.40" fill="#aa0f2f" />
<line x1="463.20" y1="396.70" x2="463.20" y2="399.70" stroke="#000" stroke-width="1.2" />
<line x1="493.10" y1="331.60" x2="493.10" y2="335.10" stroke="#000" stroke-width="1.6" />
<line x1="488.60" y1="331.60" x2="497.60" y2="331.60" stroke="#000" stroke-width="1.5" />
<rect x="482.80" y="335.10" width="20.60" height="61.60" fill="#2c4b82" />
<line x1="493.10" y1="396.70" x2="493.10" y2="399.70" stroke="#000" stroke-width="1.2" />
<line x1="434.70" y1="316.10" x2="490.20" y2="316.10" stroke="#000" stroke-width="1.3" />
<line x1="434.70" y1="314.20" x2="434.70" y2="318.00" stroke="#000" stroke-width="1.3" />
<line x1="490.20" y1="314.20" x2="490.20" y2="318.00" stroke="#000" stroke-width="1.3" />
<text x="445.62" y="325.10" font-size="8" font-weight="normal" text-anchor="start" stroke="#000" stroke-width="0.16">p=0.0012</text>
<line x1="434.70" y1="331.60" x2="462.50" y2="331.60" stroke="#000" stroke-width="1.3" />
<line x1="434.70" y1="329.70" x2="434.70" y2="333.50" stroke="#000" stroke-width="1.3" />
<line x1="462.50" y1="329.70" x2="462.50" y2="333.50" stroke="#000" stroke-width="1.3" />
<text x="433.96" y="340.60" font-size="8" font-weight="normal" text-anchor="start" stroke="#000" stroke-width="0.16">p=0.012</text>
<text x="0.00" y="0.00" font-size="8.1" font-weight="normal" text-anchor="end" transform="translate(437.20,404.60) rotate(-37)" stroke="#000" stroke-width="0.16">Isotype</text>
<text x="0.00" y="0.00" font-size="8.1" font-weight="normal" text-anchor="end" transform="translate(466.80,404.60) rotate(-37)" stroke="#000" stroke-width="0.16">mAb81.2</text>
<text x="0.00" y="0.00" font-size="8.1" font-weight="normal" text-anchor="end" transform="translate(496.40,404.60) rotate(-37)" stroke="#000" stroke-width="0.16">mAb3F8</text>
<rect x="0.6" y="0.6" width="518.8" height="430.8" fill="none" stroke="#000" stroke-width="1.4"/>
</svg></body></html>
